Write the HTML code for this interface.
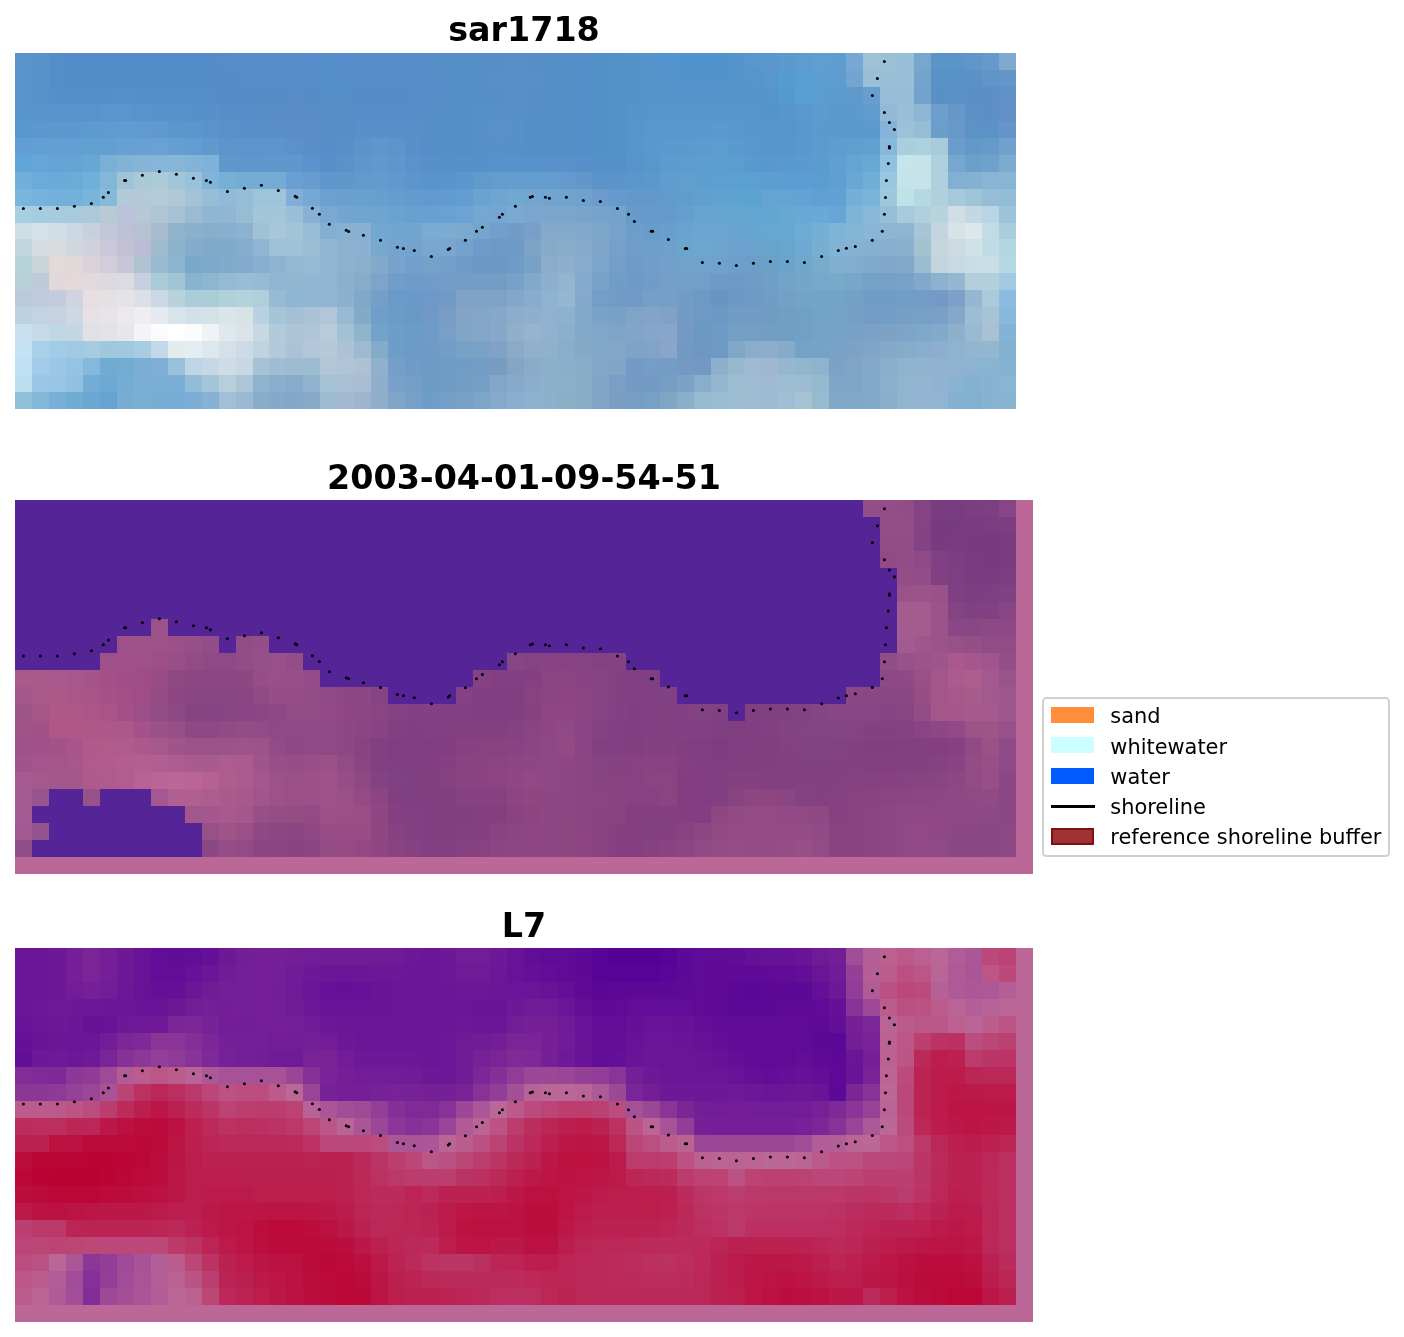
<!DOCTYPE html>
<html lang="en"><head><meta charset="utf-8"><title>shoreline detection</title>
<style>
html,body{margin:0;padding:0;background:#fff;}
body{width:1404px;height:1337px;position:relative;overflow:hidden;font-family:"DejaVu Sans","Liberation Sans",sans-serif;color:#000;}
.title{position:absolute;left:15px;width:1018px;text-align:center;font-weight:bold;font-size:33.33px;line-height:40px;height:40px;white-space:nowrap;}
.legend{position:absolute;left:1042px;top:697px;width:348px;height:159.5px;border:2px solid #d0d0d0;border-radius:4.5px;box-sizing:border-box;background:#fff;}
.sw{position:absolute;left:1050.8px;width:43.1px;height:16px;box-sizing:border-box;}
.lb{position:absolute;left:1110.3px;height:30px;line-height:30px;font-size:20.92px;white-space:nowrap;}
</style></head><body>
<svg width="1404" height="1337" viewBox="0 0 1404 1337" style="position:absolute;left:0;top:0">
<g shape-rendering="crispEdges">
<rect x="15.0" y="53.05" width="17.27" height="17.25" fill="#5994cc"/>
<rect x="31.97" y="53.05" width="17.27" height="17.25" fill="#5892cb"/>
<rect x="48.93" y="53.05" width="17.27" height="17.25" fill="#548ec9"/>
<rect x="65.9" y="53.05" width="136.03" height="17.25" fill="#538cc8"/>
<rect x="201.63" y="53.05" width="17.27" height="17.25" fill="#548cc8"/>
<rect x="218.59" y="53.05" width="17.27" height="17.25" fill="#568dc9"/>
<rect x="235.56" y="53.05" width="68.16" height="17.25" fill="#578dc9"/>
<rect x="303.42" y="53.05" width="17.27" height="17.25" fill="#578dca"/>
<rect x="320.39" y="53.05" width="17.27" height="17.25" fill="#568eca"/>
<rect x="337.35" y="53.05" width="17.27" height="17.25" fill="#578dca"/>
<rect x="354.32" y="53.05" width="68.16" height="17.25" fill="#578dc9"/>
<rect x="422.18" y="53.05" width="68.16" height="17.25" fill="#568ec8"/>
<rect x="490.05" y="53.05" width="17.27" height="17.25" fill="#578ec8"/>
<rect x="507.01" y="53.05" width="17.27" height="17.25" fill="#588fc9"/>
<rect x="523.98" y="53.05" width="17.27" height="17.25" fill="#578ec8"/>
<rect x="540.95" y="53.05" width="34.23" height="17.25" fill="#568ec8"/>
<rect x="574.88" y="53.05" width="17.27" height="17.25" fill="#558ec8"/>
<rect x="591.84" y="53.05" width="17.27" height="17.25" fill="#5490c8"/>
<rect x="608.81" y="53.05" width="17.27" height="17.25" fill="#5491c8"/>
<rect x="625.78" y="53.05" width="17.27" height="17.25" fill="#5492ca"/>
<rect x="642.74" y="53.05" width="17.27" height="17.25" fill="#5493cb"/>
<rect x="659.71" y="53.05" width="17.27" height="17.25" fill="#5294cd"/>
<rect x="676.67" y="53.05" width="51.2" height="17.25" fill="#5094ce"/>
<rect x="727.57" y="53.05" width="17.27" height="17.25" fill="#5394cd"/>
<rect x="744.54" y="53.05" width="17.27" height="17.25" fill="#5896cc"/>
<rect x="761.5" y="53.05" width="17.27" height="17.25" fill="#5b97cc"/>
<rect x="778.47" y="53.05" width="17.27" height="17.25" fill="#5b9ace"/>
<rect x="795.44" y="53.05" width="17.27" height="17.25" fill="#5c9ccf"/>
<rect x="812.4" y="53.05" width="17.27" height="17.25" fill="#609ecf"/>
<rect x="829.37" y="53.05" width="17.27" height="17.25" fill="#609dcf"/>
<rect x="846.33" y="53.05" width="17.27" height="17.25" fill="#77a7d3"/>
<rect x="863.3" y="53.05" width="17.27" height="17.25" fill="#9dc2d8"/>
<rect x="880.27" y="53.05" width="17.27" height="17.25" fill="#9cc1d7"/>
<rect x="897.23" y="53.05" width="17.27" height="17.25" fill="#98bfd6"/>
<rect x="914.2" y="53.05" width="17.27" height="17.25" fill="#77a7cf"/>
<rect x="931.16" y="53.05" width="34.23" height="17.25" fill="#5b95c7"/>
<rect x="965.1" y="53.05" width="17.27" height="17.25" fill="#6097c8"/>
<rect x="982.06" y="53.05" width="17.27" height="17.25" fill="#659aca"/>
<rect x="999.03" y="53.05" width="17.27" height="17.25" fill="#80a9cf"/>
<rect x="15.0" y="70.0" width="17.27" height="17.25" fill="#5994cc"/>
<rect x="31.97" y="70.0" width="17.27" height="17.25" fill="#5892cb"/>
<rect x="48.93" y="70.0" width="17.27" height="17.25" fill="#548ec9"/>
<rect x="65.9" y="70.0" width="136.03" height="17.25" fill="#538cc8"/>
<rect x="201.63" y="70.0" width="17.27" height="17.25" fill="#548cc8"/>
<rect x="218.59" y="70.0" width="17.27" height="17.25" fill="#558cc7"/>
<rect x="235.56" y="70.0" width="68.16" height="17.25" fill="#568cc7"/>
<rect x="303.42" y="70.0" width="17.27" height="17.25" fill="#558dc8"/>
<rect x="320.39" y="70.0" width="17.27" height="17.25" fill="#548ec8"/>
<rect x="337.35" y="70.0" width="17.27" height="17.25" fill="#558dc8"/>
<rect x="354.32" y="70.0" width="68.16" height="17.25" fill="#568cc7"/>
<rect x="422.18" y="70.0" width="17.27" height="17.25" fill="#568dc8"/>
<rect x="439.15" y="70.0" width="51.2" height="17.25" fill="#568ec8"/>
<rect x="490.05" y="70.0" width="17.27" height="17.25" fill="#588fc8"/>
<rect x="507.01" y="70.0" width="17.27" height="17.25" fill="#5a90c9"/>
<rect x="523.98" y="70.0" width="17.27" height="17.25" fill="#588fc8"/>
<rect x="540.95" y="70.0" width="34.23" height="17.25" fill="#568ec8"/>
<rect x="574.88" y="70.0" width="17.27" height="17.25" fill="#558ec8"/>
<rect x="591.84" y="70.0" width="17.27" height="17.25" fill="#5490c8"/>
<rect x="608.81" y="70.0" width="17.27" height="17.25" fill="#5491c8"/>
<rect x="625.78" y="70.0" width="17.27" height="17.25" fill="#5492ca"/>
<rect x="642.74" y="70.0" width="17.27" height="17.25" fill="#5593ca"/>
<rect x="659.71" y="70.0" width="17.27" height="17.25" fill="#5493cb"/>
<rect x="676.67" y="70.0" width="51.2" height="17.25" fill="#5393cc"/>
<rect x="727.57" y="70.0" width="17.27" height="17.25" fill="#5494cb"/>
<rect x="744.54" y="70.0" width="17.27" height="17.25" fill="#5694cb"/>
<rect x="761.5" y="70.0" width="17.27" height="17.25" fill="#5797cc"/>
<rect x="778.47" y="70.0" width="17.27" height="17.25" fill="#579cd0"/>
<rect x="795.44" y="70.0" width="17.27" height="17.25" fill="#599ed2"/>
<rect x="812.4" y="70.0" width="17.27" height="17.25" fill="#5d9ed0"/>
<rect x="829.37" y="70.0" width="17.27" height="17.25" fill="#5d9ccf"/>
<rect x="846.33" y="70.0" width="17.27" height="17.25" fill="#74a5d1"/>
<rect x="863.3" y="70.0" width="17.27" height="17.25" fill="#9bbfd7"/>
<rect x="880.27" y="70.0" width="17.27" height="17.25" fill="#9bc0d6"/>
<rect x="897.23" y="70.0" width="17.27" height="17.25" fill="#9abfd6"/>
<rect x="914.2" y="70.0" width="17.27" height="17.25" fill="#75a5cd"/>
<rect x="931.16" y="70.0" width="34.23" height="17.25" fill="#5992c5"/>
<rect x="965.1" y="70.0" width="17.27" height="17.25" fill="#5b92c6"/>
<rect x="982.06" y="70.0" width="17.27" height="17.25" fill="#6194c7"/>
<rect x="999.03" y="70.0" width="17.27" height="17.25" fill="#6596c9"/>
<rect x="15.0" y="86.94" width="17.27" height="17.25" fill="#5994cc"/>
<rect x="31.97" y="86.94" width="17.27" height="17.25" fill="#5892cb"/>
<rect x="48.93" y="86.94" width="17.27" height="17.25" fill="#558fca"/>
<rect x="65.9" y="86.94" width="34.23" height="17.25" fill="#548ec9"/>
<rect x="99.83" y="86.94" width="17.27" height="17.25" fill="#558fca"/>
<rect x="116.8" y="86.94" width="17.27" height="17.25" fill="#5690ca"/>
<rect x="133.76" y="86.94" width="17.27" height="17.25" fill="#558fca"/>
<rect x="150.73" y="86.94" width="51.2" height="17.25" fill="#548ec9"/>
<rect x="201.63" y="86.94" width="17.27" height="17.25" fill="#558dc8"/>
<rect x="218.59" y="86.94" width="17.27" height="17.25" fill="#558cc7"/>
<rect x="235.56" y="86.94" width="51.2" height="17.25" fill="#568cc6"/>
<rect x="286.46" y="86.94" width="17.27" height="17.25" fill="#578cc6"/>
<rect x="303.42" y="86.94" width="17.27" height="17.25" fill="#568cc6"/>
<rect x="320.39" y="86.94" width="17.27" height="17.25" fill="#558ec7"/>
<rect x="337.35" y="86.94" width="17.27" height="17.25" fill="#558dc7"/>
<rect x="354.32" y="86.94" width="51.2" height="17.25" fill="#568cc6"/>
<rect x="405.22" y="86.94" width="17.27" height="17.25" fill="#568cc7"/>
<rect x="422.18" y="86.94" width="17.27" height="17.25" fill="#568dc8"/>
<rect x="439.15" y="86.94" width="51.2" height="17.25" fill="#568ec8"/>
<rect x="490.05" y="86.94" width="17.27" height="17.25" fill="#578ec8"/>
<rect x="507.01" y="86.94" width="17.27" height="17.25" fill="#588fc8"/>
<rect x="523.98" y="86.94" width="17.27" height="17.25" fill="#578ec8"/>
<rect x="540.95" y="86.94" width="34.23" height="17.25" fill="#568ec8"/>
<rect x="574.88" y="86.94" width="17.27" height="17.25" fill="#558ec8"/>
<rect x="591.84" y="86.94" width="17.27" height="17.25" fill="#5490c8"/>
<rect x="608.81" y="86.94" width="17.27" height="17.25" fill="#5491c8"/>
<rect x="625.78" y="86.94" width="17.27" height="17.25" fill="#5492ca"/>
<rect x="642.74" y="86.94" width="119.06" height="17.25" fill="#5593ca"/>
<rect x="761.5" y="86.94" width="17.27" height="17.25" fill="#5595cc"/>
<rect x="778.47" y="86.94" width="17.27" height="17.25" fill="#549ad0"/>
<rect x="795.44" y="86.94" width="17.27" height="17.25" fill="#579ed1"/>
<rect x="812.4" y="86.94" width="17.27" height="17.25" fill="#5c9dd0"/>
<rect x="829.37" y="86.94" width="17.27" height="17.25" fill="#5c9bcd"/>
<rect x="846.33" y="86.94" width="17.27" height="17.25" fill="#609acd"/>
<rect x="863.3" y="86.94" width="17.27" height="17.25" fill="#689ecf"/>
<rect x="880.27" y="86.94" width="34.23" height="17.25" fill="#98bdd6"/>
<rect x="914.2" y="86.94" width="17.27" height="17.25" fill="#73a3cc"/>
<rect x="931.16" y="86.94" width="17.27" height="17.25" fill="#5a90c5"/>
<rect x="948.13" y="86.94" width="17.27" height="17.25" fill="#5b91c5"/>
<rect x="965.1" y="86.94" width="17.27" height="17.25" fill="#5a90c5"/>
<rect x="982.06" y="86.94" width="17.27" height="17.25" fill="#5c8fc5"/>
<rect x="999.03" y="86.94" width="17.27" height="17.25" fill="#6090c6"/>
<rect x="15.0" y="103.88" width="17.27" height="17.25" fill="#5894cc"/>
<rect x="31.97" y="103.88" width="68.16" height="17.25" fill="#5893cc"/>
<rect x="99.83" y="103.88" width="34.23" height="17.25" fill="#5a95cd"/>
<rect x="133.76" y="103.88" width="17.27" height="17.25" fill="#5993cc"/>
<rect x="150.73" y="103.88" width="34.23" height="17.25" fill="#5792cb"/>
<rect x="184.66" y="103.88" width="17.27" height="17.25" fill="#5791cb"/>
<rect x="201.63" y="103.88" width="17.27" height="17.25" fill="#5790ca"/>
<rect x="218.59" y="103.88" width="17.27" height="17.25" fill="#578ec8"/>
<rect x="235.56" y="103.88" width="34.23" height="17.25" fill="#578dc8"/>
<rect x="269.49" y="103.88" width="17.27" height="17.25" fill="#588dc7"/>
<rect x="286.46" y="103.88" width="34.23" height="17.25" fill="#5a8dc5"/>
<rect x="320.39" y="103.88" width="17.27" height="17.25" fill="#588ec7"/>
<rect x="337.35" y="103.88" width="17.27" height="17.25" fill="#578ec8"/>
<rect x="354.32" y="103.88" width="68.16" height="17.25" fill="#578dc8"/>
<rect x="422.18" y="103.88" width="51.2" height="17.25" fill="#568ec8"/>
<rect x="473.08" y="103.88" width="17.27" height="17.25" fill="#578fc8"/>
<rect x="490.05" y="103.88" width="17.27" height="17.25" fill="#5890c8"/>
<rect x="507.01" y="103.88" width="17.27" height="17.25" fill="#578fc8"/>
<rect x="523.98" y="103.88" width="51.2" height="17.25" fill="#568ec8"/>
<rect x="574.88" y="103.88" width="17.27" height="17.25" fill="#558ec8"/>
<rect x="591.84" y="103.88" width="17.27" height="17.25" fill="#5490c8"/>
<rect x="608.81" y="103.88" width="17.27" height="17.25" fill="#5491c9"/>
<rect x="625.78" y="103.88" width="17.27" height="17.25" fill="#5593ca"/>
<rect x="642.74" y="103.88" width="51.2" height="17.25" fill="#5694cb"/>
<rect x="693.64" y="103.88" width="17.27" height="17.25" fill="#5695cb"/>
<rect x="710.61" y="103.88" width="17.27" height="17.25" fill="#5795cb"/>
<rect x="727.57" y="103.88" width="17.27" height="17.25" fill="#5695cb"/>
<rect x="744.54" y="103.88" width="17.27" height="17.25" fill="#5694cb"/>
<rect x="761.5" y="103.88" width="17.27" height="17.25" fill="#5594cb"/>
<rect x="778.47" y="103.88" width="17.27" height="17.25" fill="#5596cc"/>
<rect x="795.44" y="103.88" width="17.27" height="17.25" fill="#5899ce"/>
<rect x="812.4" y="103.88" width="17.27" height="17.25" fill="#5c9bce"/>
<rect x="829.37" y="103.88" width="17.27" height="17.25" fill="#5b99cd"/>
<rect x="846.33" y="103.88" width="17.27" height="17.25" fill="#5c99cd"/>
<rect x="863.3" y="103.88" width="17.27" height="17.25" fill="#629cce"/>
<rect x="880.27" y="103.88" width="17.27" height="17.25" fill="#92bad7"/>
<rect x="897.23" y="103.88" width="17.27" height="17.25" fill="#99bed6"/>
<rect x="914.2" y="103.88" width="17.27" height="17.25" fill="#8eb6d5"/>
<rect x="931.16" y="103.88" width="17.27" height="17.25" fill="#6e9fcc"/>
<rect x="948.13" y="103.88" width="17.27" height="17.25" fill="#6597c8"/>
<rect x="965.1" y="103.88" width="17.27" height="17.25" fill="#5c91c5"/>
<rect x="982.06" y="103.88" width="17.27" height="17.25" fill="#5b8fc5"/>
<rect x="999.03" y="103.88" width="17.27" height="17.25" fill="#618fc7"/>
<rect x="15.0" y="120.83" width="17.27" height="17.25" fill="#5a97ce"/>
<rect x="31.97" y="120.83" width="17.27" height="17.25" fill="#5c98ce"/>
<rect x="48.93" y="120.83" width="34.23" height="17.25" fill="#5d99cf"/>
<rect x="82.86" y="120.83" width="17.27" height="17.25" fill="#5d9ad0"/>
<rect x="99.83" y="120.83" width="17.27" height="17.25" fill="#609bd0"/>
<rect x="116.8" y="120.83" width="17.27" height="17.25" fill="#619bd0"/>
<rect x="133.76" y="120.83" width="17.27" height="17.25" fill="#619acf"/>
<rect x="150.73" y="120.83" width="17.27" height="17.25" fill="#6099ce"/>
<rect x="167.69" y="120.83" width="17.27" height="17.25" fill="#5b96cd"/>
<rect x="184.66" y="120.83" width="17.27" height="17.25" fill="#5c96cd"/>
<rect x="201.63" y="120.83" width="17.27" height="17.25" fill="#5b94cc"/>
<rect x="218.59" y="120.83" width="17.27" height="17.25" fill="#5a91ca"/>
<rect x="235.56" y="120.83" width="34.23" height="17.25" fill="#5990c9"/>
<rect x="269.49" y="120.83" width="17.27" height="17.25" fill="#5a8fc8"/>
<rect x="286.46" y="120.83" width="17.27" height="17.25" fill="#5b8ec6"/>
<rect x="303.42" y="120.83" width="17.27" height="17.25" fill="#5b8dc6"/>
<rect x="320.39" y="120.83" width="17.27" height="17.25" fill="#588dc7"/>
<rect x="337.35" y="120.83" width="17.27" height="17.25" fill="#588ec8"/>
<rect x="354.32" y="120.83" width="17.27" height="17.25" fill="#5990c9"/>
<rect x="371.29" y="120.83" width="34.23" height="17.25" fill="#5a90c9"/>
<rect x="405.22" y="120.83" width="17.27" height="17.25" fill="#588fc9"/>
<rect x="422.18" y="120.83" width="51.2" height="17.25" fill="#568ec8"/>
<rect x="473.08" y="120.83" width="17.27" height="17.25" fill="#5890c8"/>
<rect x="490.05" y="120.83" width="17.27" height="17.25" fill="#5a91c9"/>
<rect x="507.01" y="120.83" width="17.27" height="17.25" fill="#5890c8"/>
<rect x="523.98" y="120.83" width="51.2" height="17.25" fill="#568ec8"/>
<rect x="574.88" y="120.83" width="17.27" height="17.25" fill="#558ec8"/>
<rect x="591.84" y="120.83" width="17.27" height="17.25" fill="#5490c8"/>
<rect x="608.81" y="120.83" width="17.27" height="17.25" fill="#5492c9"/>
<rect x="625.78" y="120.83" width="17.27" height="17.25" fill="#5695cc"/>
<rect x="642.74" y="120.83" width="51.2" height="17.25" fill="#5797cd"/>
<rect x="693.64" y="120.83" width="17.27" height="17.25" fill="#5998cd"/>
<rect x="710.61" y="120.83" width="17.27" height="17.25" fill="#5a9ace"/>
<rect x="727.57" y="120.83" width="17.27" height="17.25" fill="#5998cd"/>
<rect x="744.54" y="120.83" width="17.27" height="17.25" fill="#5796cd"/>
<rect x="761.5" y="120.83" width="34.23" height="17.25" fill="#5694cc"/>
<rect x="795.44" y="120.83" width="17.27" height="17.25" fill="#5896cc"/>
<rect x="812.4" y="120.83" width="34.23" height="17.25" fill="#5c9acd"/>
<rect x="846.33" y="120.83" width="17.27" height="17.25" fill="#5b9acd"/>
<rect x="863.3" y="120.83" width="17.27" height="17.25" fill="#5c9ace"/>
<rect x="880.27" y="120.83" width="17.27" height="17.25" fill="#86b3d9"/>
<rect x="897.23" y="120.83" width="17.27" height="17.25" fill="#9dc2d7"/>
<rect x="914.2" y="120.83" width="17.27" height="17.25" fill="#97bcd6"/>
<rect x="931.16" y="120.83" width="17.27" height="17.25" fill="#6b9ecb"/>
<rect x="948.13" y="120.83" width="17.27" height="17.25" fill="#6699c9"/>
<rect x="965.1" y="120.83" width="17.27" height="17.25" fill="#5b93c5"/>
<rect x="982.06" y="120.83" width="17.27" height="17.25" fill="#5d92c6"/>
<rect x="999.03" y="120.83" width="17.27" height="17.25" fill="#6695c9"/>
<rect x="15.0" y="137.77" width="17.27" height="17.25" fill="#609ed4"/>
<rect x="31.97" y="137.77" width="17.27" height="17.25" fill="#629fd3"/>
<rect x="48.93" y="137.77" width="17.27" height="17.25" fill="#649fd2"/>
<rect x="65.9" y="137.77" width="17.27" height="17.25" fill="#639fd2"/>
<rect x="82.86" y="137.77" width="34.23" height="17.25" fill="#63a0d2"/>
<rect x="116.8" y="137.77" width="17.27" height="17.25" fill="#67a1d3"/>
<rect x="133.76" y="137.77" width="17.27" height="17.25" fill="#67a0d2"/>
<rect x="150.73" y="137.77" width="17.27" height="17.25" fill="#68a1d2"/>
<rect x="167.69" y="137.77" width="17.27" height="17.25" fill="#659ed0"/>
<rect x="184.66" y="137.77" width="17.27" height="17.25" fill="#639cd0"/>
<rect x="201.63" y="137.77" width="17.27" height="17.25" fill="#6198ce"/>
<rect x="218.59" y="137.77" width="17.27" height="17.25" fill="#5c95cc"/>
<rect x="235.56" y="137.77" width="51.2" height="17.25" fill="#5c94cb"/>
<rect x="286.46" y="137.77" width="17.27" height="17.25" fill="#5b92ca"/>
<rect x="303.42" y="137.77" width="17.27" height="17.25" fill="#598ec8"/>
<rect x="320.39" y="137.77" width="17.27" height="17.25" fill="#578dc8"/>
<rect x="337.35" y="137.77" width="17.27" height="17.25" fill="#598fc9"/>
<rect x="354.32" y="137.77" width="17.27" height="17.25" fill="#5d93ca"/>
<rect x="371.29" y="137.77" width="17.27" height="17.25" fill="#6096cb"/>
<rect x="388.25" y="137.77" width="17.27" height="17.25" fill="#5d94cb"/>
<rect x="405.22" y="137.77" width="17.27" height="17.25" fill="#5990ca"/>
<rect x="422.18" y="137.77" width="17.27" height="17.25" fill="#568ec9"/>
<rect x="439.15" y="137.77" width="34.23" height="17.25" fill="#568ec8"/>
<rect x="473.08" y="137.77" width="17.27" height="17.25" fill="#578fc8"/>
<rect x="490.05" y="137.77" width="17.27" height="17.25" fill="#5890c8"/>
<rect x="507.01" y="137.77" width="17.27" height="17.25" fill="#578fc8"/>
<rect x="523.98" y="137.77" width="51.2" height="17.25" fill="#568ec8"/>
<rect x="574.88" y="137.77" width="17.27" height="17.25" fill="#558ec8"/>
<rect x="591.84" y="137.77" width="17.27" height="17.25" fill="#5490c8"/>
<rect x="608.81" y="137.77" width="17.27" height="17.25" fill="#5492c9"/>
<rect x="625.78" y="137.77" width="17.27" height="17.25" fill="#5695cb"/>
<rect x="642.74" y="137.77" width="17.27" height="17.25" fill="#5898cd"/>
<rect x="659.71" y="137.77" width="17.27" height="17.25" fill="#5999ce"/>
<rect x="676.67" y="137.77" width="17.27" height="17.25" fill="#5a9ace"/>
<rect x="693.64" y="137.77" width="17.27" height="17.25" fill="#5b9bce"/>
<rect x="710.61" y="137.77" width="17.27" height="17.25" fill="#5c9ccf"/>
<rect x="727.57" y="137.77" width="17.27" height="17.25" fill="#5a9acf"/>
<rect x="744.54" y="137.77" width="17.27" height="17.25" fill="#5797cd"/>
<rect x="761.5" y="137.77" width="34.23" height="17.25" fill="#5796cd"/>
<rect x="795.44" y="137.77" width="17.27" height="17.25" fill="#5998cd"/>
<rect x="812.4" y="137.77" width="17.27" height="17.25" fill="#5c9bce"/>
<rect x="829.37" y="137.77" width="17.27" height="17.25" fill="#609dcf"/>
<rect x="846.33" y="137.77" width="17.27" height="17.25" fill="#609ed0"/>
<rect x="863.3" y="137.77" width="17.27" height="17.25" fill="#62a0d0"/>
<rect x="880.27" y="137.77" width="17.27" height="17.25" fill="#87b9dc"/>
<rect x="897.23" y="137.77" width="17.27" height="17.25" fill="#aacedc"/>
<rect x="914.2" y="137.77" width="17.27" height="17.25" fill="#add0dd"/>
<rect x="931.16" y="137.77" width="17.27" height="17.25" fill="#a9cada"/>
<rect x="948.13" y="137.77" width="17.27" height="17.25" fill="#6a9dcb"/>
<rect x="965.1" y="137.77" width="17.27" height="17.25" fill="#6399c8"/>
<rect x="982.06" y="137.77" width="17.27" height="17.25" fill="#669ac9"/>
<rect x="999.03" y="137.77" width="17.27" height="17.25" fill="#70a0cc"/>
<rect x="15.0" y="154.72" width="17.27" height="17.25" fill="#61a4d8"/>
<rect x="31.97" y="154.72" width="17.27" height="17.25" fill="#65a5d7"/>
<rect x="48.93" y="154.72" width="17.27" height="17.25" fill="#65a3d5"/>
<rect x="65.9" y="154.72" width="17.27" height="17.25" fill="#64a3d4"/>
<rect x="82.86" y="154.72" width="17.27" height="17.25" fill="#66a8d4"/>
<rect x="99.83" y="154.72" width="17.27" height="17.25" fill="#7bb0d6"/>
<rect x="116.8" y="154.72" width="17.27" height="17.25" fill="#82b2d7"/>
<rect x="133.76" y="154.72" width="17.27" height="17.25" fill="#86b4d8"/>
<rect x="150.73" y="154.72" width="17.27" height="17.25" fill="#87b5d9"/>
<rect x="167.69" y="154.72" width="17.27" height="17.25" fill="#88b6d9"/>
<rect x="184.66" y="154.72" width="17.27" height="17.25" fill="#83b4d8"/>
<rect x="201.63" y="154.72" width="17.27" height="17.25" fill="#7fb2d8"/>
<rect x="218.59" y="154.72" width="17.27" height="17.25" fill="#6098cc"/>
<rect x="235.56" y="154.72" width="34.23" height="17.25" fill="#5d97cc"/>
<rect x="269.49" y="154.72" width="17.27" height="17.25" fill="#6098cd"/>
<rect x="286.46" y="154.72" width="17.27" height="17.25" fill="#6097cd"/>
<rect x="303.42" y="154.72" width="17.27" height="17.25" fill="#5b93cc"/>
<rect x="320.39" y="154.72" width="17.27" height="17.25" fill="#578fc9"/>
<rect x="337.35" y="154.72" width="17.27" height="17.25" fill="#5a92ca"/>
<rect x="354.32" y="154.72" width="17.27" height="17.25" fill="#6196cb"/>
<rect x="371.29" y="154.72" width="17.27" height="17.25" fill="#6398cc"/>
<rect x="388.25" y="154.72" width="17.27" height="17.25" fill="#6196cc"/>
<rect x="405.22" y="154.72" width="17.27" height="17.25" fill="#5b92cb"/>
<rect x="422.18" y="154.72" width="17.27" height="17.25" fill="#5890ca"/>
<rect x="439.15" y="154.72" width="17.27" height="17.25" fill="#5790c9"/>
<rect x="456.12" y="154.72" width="17.27" height="17.25" fill="#5890c9"/>
<rect x="473.08" y="154.72" width="17.27" height="17.25" fill="#5891ca"/>
<rect x="490.05" y="154.72" width="34.23" height="17.25" fill="#5992ca"/>
<rect x="523.98" y="154.72" width="17.27" height="17.25" fill="#5892ca"/>
<rect x="540.95" y="154.72" width="17.27" height="17.25" fill="#5992ca"/>
<rect x="557.91" y="154.72" width="17.27" height="17.25" fill="#5991c9"/>
<rect x="574.88" y="154.72" width="17.27" height="17.25" fill="#5890c9"/>
<rect x="591.84" y="154.72" width="17.27" height="17.25" fill="#5590c8"/>
<rect x="608.81" y="154.72" width="17.27" height="17.25" fill="#5591c8"/>
<rect x="625.78" y="154.72" width="17.27" height="17.25" fill="#5794c9"/>
<rect x="642.74" y="154.72" width="17.27" height="17.25" fill="#5997cb"/>
<rect x="659.71" y="154.72" width="17.27" height="17.25" fill="#5c9bcd"/>
<rect x="676.67" y="154.72" width="17.27" height="17.25" fill="#5d9dce"/>
<rect x="693.64" y="154.72" width="17.27" height="17.25" fill="#5c9ecf"/>
<rect x="710.61" y="154.72" width="17.27" height="17.25" fill="#5b9ed0"/>
<rect x="727.57" y="154.72" width="17.27" height="17.25" fill="#5a9dcf"/>
<rect x="744.54" y="154.72" width="17.27" height="17.25" fill="#599ace"/>
<rect x="761.5" y="154.72" width="17.27" height="17.25" fill="#5898ce"/>
<rect x="778.47" y="154.72" width="17.27" height="17.25" fill="#5899ce"/>
<rect x="795.44" y="154.72" width="17.27" height="17.25" fill="#5a9acf"/>
<rect x="812.4" y="154.72" width="17.27" height="17.25" fill="#5b9ccf"/>
<rect x="829.37" y="154.72" width="17.27" height="17.25" fill="#609fd0"/>
<rect x="846.33" y="154.72" width="17.27" height="17.25" fill="#65a4d2"/>
<rect x="863.3" y="154.72" width="17.27" height="17.25" fill="#69a7d4"/>
<rect x="880.27" y="154.72" width="17.27" height="17.25" fill="#8fc2df"/>
<rect x="897.23" y="154.72" width="17.27" height="17.25" fill="#c4e5ea"/>
<rect x="914.2" y="154.72" width="17.27" height="17.25" fill="#c5e3e8"/>
<rect x="931.16" y="154.72" width="17.27" height="17.25" fill="#aecfdc"/>
<rect x="948.13" y="154.72" width="17.27" height="17.25" fill="#77a7cf"/>
<rect x="965.1" y="154.72" width="17.27" height="17.25" fill="#6ba0ca"/>
<rect x="982.06" y="154.72" width="17.27" height="17.25" fill="#6ea2cb"/>
<rect x="999.03" y="154.72" width="17.27" height="17.25" fill="#7cabd0"/>
<rect x="15.0" y="171.67" width="17.27" height="17.25" fill="#72b0dc"/>
<rect x="31.97" y="171.67" width="17.27" height="17.25" fill="#6babda"/>
<rect x="48.93" y="171.67" width="17.27" height="17.25" fill="#6baad8"/>
<rect x="65.9" y="171.67" width="17.27" height="17.25" fill="#6cabd8"/>
<rect x="82.86" y="171.67" width="17.27" height="17.25" fill="#6fb0d8"/>
<rect x="99.83" y="171.67" width="17.27" height="17.25" fill="#83b7d8"/>
<rect x="116.8" y="171.67" width="17.27" height="17.25" fill="#a0c4d7"/>
<rect x="133.76" y="171.67" width="17.27" height="17.25" fill="#a9c9d8"/>
<rect x="150.73" y="171.67" width="17.27" height="17.25" fill="#accbd9"/>
<rect x="167.69" y="171.67" width="17.27" height="17.25" fill="#a1c5da"/>
<rect x="184.66" y="171.67" width="17.27" height="17.25" fill="#9ac1da"/>
<rect x="201.63" y="171.67" width="17.27" height="17.25" fill="#80b4d9"/>
<rect x="218.59" y="171.67" width="17.27" height="17.25" fill="#78afd6"/>
<rect x="235.56" y="171.67" width="34.23" height="17.25" fill="#74acd4"/>
<rect x="269.49" y="171.67" width="17.27" height="17.25" fill="#74aad4"/>
<rect x="286.46" y="171.67" width="17.27" height="17.25" fill="#699fd1"/>
<rect x="303.42" y="171.67" width="17.27" height="17.25" fill="#679cd0"/>
<rect x="320.39" y="171.67" width="17.27" height="17.25" fill="#6097cd"/>
<rect x="337.35" y="171.67" width="17.27" height="17.25" fill="#6198cc"/>
<rect x="354.32" y="171.67" width="17.27" height="17.25" fill="#639acd"/>
<rect x="371.29" y="171.67" width="17.27" height="17.25" fill="#649acd"/>
<rect x="388.25" y="171.67" width="17.27" height="17.25" fill="#6299cd"/>
<rect x="405.22" y="171.67" width="17.27" height="17.25" fill="#5d95cc"/>
<rect x="422.18" y="171.67" width="34.23" height="17.25" fill="#5a94cc"/>
<rect x="456.12" y="171.67" width="17.27" height="17.25" fill="#5b96cc"/>
<rect x="473.08" y="171.67" width="17.27" height="17.25" fill="#619acd"/>
<rect x="490.05" y="171.67" width="17.27" height="17.25" fill="#649cce"/>
<rect x="507.01" y="171.67" width="34.23" height="17.25" fill="#649ece"/>
<rect x="540.95" y="171.67" width="17.27" height="17.25" fill="#649cce"/>
<rect x="557.91" y="171.67" width="17.27" height="17.25" fill="#649acd"/>
<rect x="574.88" y="171.67" width="17.27" height="17.25" fill="#6297cb"/>
<rect x="591.84" y="171.67" width="17.27" height="17.25" fill="#5b93ca"/>
<rect x="608.81" y="171.67" width="17.27" height="17.25" fill="#5b94ca"/>
<rect x="625.78" y="171.67" width="17.27" height="17.25" fill="#5b96c9"/>
<rect x="642.74" y="171.67" width="17.27" height="17.25" fill="#5c98ca"/>
<rect x="659.71" y="171.67" width="17.27" height="17.25" fill="#609ccd"/>
<rect x="676.67" y="171.67" width="17.27" height="17.25" fill="#609ece"/>
<rect x="693.64" y="171.67" width="17.27" height="17.25" fill="#5d9ecf"/>
<rect x="710.61" y="171.67" width="17.27" height="17.25" fill="#5ba0d0"/>
<rect x="727.57" y="171.67" width="17.27" height="17.25" fill="#5aa1d0"/>
<rect x="744.54" y="171.67" width="17.27" height="17.25" fill="#5ca0cf"/>
<rect x="761.5" y="171.67" width="17.27" height="17.25" fill="#5d9ed0"/>
<rect x="778.47" y="171.67" width="34.23" height="17.25" fill="#5c9ed1"/>
<rect x="812.4" y="171.67" width="17.27" height="17.25" fill="#5b9dd0"/>
<rect x="829.37" y="171.67" width="17.27" height="17.25" fill="#60a0d1"/>
<rect x="846.33" y="171.67" width="17.27" height="17.25" fill="#69a7d4"/>
<rect x="863.3" y="171.67" width="17.27" height="17.25" fill="#71aed7"/>
<rect x="880.27" y="171.67" width="17.27" height="17.25" fill="#98c8e0"/>
<rect x="897.23" y="171.67" width="17.27" height="17.25" fill="#c3e4ea"/>
<rect x="914.2" y="171.67" width="17.27" height="17.25" fill="#c5e3e8"/>
<rect x="931.16" y="171.67" width="17.27" height="17.25" fill="#afd0de"/>
<rect x="948.13" y="171.67" width="17.27" height="17.25" fill="#83b0d2"/>
<rect x="965.1" y="171.67" width="17.27" height="17.25" fill="#84b0d2"/>
<rect x="982.06" y="171.67" width="17.27" height="17.25" fill="#8ab4d3"/>
<rect x="999.03" y="171.67" width="17.27" height="17.25" fill="#89b5d4"/>
<rect x="15.0" y="188.61" width="17.27" height="17.25" fill="#7ab5df"/>
<rect x="31.97" y="188.61" width="17.27" height="17.25" fill="#75b2dd"/>
<rect x="48.93" y="188.61" width="17.27" height="17.25" fill="#73b0db"/>
<rect x="65.9" y="188.61" width="17.27" height="17.25" fill="#73b1db"/>
<rect x="82.86" y="188.61" width="17.27" height="17.25" fill="#79b5db"/>
<rect x="99.83" y="188.61" width="17.27" height="17.25" fill="#84badb"/>
<rect x="116.8" y="188.61" width="17.27" height="17.25" fill="#b5cad8"/>
<rect x="133.76" y="188.61" width="17.27" height="17.25" fill="#b3cbd8"/>
<rect x="150.73" y="188.61" width="17.27" height="17.25" fill="#b4ccd7"/>
<rect x="167.69" y="188.61" width="17.27" height="17.25" fill="#afc9d7"/>
<rect x="184.66" y="188.61" width="17.27" height="17.25" fill="#a2c3d8"/>
<rect x="201.63" y="188.61" width="17.27" height="17.25" fill="#98bdd7"/>
<rect x="218.59" y="188.61" width="17.27" height="17.25" fill="#90bad7"/>
<rect x="235.56" y="188.61" width="17.27" height="17.25" fill="#94bdd7"/>
<rect x="252.52" y="188.61" width="17.27" height="17.25" fill="#9ec4da"/>
<rect x="269.49" y="188.61" width="17.27" height="17.25" fill="#9fc4da"/>
<rect x="286.46" y="188.61" width="17.27" height="17.25" fill="#80aed6"/>
<rect x="303.42" y="188.61" width="17.27" height="17.25" fill="#77a7d4"/>
<rect x="320.39" y="188.61" width="17.27" height="17.25" fill="#6ba1d0"/>
<rect x="337.35" y="188.61" width="17.27" height="17.25" fill="#69a0cf"/>
<rect x="354.32" y="188.61" width="17.27" height="17.25" fill="#68a0cf"/>
<rect x="371.29" y="188.61" width="17.27" height="17.25" fill="#67a0cf"/>
<rect x="388.25" y="188.61" width="17.27" height="17.25" fill="#659ece"/>
<rect x="405.22" y="188.61" width="17.27" height="17.25" fill="#629bce"/>
<rect x="422.18" y="188.61" width="17.27" height="17.25" fill="#629acf"/>
<rect x="439.15" y="188.61" width="17.27" height="17.25" fill="#629bd0"/>
<rect x="456.12" y="188.61" width="17.27" height="17.25" fill="#639dd0"/>
<rect x="473.08" y="188.61" width="17.27" height="17.25" fill="#6aa2d0"/>
<rect x="490.05" y="188.61" width="17.27" height="17.25" fill="#6fa6d1"/>
<rect x="507.01" y="188.61" width="17.27" height="17.25" fill="#71a8d1"/>
<rect x="523.98" y="188.61" width="17.27" height="17.25" fill="#72a6d1"/>
<rect x="540.95" y="188.61" width="17.27" height="17.25" fill="#72a4d0"/>
<rect x="557.91" y="188.61" width="17.27" height="17.25" fill="#71a3cf"/>
<rect x="574.88" y="188.61" width="17.27" height="17.25" fill="#6fa1ce"/>
<rect x="591.84" y="188.61" width="17.27" height="17.25" fill="#6b9ccd"/>
<rect x="608.81" y="188.61" width="17.27" height="17.25" fill="#679acc"/>
<rect x="625.78" y="188.61" width="17.27" height="17.25" fill="#6398cb"/>
<rect x="642.74" y="188.61" width="17.27" height="17.25" fill="#6299ca"/>
<rect x="659.71" y="188.61" width="17.27" height="17.25" fill="#619bcc"/>
<rect x="676.67" y="188.61" width="17.27" height="17.25" fill="#609cce"/>
<rect x="693.64" y="188.61" width="17.27" height="17.25" fill="#609fce"/>
<rect x="710.61" y="188.61" width="17.27" height="17.25" fill="#60a2d0"/>
<rect x="727.57" y="188.61" width="17.27" height="17.25" fill="#5da4d0"/>
<rect x="744.54" y="188.61" width="17.27" height="17.25" fill="#5ca3cf"/>
<rect x="761.5" y="188.61" width="17.27" height="17.25" fill="#64a4d2"/>
<rect x="778.47" y="188.61" width="17.27" height="17.25" fill="#64a3d3"/>
<rect x="795.44" y="188.61" width="17.27" height="17.25" fill="#63a2d3"/>
<rect x="812.4" y="188.61" width="17.27" height="17.25" fill="#61a1d2"/>
<rect x="829.37" y="188.61" width="17.27" height="17.25" fill="#61a1d3"/>
<rect x="846.33" y="188.61" width="17.27" height="17.25" fill="#73afd8"/>
<rect x="863.3" y="188.61" width="17.27" height="17.25" fill="#7bb4d9"/>
<rect x="880.27" y="188.61" width="17.27" height="17.25" fill="#9dc9de"/>
<rect x="897.23" y="188.61" width="17.27" height="17.25" fill="#bfe2e9"/>
<rect x="914.2" y="188.61" width="17.27" height="17.25" fill="#b5d8e2"/>
<rect x="931.16" y="188.61" width="17.27" height="17.25" fill="#afd1de"/>
<rect x="948.13" y="188.61" width="17.27" height="17.25" fill="#a6cada"/>
<rect x="965.1" y="188.61" width="17.27" height="17.25" fill="#a0c4d7"/>
<rect x="982.06" y="188.61" width="17.27" height="17.25" fill="#96bcd6"/>
<rect x="999.03" y="188.61" width="17.27" height="17.25" fill="#93bcd7"/>
<rect x="15.0" y="205.56" width="17.27" height="17.25" fill="#a8cee2"/>
<rect x="31.97" y="205.56" width="17.27" height="17.25" fill="#a5cde2"/>
<rect x="48.93" y="205.56" width="17.27" height="17.25" fill="#a6cbdf"/>
<rect x="65.9" y="205.56" width="17.27" height="17.25" fill="#a8cadd"/>
<rect x="82.86" y="205.56" width="17.27" height="17.25" fill="#acc9d9"/>
<rect x="99.83" y="205.56" width="17.27" height="17.25" fill="#b9cad7"/>
<rect x="116.8" y="205.56" width="17.27" height="17.25" fill="#bac3d9"/>
<rect x="133.76" y="205.56" width="17.27" height="17.25" fill="#b8c7d5"/>
<rect x="150.73" y="205.56" width="17.27" height="17.25" fill="#b0c5d3"/>
<rect x="167.69" y="205.56" width="17.27" height="17.25" fill="#a7c2d3"/>
<rect x="184.66" y="205.56" width="17.27" height="17.25" fill="#9abbd2"/>
<rect x="201.63" y="205.56" width="17.27" height="17.25" fill="#90b7d2"/>
<rect x="218.59" y="205.56" width="17.27" height="17.25" fill="#8fb7d3"/>
<rect x="235.56" y="205.56" width="17.27" height="17.25" fill="#97bcd4"/>
<rect x="252.52" y="205.56" width="17.27" height="17.25" fill="#a3c6d9"/>
<rect x="269.49" y="205.56" width="17.27" height="17.25" fill="#a4c6d9"/>
<rect x="286.46" y="205.56" width="17.27" height="17.25" fill="#9cbfd8"/>
<rect x="303.42" y="205.56" width="17.27" height="17.25" fill="#87b1d6"/>
<rect x="320.39" y="205.56" width="17.27" height="17.25" fill="#79a9d3"/>
<rect x="337.35" y="205.56" width="17.27" height="17.25" fill="#72a6d1"/>
<rect x="354.32" y="205.56" width="17.27" height="17.25" fill="#6fa6d0"/>
<rect x="371.29" y="205.56" width="17.27" height="17.25" fill="#6da5d0"/>
<rect x="388.25" y="205.56" width="17.27" height="17.25" fill="#6aa2d0"/>
<rect x="405.22" y="205.56" width="17.27" height="17.25" fill="#68a1d0"/>
<rect x="422.18" y="205.56" width="17.27" height="17.25" fill="#68a0d1"/>
<rect x="439.15" y="205.56" width="17.27" height="17.25" fill="#68a1d2"/>
<rect x="456.12" y="205.56" width="17.27" height="17.25" fill="#6ca3d2"/>
<rect x="473.08" y="205.56" width="17.27" height="17.25" fill="#74a7d1"/>
<rect x="490.05" y="205.56" width="17.27" height="17.25" fill="#75a6d0"/>
<rect x="507.01" y="205.56" width="17.27" height="17.25" fill="#79aad2"/>
<rect x="523.98" y="205.56" width="17.27" height="17.25" fill="#7aa5ce"/>
<rect x="540.95" y="205.56" width="17.27" height="17.25" fill="#7ca6ce"/>
<rect x="557.91" y="205.56" width="17.27" height="17.25" fill="#7ca7cd"/>
<rect x="574.88" y="205.56" width="17.27" height="17.25" fill="#79a5cd"/>
<rect x="591.84" y="205.56" width="17.27" height="17.25" fill="#76a3cd"/>
<rect x="608.81" y="205.56" width="17.27" height="17.25" fill="#74a2cd"/>
<rect x="625.78" y="205.56" width="17.27" height="17.25" fill="#669aca"/>
<rect x="642.74" y="205.56" width="17.27" height="17.25" fill="#659aca"/>
<rect x="659.71" y="205.56" width="17.27" height="17.25" fill="#659bcb"/>
<rect x="676.67" y="205.56" width="17.27" height="17.25" fill="#659fce"/>
<rect x="693.64" y="205.56" width="17.27" height="17.25" fill="#66a3cf"/>
<rect x="710.61" y="205.56" width="17.27" height="17.25" fill="#66a4d0"/>
<rect x="727.57" y="205.56" width="17.27" height="17.25" fill="#64a4cf"/>
<rect x="744.54" y="205.56" width="17.27" height="17.25" fill="#62a5d0"/>
<rect x="761.5" y="205.56" width="17.27" height="17.25" fill="#63a6d1"/>
<rect x="778.47" y="205.56" width="17.27" height="17.25" fill="#67a8d3"/>
<rect x="795.44" y="205.56" width="17.27" height="17.25" fill="#69a8d4"/>
<rect x="812.4" y="205.56" width="17.27" height="17.25" fill="#6aa9d5"/>
<rect x="829.37" y="205.56" width="17.27" height="17.25" fill="#66a5d5"/>
<rect x="846.33" y="205.56" width="17.27" height="17.25" fill="#7db4d8"/>
<rect x="863.3" y="205.56" width="17.27" height="17.25" fill="#87b8d9"/>
<rect x="880.27" y="205.56" width="17.27" height="17.25" fill="#96c0da"/>
<rect x="897.23" y="205.56" width="17.27" height="17.25" fill="#a7cbdd"/>
<rect x="914.2" y="205.56" width="17.27" height="17.25" fill="#afd0dc"/>
<rect x="931.16" y="205.56" width="17.27" height="17.25" fill="#b7d4dd"/>
<rect x="948.13" y="205.56" width="17.27" height="17.25" fill="#d1dee5"/>
<rect x="965.1" y="205.56" width="17.27" height="17.25" fill="#c3d8e4"/>
<rect x="982.06" y="205.56" width="17.27" height="17.25" fill="#b9d5e3"/>
<rect x="999.03" y="205.56" width="17.27" height="17.25" fill="#9cc3da"/>
<rect x="15.0" y="222.5" width="17.27" height="17.25" fill="#cedfe6"/>
<rect x="31.97" y="222.5" width="17.27" height="17.25" fill="#d4e1e7"/>
<rect x="48.93" y="222.5" width="17.27" height="17.25" fill="#d2dee5"/>
<rect x="65.9" y="222.5" width="17.27" height="17.25" fill="#cbd8e2"/>
<rect x="82.86" y="222.5" width="17.27" height="17.25" fill="#c7d1de"/>
<rect x="99.83" y="222.5" width="17.27" height="17.25" fill="#c3c7da"/>
<rect x="116.8" y="222.5" width="17.27" height="17.25" fill="#bec0d7"/>
<rect x="133.76" y="222.5" width="17.27" height="17.25" fill="#b7c1d2"/>
<rect x="150.73" y="222.5" width="17.27" height="17.25" fill="#a9bccf"/>
<rect x="167.69" y="222.5" width="17.27" height="17.25" fill="#90b3cb"/>
<rect x="184.66" y="222.5" width="17.27" height="17.25" fill="#8bb0cb"/>
<rect x="201.63" y="222.5" width="17.27" height="17.25" fill="#86afcc"/>
<rect x="218.59" y="222.5" width="17.27" height="17.25" fill="#88b0ce"/>
<rect x="235.56" y="222.5" width="17.27" height="17.25" fill="#8bb3d0"/>
<rect x="252.52" y="222.5" width="17.27" height="17.25" fill="#a1c2d6"/>
<rect x="269.49" y="222.5" width="17.27" height="17.25" fill="#a7c7d8"/>
<rect x="286.46" y="222.5" width="17.27" height="17.25" fill="#a3c4d7"/>
<rect x="303.42" y="222.5" width="17.27" height="17.25" fill="#9abdd6"/>
<rect x="320.39" y="222.5" width="17.27" height="17.25" fill="#83afd4"/>
<rect x="337.35" y="222.5" width="17.27" height="17.25" fill="#87b0d2"/>
<rect x="354.32" y="222.5" width="17.27" height="17.25" fill="#88b0d1"/>
<rect x="371.29" y="222.5" width="17.27" height="17.25" fill="#72a7d0"/>
<rect x="388.25" y="222.5" width="17.27" height="17.25" fill="#70a6d0"/>
<rect x="405.22" y="222.5" width="17.27" height="17.25" fill="#71a6d0"/>
<rect x="422.18" y="222.5" width="17.27" height="17.25" fill="#7aabd2"/>
<rect x="439.15" y="222.5" width="17.27" height="17.25" fill="#7dacd2"/>
<rect x="456.12" y="222.5" width="17.27" height="17.25" fill="#7baad1"/>
<rect x="473.08" y="222.5" width="17.27" height="17.25" fill="#75a4ce"/>
<rect x="490.05" y="222.5" width="17.27" height="17.25" fill="#719eca"/>
<rect x="507.01" y="222.5" width="17.27" height="17.25" fill="#729cc7"/>
<rect x="523.98" y="222.5" width="17.27" height="17.25" fill="#769fc9"/>
<rect x="540.95" y="222.5" width="17.27" height="17.25" fill="#84a9ca"/>
<rect x="557.91" y="222.5" width="17.27" height="17.25" fill="#84aaca"/>
<rect x="574.88" y="222.5" width="17.27" height="17.25" fill="#80a9cb"/>
<rect x="591.84" y="222.5" width="17.27" height="17.25" fill="#7ca7cb"/>
<rect x="608.81" y="222.5" width="17.27" height="17.25" fill="#76a2cb"/>
<rect x="625.78" y="222.5" width="17.27" height="17.25" fill="#6d9ecb"/>
<rect x="642.74" y="222.5" width="17.27" height="17.25" fill="#6a9ccb"/>
<rect x="659.71" y="222.5" width="17.27" height="17.25" fill="#6a9ecc"/>
<rect x="676.67" y="222.5" width="17.27" height="17.25" fill="#6aa3cf"/>
<rect x="693.64" y="222.5" width="17.27" height="17.25" fill="#6aa6d0"/>
<rect x="710.61" y="222.5" width="17.27" height="17.25" fill="#6ba5cf"/>
<rect x="727.57" y="222.5" width="17.27" height="17.25" fill="#69a4ce"/>
<rect x="744.54" y="222.5" width="17.27" height="17.25" fill="#66a5ce"/>
<rect x="761.5" y="222.5" width="17.27" height="17.25" fill="#64a7d0"/>
<rect x="778.47" y="222.5" width="17.27" height="17.25" fill="#67a8d2"/>
<rect x="795.44" y="222.5" width="17.27" height="17.25" fill="#6cacd4"/>
<rect x="812.4" y="222.5" width="17.27" height="17.25" fill="#74b0d6"/>
<rect x="829.37" y="222.5" width="17.27" height="17.25" fill="#7db4d7"/>
<rect x="846.33" y="222.5" width="17.27" height="17.25" fill="#83b5d7"/>
<rect x="863.3" y="222.5" width="17.27" height="17.25" fill="#89b6d6"/>
<rect x="880.27" y="222.5" width="17.27" height="17.25" fill="#8cb6d4"/>
<rect x="897.23" y="222.5" width="17.27" height="17.25" fill="#8db6d3"/>
<rect x="914.2" y="222.5" width="17.27" height="17.25" fill="#a6c6d7"/>
<rect x="931.16" y="222.5" width="17.27" height="17.25" fill="#c5d5e0"/>
<rect x="948.13" y="222.5" width="17.27" height="17.25" fill="#d7e3e6"/>
<rect x="965.1" y="222.5" width="17.27" height="17.25" fill="#dbe7e8"/>
<rect x="982.06" y="222.5" width="17.27" height="17.25" fill="#c2dce5"/>
<rect x="999.03" y="222.5" width="17.27" height="17.25" fill="#a8cede"/>
<rect x="15.0" y="239.44" width="17.27" height="17.25" fill="#c1d6df"/>
<rect x="31.97" y="239.44" width="17.27" height="17.25" fill="#d5dde0"/>
<rect x="48.93" y="239.44" width="17.27" height="17.25" fill="#d9dcdf"/>
<rect x="65.9" y="239.44" width="17.27" height="17.25" fill="#d1d7df"/>
<rect x="82.86" y="239.44" width="17.27" height="17.25" fill="#d0d2dc"/>
<rect x="99.83" y="239.44" width="17.27" height="17.25" fill="#cbc9d9"/>
<rect x="116.8" y="239.44" width="17.27" height="17.25" fill="#c3c1d6"/>
<rect x="133.76" y="239.44" width="17.27" height="17.25" fill="#babdd5"/>
<rect x="150.73" y="239.44" width="17.27" height="17.25" fill="#a0bace"/>
<rect x="167.69" y="239.44" width="17.27" height="17.25" fill="#8cb2cc"/>
<rect x="184.66" y="239.44" width="17.27" height="17.25" fill="#82acc9"/>
<rect x="201.63" y="239.44" width="17.27" height="17.25" fill="#7faac9"/>
<rect x="218.59" y="239.44" width="17.27" height="17.25" fill="#81abcb"/>
<rect x="235.56" y="239.44" width="17.27" height="17.25" fill="#85aece"/>
<rect x="252.52" y="239.44" width="17.27" height="17.25" fill="#90b4d1"/>
<rect x="269.49" y="239.44" width="17.27" height="17.25" fill="#9fc1d6"/>
<rect x="286.46" y="239.44" width="17.27" height="17.25" fill="#a0c1d6"/>
<rect x="303.42" y="239.44" width="17.27" height="17.25" fill="#9bbed5"/>
<rect x="320.39" y="239.44" width="17.27" height="17.25" fill="#91b6d2"/>
<rect x="337.35" y="239.44" width="17.27" height="17.25" fill="#8cb2d0"/>
<rect x="354.32" y="239.44" width="17.27" height="17.25" fill="#8cb0cf"/>
<rect x="371.29" y="239.44" width="17.27" height="17.25" fill="#79a8cf"/>
<rect x="388.25" y="239.44" width="17.27" height="17.25" fill="#73a5cf"/>
<rect x="405.22" y="239.44" width="17.27" height="17.25" fill="#74a4ce"/>
<rect x="422.18" y="239.44" width="17.27" height="17.25" fill="#77a6cf"/>
<rect x="439.15" y="239.44" width="17.27" height="17.25" fill="#78a6cf"/>
<rect x="456.12" y="239.44" width="17.27" height="17.25" fill="#74a1cd"/>
<rect x="473.08" y="239.44" width="17.27" height="17.25" fill="#6e9bc9"/>
<rect x="490.05" y="239.44" width="17.27" height="17.25" fill="#6c99c6"/>
<rect x="507.01" y="239.44" width="17.27" height="17.25" fill="#6d9ac5"/>
<rect x="523.98" y="239.44" width="17.27" height="17.25" fill="#7ca4c7"/>
<rect x="540.95" y="239.44" width="17.27" height="17.25" fill="#86aac8"/>
<rect x="557.91" y="239.44" width="17.27" height="17.25" fill="#89acca"/>
<rect x="574.88" y="239.44" width="17.27" height="17.25" fill="#86aaca"/>
<rect x="591.84" y="239.44" width="17.27" height="17.25" fill="#7da6ca"/>
<rect x="608.81" y="239.44" width="17.27" height="17.25" fill="#74a0ca"/>
<rect x="625.78" y="239.44" width="17.27" height="17.25" fill="#6f9ecb"/>
<rect x="642.74" y="239.44" width="17.27" height="17.25" fill="#6e9ecc"/>
<rect x="659.71" y="239.44" width="17.27" height="17.25" fill="#6ea0cd"/>
<rect x="676.67" y="239.44" width="17.27" height="17.25" fill="#6ca4ce"/>
<rect x="693.64" y="239.44" width="17.27" height="17.25" fill="#6da6d0"/>
<rect x="710.61" y="239.44" width="17.27" height="17.25" fill="#6da4ce"/>
<rect x="727.57" y="239.44" width="17.27" height="17.25" fill="#6ca2cd"/>
<rect x="744.54" y="239.44" width="17.27" height="17.25" fill="#69a2cc"/>
<rect x="761.5" y="239.44" width="17.27" height="17.25" fill="#67a4cc"/>
<rect x="778.47" y="239.44" width="17.27" height="17.25" fill="#68a6ce"/>
<rect x="795.44" y="239.44" width="17.27" height="17.25" fill="#6da9d0"/>
<rect x="812.4" y="239.44" width="17.27" height="17.25" fill="#77afd3"/>
<rect x="829.37" y="239.44" width="17.27" height="17.25" fill="#80b3d4"/>
<rect x="846.33" y="239.44" width="17.27" height="17.25" fill="#84b3d3"/>
<rect x="863.3" y="239.44" width="17.27" height="17.25" fill="#85b1d0"/>
<rect x="880.27" y="239.44" width="17.27" height="17.25" fill="#87b0cf"/>
<rect x="897.23" y="239.44" width="17.27" height="17.25" fill="#8ab2cf"/>
<rect x="914.2" y="239.44" width="17.27" height="17.25" fill="#a2c2d2"/>
<rect x="931.16" y="239.44" width="17.27" height="17.25" fill="#c5d6df"/>
<rect x="948.13" y="239.44" width="17.27" height="17.25" fill="#ccdbe1"/>
<rect x="965.1" y="239.44" width="17.27" height="17.25" fill="#d0e1e5"/>
<rect x="982.06" y="239.44" width="17.27" height="17.25" fill="#bfdce6"/>
<rect x="999.03" y="239.44" width="17.27" height="17.25" fill="#b3d7e2"/>
<rect x="15.0" y="256.39" width="17.27" height="17.25" fill="#b6d3d7"/>
<rect x="31.97" y="256.39" width="17.27" height="17.25" fill="#cad4d9"/>
<rect x="48.93" y="256.39" width="17.27" height="17.25" fill="#e1dad9"/>
<rect x="65.9" y="256.39" width="17.27" height="17.25" fill="#e1d8d9"/>
<rect x="82.86" y="256.39" width="17.27" height="17.25" fill="#dad4da"/>
<rect x="99.83" y="256.39" width="17.27" height="17.25" fill="#d2cdda"/>
<rect x="116.8" y="256.39" width="17.27" height="17.25" fill="#c7c5d8"/>
<rect x="133.76" y="256.39" width="17.27" height="17.25" fill="#b1c2d3"/>
<rect x="150.73" y="256.39" width="17.27" height="17.25" fill="#97bbd0"/>
<rect x="167.69" y="256.39" width="17.27" height="17.25" fill="#8bb5ce"/>
<rect x="184.66" y="256.39" width="17.27" height="17.25" fill="#79a8c8"/>
<rect x="201.63" y="256.39" width="17.27" height="17.25" fill="#7ca9ca"/>
<rect x="218.59" y="256.39" width="17.27" height="17.25" fill="#80abcb"/>
<rect x="235.56" y="256.39" width="17.27" height="17.25" fill="#82abce"/>
<rect x="252.52" y="256.39" width="17.27" height="17.25" fill="#88aed0"/>
<rect x="269.49" y="256.39" width="17.27" height="17.25" fill="#8eb3d0"/>
<rect x="286.46" y="256.39" width="17.27" height="17.25" fill="#95b9d2"/>
<rect x="303.42" y="256.39" width="17.27" height="17.25" fill="#96bad2"/>
<rect x="320.39" y="256.39" width="17.27" height="17.25" fill="#92b6d1"/>
<rect x="337.35" y="256.39" width="17.27" height="17.25" fill="#8db1ce"/>
<rect x="354.32" y="256.39" width="17.27" height="17.25" fill="#8cafcc"/>
<rect x="371.29" y="256.39" width="17.27" height="17.25" fill="#82aacc"/>
<rect x="388.25" y="256.39" width="17.27" height="17.25" fill="#77a3cc"/>
<rect x="405.22" y="256.39" width="17.27" height="17.25" fill="#72a0cc"/>
<rect x="422.18" y="256.39" width="17.27" height="17.25" fill="#73a1cc"/>
<rect x="439.15" y="256.39" width="17.27" height="17.25" fill="#739fcb"/>
<rect x="456.12" y="256.39" width="17.27" height="17.25" fill="#6f9bc8"/>
<rect x="473.08" y="256.39" width="17.27" height="17.25" fill="#6c98c6"/>
<rect x="490.05" y="256.39" width="17.27" height="17.25" fill="#6c98c5"/>
<rect x="507.01" y="256.39" width="17.27" height="17.25" fill="#6f9cc5"/>
<rect x="523.98" y="256.39" width="17.27" height="17.25" fill="#77a2c5"/>
<rect x="540.95" y="256.39" width="17.27" height="17.25" fill="#8badcb"/>
<rect x="557.91" y="256.39" width="17.27" height="17.25" fill="#8eb0cc"/>
<rect x="574.88" y="256.39" width="17.27" height="17.25" fill="#88accc"/>
<rect x="591.84" y="256.39" width="17.27" height="17.25" fill="#7ca5cb"/>
<rect x="608.81" y="256.39" width="17.27" height="17.25" fill="#729ec9"/>
<rect x="625.78" y="256.39" width="17.27" height="17.25" fill="#6e9bc9"/>
<rect x="642.74" y="256.39" width="17.27" height="17.25" fill="#709dca"/>
<rect x="659.71" y="256.39" width="17.27" height="17.25" fill="#72a0cb"/>
<rect x="676.67" y="256.39" width="17.27" height="17.25" fill="#71a2cc"/>
<rect x="693.64" y="256.39" width="17.27" height="17.25" fill="#6fa3ce"/>
<rect x="710.61" y="256.39" width="17.27" height="17.25" fill="#6ea1cc"/>
<rect x="727.57" y="256.39" width="17.27" height="17.25" fill="#6e9ecb"/>
<rect x="744.54" y="256.39" width="17.27" height="17.25" fill="#6c9ec9"/>
<rect x="761.5" y="256.39" width="17.27" height="17.25" fill="#6ba0c9"/>
<rect x="778.47" y="256.39" width="17.27" height="17.25" fill="#6ca3ca"/>
<rect x="795.44" y="256.39" width="17.27" height="17.25" fill="#70a7cd"/>
<rect x="812.4" y="256.39" width="17.27" height="17.25" fill="#77accf"/>
<rect x="829.37" y="256.39" width="17.27" height="17.25" fill="#7eafcf"/>
<rect x="846.33" y="256.39" width="17.27" height="17.25" fill="#81aecf"/>
<rect x="863.3" y="256.39" width="17.27" height="17.25" fill="#7eaacc"/>
<rect x="880.27" y="256.39" width="17.27" height="17.25" fill="#7fa8ca"/>
<rect x="897.23" y="256.39" width="17.27" height="17.25" fill="#81a9ca"/>
<rect x="914.2" y="256.39" width="17.27" height="17.25" fill="#9bbdd2"/>
<rect x="931.16" y="256.39" width="17.27" height="17.25" fill="#c3d6df"/>
<rect x="948.13" y="256.39" width="17.27" height="17.25" fill="#c7d9e1"/>
<rect x="965.1" y="256.39" width="17.27" height="17.25" fill="#c9dde4"/>
<rect x="982.06" y="256.39" width="17.27" height="17.25" fill="#c8dfe6"/>
<rect x="999.03" y="256.39" width="17.27" height="17.25" fill="#b5d9e4"/>
<rect x="15.0" y="273.33" width="17.27" height="17.25" fill="#b8cfd5"/>
<rect x="31.97" y="273.33" width="17.27" height="17.25" fill="#bfcad9"/>
<rect x="48.93" y="273.33" width="17.27" height="17.25" fill="#e2d8da"/>
<rect x="65.9" y="273.33" width="17.27" height="17.25" fill="#e4d9da"/>
<rect x="82.86" y="273.33" width="17.27" height="17.25" fill="#e2d9dd"/>
<rect x="99.83" y="273.33" width="17.27" height="17.25" fill="#ded9df"/>
<rect x="116.8" y="273.33" width="17.27" height="17.25" fill="#dcdbe1"/>
<rect x="133.76" y="273.33" width="17.27" height="17.25" fill="#c5cfdf"/>
<rect x="150.73" y="273.33" width="17.27" height="17.25" fill="#abcad8"/>
<rect x="167.69" y="273.33" width="17.27" height="17.25" fill="#a2c5d6"/>
<rect x="184.66" y="273.33" width="17.27" height="17.25" fill="#88b4cf"/>
<rect x="201.63" y="273.33" width="17.27" height="17.25" fill="#8db6cf"/>
<rect x="218.59" y="273.33" width="17.27" height="17.25" fill="#94bbd2"/>
<rect x="235.56" y="273.33" width="17.27" height="17.25" fill="#98bdd5"/>
<rect x="252.52" y="273.33" width="17.27" height="17.25" fill="#96bbd4"/>
<rect x="269.49" y="273.33" width="17.27" height="17.25" fill="#90b6d2"/>
<rect x="286.46" y="273.33" width="17.27" height="17.25" fill="#90b6d0"/>
<rect x="303.42" y="273.33" width="17.27" height="17.25" fill="#91b6d1"/>
<rect x="320.39" y="273.33" width="17.27" height="17.25" fill="#90b4d1"/>
<rect x="337.35" y="273.33" width="17.27" height="17.25" fill="#8bb0cd"/>
<rect x="354.32" y="273.33" width="17.27" height="17.25" fill="#87abc9"/>
<rect x="371.29" y="273.33" width="17.27" height="17.25" fill="#7ca5c9"/>
<rect x="388.25" y="273.33" width="17.27" height="17.25" fill="#709dca"/>
<rect x="405.22" y="273.33" width="17.27" height="17.25" fill="#6e9bca"/>
<rect x="422.18" y="273.33" width="17.27" height="17.25" fill="#709cca"/>
<rect x="439.15" y="273.33" width="17.27" height="17.25" fill="#739cc8"/>
<rect x="456.12" y="273.33" width="17.27" height="17.25" fill="#749dc5"/>
<rect x="473.08" y="273.33" width="17.27" height="17.25" fill="#749cc4"/>
<rect x="490.05" y="273.33" width="17.27" height="17.25" fill="#749dc5"/>
<rect x="507.01" y="273.33" width="17.27" height="17.25" fill="#78a1c7"/>
<rect x="523.98" y="273.33" width="17.27" height="17.25" fill="#82a8ca"/>
<rect x="540.95" y="273.33" width="17.27" height="17.25" fill="#8eb0ce"/>
<rect x="557.91" y="273.33" width="17.27" height="17.25" fill="#93b5d0"/>
<rect x="574.88" y="273.33" width="17.27" height="17.25" fill="#84aace"/>
<rect x="591.84" y="273.33" width="17.27" height="17.25" fill="#78a2ca"/>
<rect x="608.81" y="273.33" width="17.27" height="17.25" fill="#709cc8"/>
<rect x="625.78" y="273.33" width="17.27" height="17.25" fill="#6e9ac8"/>
<rect x="642.74" y="273.33" width="17.27" height="17.25" fill="#709cc9"/>
<rect x="659.71" y="273.33" width="17.27" height="17.25" fill="#739fc8"/>
<rect x="676.67" y="273.33" width="17.27" height="17.25" fill="#729fc9"/>
<rect x="693.64" y="273.33" width="17.27" height="17.25" fill="#709fca"/>
<rect x="710.61" y="273.33" width="17.27" height="17.25" fill="#6c9bc8"/>
<rect x="727.57" y="273.33" width="17.27" height="17.25" fill="#6c9ac8"/>
<rect x="744.54" y="273.33" width="17.27" height="17.25" fill="#6e9cc7"/>
<rect x="761.5" y="273.33" width="17.27" height="17.25" fill="#6f9ec7"/>
<rect x="778.47" y="273.33" width="17.27" height="17.25" fill="#72a3c9"/>
<rect x="795.44" y="273.33" width="17.27" height="17.25" fill="#74a6cb"/>
<rect x="812.4" y="273.33" width="17.27" height="17.25" fill="#75a8cb"/>
<rect x="829.37" y="273.33" width="17.27" height="17.25" fill="#77a9ca"/>
<rect x="846.33" y="273.33" width="17.27" height="17.25" fill="#77a6ca"/>
<rect x="863.3" y="273.33" width="17.27" height="17.25" fill="#73a1c8"/>
<rect x="880.27" y="273.33" width="17.27" height="17.25" fill="#75a1c8"/>
<rect x="897.23" y="273.33" width="17.27" height="17.25" fill="#78a2c7"/>
<rect x="914.2" y="273.33" width="17.27" height="17.25" fill="#82a9cc"/>
<rect x="931.16" y="273.33" width="17.27" height="17.25" fill="#8eb1d0"/>
<rect x="948.13" y="273.33" width="17.27" height="17.25" fill="#95b7d2"/>
<rect x="965.1" y="273.33" width="17.27" height="17.25" fill="#b1ceda"/>
<rect x="982.06" y="273.33" width="17.27" height="17.25" fill="#b1d0dc"/>
<rect x="999.03" y="273.33" width="17.27" height="17.25" fill="#a2c9e0"/>
<rect x="15.0" y="290.28" width="17.27" height="17.25" fill="#b9cbdb"/>
<rect x="31.97" y="290.28" width="17.27" height="17.25" fill="#becadd"/>
<rect x="48.93" y="290.28" width="17.27" height="17.25" fill="#c5cbdf"/>
<rect x="65.9" y="290.28" width="17.27" height="17.25" fill="#d2d3e0"/>
<rect x="82.86" y="290.28" width="17.27" height="17.25" fill="#e6dee1"/>
<rect x="99.83" y="290.28" width="17.27" height="17.25" fill="#e5e0e4"/>
<rect x="116.8" y="290.28" width="17.27" height="17.25" fill="#e4e3e6"/>
<rect x="133.76" y="290.28" width="17.27" height="17.25" fill="#dae0e6"/>
<rect x="150.73" y="290.28" width="17.27" height="17.25" fill="#c9d8e4"/>
<rect x="167.69" y="290.28" width="17.27" height="17.25" fill="#b8d3dc"/>
<rect x="184.66" y="290.28" width="17.27" height="17.25" fill="#abccd8"/>
<rect x="201.63" y="290.28" width="17.27" height="17.25" fill="#abcdd7"/>
<rect x="218.59" y="290.28" width="17.27" height="17.25" fill="#b0d1d8"/>
<rect x="235.56" y="290.28" width="17.27" height="17.25" fill="#b3d2db"/>
<rect x="252.52" y="290.28" width="17.27" height="17.25" fill="#b1cedd"/>
<rect x="269.49" y="290.28" width="17.27" height="17.25" fill="#97bbd4"/>
<rect x="286.46" y="290.28" width="17.27" height="17.25" fill="#8eb6d2"/>
<rect x="303.42" y="290.28" width="17.27" height="17.25" fill="#91b6d1"/>
<rect x="320.39" y="290.28" width="17.27" height="17.25" fill="#91b5d1"/>
<rect x="337.35" y="290.28" width="17.27" height="17.25" fill="#8cb0cd"/>
<rect x="354.32" y="290.28" width="17.27" height="17.25" fill="#80a8c8"/>
<rect x="371.29" y="290.28" width="17.27" height="17.25" fill="#739fc8"/>
<rect x="388.25" y="290.28" width="17.27" height="17.25" fill="#6a9ac8"/>
<rect x="405.22" y="290.28" width="17.27" height="17.25" fill="#6a98c8"/>
<rect x="422.18" y="290.28" width="17.27" height="17.25" fill="#6e98c7"/>
<rect x="439.15" y="290.28" width="17.27" height="17.25" fill="#729ac7"/>
<rect x="456.12" y="290.28" width="17.27" height="17.25" fill="#7fa2c5"/>
<rect x="473.08" y="290.28" width="17.27" height="17.25" fill="#7fa3c5"/>
<rect x="490.05" y="290.28" width="17.27" height="17.25" fill="#7ea3c6"/>
<rect x="507.01" y="290.28" width="17.27" height="17.25" fill="#83a7ca"/>
<rect x="523.98" y="290.28" width="17.27" height="17.25" fill="#88accd"/>
<rect x="540.95" y="290.28" width="17.27" height="17.25" fill="#8fb2cf"/>
<rect x="557.91" y="290.28" width="17.27" height="17.25" fill="#95b7d0"/>
<rect x="574.88" y="290.28" width="17.27" height="17.25" fill="#84a9cc"/>
<rect x="591.84" y="290.28" width="17.27" height="17.25" fill="#729ec8"/>
<rect x="608.81" y="290.28" width="17.27" height="17.25" fill="#709cc7"/>
<rect x="625.78" y="290.28" width="17.27" height="17.25" fill="#6f9bc6"/>
<rect x="642.74" y="290.28" width="17.27" height="17.25" fill="#769fc8"/>
<rect x="659.71" y="290.28" width="17.27" height="17.25" fill="#769fc7"/>
<rect x="676.67" y="290.28" width="17.27" height="17.25" fill="#719cc5"/>
<rect x="693.64" y="290.28" width="17.27" height="17.25" fill="#6c9ac5"/>
<rect x="710.61" y="290.28" width="17.27" height="17.25" fill="#6895c4"/>
<rect x="727.57" y="290.28" width="17.27" height="17.25" fill="#6c98c6"/>
<rect x="744.54" y="290.28" width="17.27" height="17.25" fill="#6e9bc6"/>
<rect x="761.5" y="290.28" width="17.27" height="17.25" fill="#709dc6"/>
<rect x="778.47" y="290.28" width="17.27" height="17.25" fill="#72a0c7"/>
<rect x="795.44" y="290.28" width="17.27" height="17.25" fill="#73a3c8"/>
<rect x="812.4" y="290.28" width="34.23" height="17.25" fill="#72a4c8"/>
<rect x="846.33" y="290.28" width="17.27" height="17.25" fill="#72a1c8"/>
<rect x="863.3" y="290.28" width="17.27" height="17.25" fill="#6f9dc6"/>
<rect x="880.27" y="290.28" width="17.27" height="17.25" fill="#709dc6"/>
<rect x="897.23" y="290.28" width="17.27" height="17.25" fill="#719ec6"/>
<rect x="914.2" y="290.28" width="17.27" height="17.25" fill="#729dc6"/>
<rect x="931.16" y="290.28" width="17.27" height="17.25" fill="#749bc6"/>
<rect x="948.13" y="290.28" width="17.27" height="17.25" fill="#7da1c9"/>
<rect x="965.1" y="290.28" width="17.27" height="17.25" fill="#95b7d1"/>
<rect x="982.06" y="290.28" width="17.27" height="17.25" fill="#aacada"/>
<rect x="999.03" y="290.28" width="17.27" height="17.25" fill="#8bbbdf"/>
<rect x="15.0" y="307.23" width="17.27" height="17.25" fill="#bdd1e1"/>
<rect x="31.97" y="307.23" width="17.27" height="17.25" fill="#c2d3e2"/>
<rect x="48.93" y="307.23" width="17.27" height="17.25" fill="#c6d2e2"/>
<rect x="65.9" y="307.23" width="17.27" height="17.25" fill="#cfd7e3"/>
<rect x="82.86" y="307.23" width="17.27" height="17.25" fill="#e6e1e4"/>
<rect x="99.83" y="307.23" width="17.27" height="17.25" fill="#e6e4e7"/>
<rect x="116.8" y="307.23" width="17.27" height="17.25" fill="#ece9ec"/>
<rect x="133.76" y="307.23" width="17.27" height="17.25" fill="#eeedf1"/>
<rect x="150.73" y="307.23" width="17.27" height="17.25" fill="#e6eaf0"/>
<rect x="167.69" y="307.23" width="17.27" height="17.25" fill="#d8e4ec"/>
<rect x="184.66" y="307.23" width="17.27" height="17.25" fill="#d2e1e9"/>
<rect x="201.63" y="307.23" width="17.27" height="17.25" fill="#d3e2e8"/>
<rect x="218.59" y="307.23" width="17.27" height="17.25" fill="#dae5e9"/>
<rect x="235.56" y="307.23" width="17.27" height="17.25" fill="#d8e3e7"/>
<rect x="252.52" y="307.23" width="17.27" height="17.25" fill="#bad1e2"/>
<rect x="269.49" y="307.23" width="17.27" height="17.25" fill="#a6c5d8"/>
<rect x="286.46" y="307.23" width="17.27" height="17.25" fill="#a4c0d6"/>
<rect x="303.42" y="307.23" width="17.27" height="17.25" fill="#abc2d6"/>
<rect x="320.39" y="307.23" width="17.27" height="17.25" fill="#b1c7d9"/>
<rect x="337.35" y="307.23" width="17.27" height="17.25" fill="#97b9d1"/>
<rect x="354.32" y="307.23" width="17.27" height="17.25" fill="#82abc8"/>
<rect x="371.29" y="307.23" width="17.27" height="17.25" fill="#6f9fc8"/>
<rect x="388.25" y="307.23" width="17.27" height="17.25" fill="#6a9cc8"/>
<rect x="405.22" y="307.23" width="17.27" height="17.25" fill="#6a99c8"/>
<rect x="422.18" y="307.23" width="17.27" height="17.25" fill="#7099c6"/>
<rect x="439.15" y="307.23" width="17.27" height="17.25" fill="#799dc5"/>
<rect x="456.12" y="307.23" width="17.27" height="17.25" fill="#83a4c4"/>
<rect x="473.08" y="307.23" width="17.27" height="17.25" fill="#84a6c6"/>
<rect x="490.05" y="307.23" width="17.27" height="17.25" fill="#86a7c8"/>
<rect x="507.01" y="307.23" width="17.27" height="17.25" fill="#8dadcb"/>
<rect x="523.98" y="307.23" width="17.27" height="17.25" fill="#8eafce"/>
<rect x="540.95" y="307.23" width="17.27" height="17.25" fill="#91b2ce"/>
<rect x="557.91" y="307.23" width="17.27" height="17.25" fill="#8eb1cd"/>
<rect x="574.88" y="307.23" width="17.27" height="17.25" fill="#84aaca"/>
<rect x="591.84" y="307.23" width="17.27" height="17.25" fill="#7aa3c8"/>
<rect x="608.81" y="307.23" width="17.27" height="17.25" fill="#78a1c7"/>
<rect x="625.78" y="307.23" width="17.27" height="17.25" fill="#80a4c8"/>
<rect x="642.74" y="307.23" width="17.27" height="17.25" fill="#82a4c9"/>
<rect x="659.71" y="307.23" width="17.27" height="17.25" fill="#80a2c9"/>
<rect x="676.67" y="307.23" width="17.27" height="17.25" fill="#739bc6"/>
<rect x="693.64" y="307.23" width="17.27" height="17.25" fill="#6d99c4"/>
<rect x="710.61" y="307.23" width="17.27" height="17.25" fill="#6c99c4"/>
<rect x="727.57" y="307.23" width="17.27" height="17.25" fill="#709cc6"/>
<rect x="744.54" y="307.23" width="17.27" height="17.25" fill="#719dc4"/>
<rect x="761.5" y="307.23" width="17.27" height="17.25" fill="#709cc4"/>
<rect x="778.47" y="307.23" width="17.27" height="17.25" fill="#709ec5"/>
<rect x="795.44" y="307.23" width="17.27" height="17.25" fill="#70a0c6"/>
<rect x="812.4" y="307.23" width="17.27" height="17.25" fill="#71a2c7"/>
<rect x="829.37" y="307.23" width="17.27" height="17.25" fill="#73a2c8"/>
<rect x="846.33" y="307.23" width="17.27" height="17.25" fill="#74a0c8"/>
<rect x="863.3" y="307.23" width="34.23" height="17.25" fill="#749dc6"/>
<rect x="897.23" y="307.23" width="17.27" height="17.25" fill="#74a0c6"/>
<rect x="914.2" y="307.23" width="17.27" height="17.25" fill="#76a1c7"/>
<rect x="931.16" y="307.23" width="17.27" height="17.25" fill="#79a1c7"/>
<rect x="948.13" y="307.23" width="17.27" height="17.25" fill="#84a7ca"/>
<rect x="965.1" y="307.23" width="17.27" height="17.25" fill="#9cbdd3"/>
<rect x="982.06" y="307.23" width="17.27" height="17.25" fill="#a6c4d5"/>
<rect x="999.03" y="307.23" width="17.27" height="17.25" fill="#88b8db"/>
<rect x="15.0" y="324.17" width="17.27" height="17.25" fill="#c9e0ee"/>
<rect x="31.97" y="324.17" width="17.27" height="17.25" fill="#c5dbe9"/>
<rect x="48.93" y="324.17" width="17.27" height="17.25" fill="#c0d7e5"/>
<rect x="65.9" y="324.17" width="17.27" height="17.25" fill="#c6d7e4"/>
<rect x="82.86" y="324.17" width="17.27" height="17.25" fill="#e0e0e5"/>
<rect x="99.83" y="324.17" width="17.27" height="17.25" fill="#e1e3e8"/>
<rect x="116.8" y="324.17" width="17.27" height="17.25" fill="#e6e7ed"/>
<rect x="133.76" y="324.17" width="17.27" height="17.25" fill="#f5f3f6"/>
<rect x="150.73" y="324.17" width="17.27" height="17.25" fill="#fdfcfd"/>
<rect x="167.69" y="324.17" width="17.27" height="17.25" fill="#ffffff"/>
<rect x="184.66" y="324.17" width="17.27" height="17.25" fill="#fbfcfc"/>
<rect x="201.63" y="324.17" width="17.27" height="17.25" fill="#f0f3f5"/>
<rect x="218.59" y="324.17" width="17.27" height="17.25" fill="#dfe8ed"/>
<rect x="235.56" y="324.17" width="17.27" height="17.25" fill="#d9e3e8"/>
<rect x="252.52" y="324.17" width="17.27" height="17.25" fill="#c5d8e3"/>
<rect x="269.49" y="324.17" width="17.27" height="17.25" fill="#b2cbda"/>
<rect x="286.46" y="324.17" width="17.27" height="17.25" fill="#adc4d7"/>
<rect x="303.42" y="324.17" width="17.27" height="17.25" fill="#b0c6d8"/>
<rect x="320.39" y="324.17" width="17.27" height="17.25" fill="#b7ccda"/>
<rect x="337.35" y="324.17" width="17.27" height="17.25" fill="#a4c0d4"/>
<rect x="354.32" y="324.17" width="17.27" height="17.25" fill="#8eb5cc"/>
<rect x="371.29" y="324.17" width="17.27" height="17.25" fill="#73a3c9"/>
<rect x="388.25" y="324.17" width="17.27" height="17.25" fill="#6b9ec9"/>
<rect x="405.22" y="324.17" width="17.27" height="17.25" fill="#6b9bc8"/>
<rect x="422.18" y="324.17" width="17.27" height="17.25" fill="#6f9bc6"/>
<rect x="439.15" y="324.17" width="17.27" height="17.25" fill="#78a0c6"/>
<rect x="456.12" y="324.17" width="17.27" height="17.25" fill="#81a5c5"/>
<rect x="473.08" y="324.17" width="17.27" height="17.25" fill="#83a6c6"/>
<rect x="490.05" y="324.17" width="17.27" height="17.25" fill="#87a8c8"/>
<rect x="507.01" y="324.17" width="17.27" height="17.25" fill="#91aecb"/>
<rect x="523.98" y="324.17" width="17.27" height="17.25" fill="#97b3ce"/>
<rect x="540.95" y="324.17" width="17.27" height="17.25" fill="#91b2ce"/>
<rect x="557.91" y="324.17" width="17.27" height="17.25" fill="#8bafcc"/>
<rect x="574.88" y="324.17" width="17.27" height="17.25" fill="#84aaca"/>
<rect x="591.84" y="324.17" width="17.27" height="17.25" fill="#7fa7c8"/>
<rect x="608.81" y="324.17" width="17.27" height="17.25" fill="#7fa4c6"/>
<rect x="625.78" y="324.17" width="17.27" height="17.25" fill="#82a4c8"/>
<rect x="642.74" y="324.17" width="17.27" height="17.25" fill="#86a6c9"/>
<rect x="659.71" y="324.17" width="17.27" height="17.25" fill="#89a6ca"/>
<rect x="676.67" y="324.17" width="17.27" height="17.25" fill="#7499c5"/>
<rect x="693.64" y="324.17" width="17.27" height="17.25" fill="#6e98c4"/>
<rect x="710.61" y="324.17" width="17.27" height="17.25" fill="#6e9bc5"/>
<rect x="727.57" y="324.17" width="17.27" height="17.25" fill="#74a0c6"/>
<rect x="744.54" y="324.17" width="17.27" height="17.25" fill="#749fc5"/>
<rect x="761.5" y="324.17" width="17.27" height="17.25" fill="#739ec4"/>
<rect x="778.47" y="324.17" width="17.27" height="17.25" fill="#709ec4"/>
<rect x="795.44" y="324.17" width="17.27" height="17.25" fill="#70a0c6"/>
<rect x="812.4" y="324.17" width="17.27" height="17.25" fill="#72a2c7"/>
<rect x="829.37" y="324.17" width="17.27" height="17.25" fill="#76a2c8"/>
<rect x="846.33" y="324.17" width="17.27" height="17.25" fill="#78a1c7"/>
<rect x="863.3" y="324.17" width="17.27" height="17.25" fill="#7aa1c6"/>
<rect x="880.27" y="324.17" width="17.27" height="17.25" fill="#7da2c6"/>
<rect x="897.23" y="324.17" width="17.27" height="17.25" fill="#7ca5c8"/>
<rect x="914.2" y="324.17" width="17.27" height="17.25" fill="#7ea7c8"/>
<rect x="931.16" y="324.17" width="17.27" height="17.25" fill="#82aaca"/>
<rect x="948.13" y="324.17" width="17.27" height="17.25" fill="#8eb0cd"/>
<rect x="965.1" y="324.17" width="17.27" height="17.25" fill="#9bbad1"/>
<rect x="982.06" y="324.17" width="17.27" height="17.25" fill="#a8c2d3"/>
<rect x="999.03" y="324.17" width="17.27" height="17.25" fill="#84b4d5"/>
<rect x="15.0" y="341.12" width="17.27" height="17.25" fill="#c5e2f3"/>
<rect x="31.97" y="341.12" width="17.27" height="17.25" fill="#a8d1e9"/>
<rect x="48.93" y="341.12" width="17.27" height="17.25" fill="#a1cbe6"/>
<rect x="65.9" y="341.12" width="17.27" height="17.25" fill="#a0c9e3"/>
<rect x="82.86" y="341.12" width="17.27" height="17.25" fill="#a4cbe0"/>
<rect x="99.83" y="341.12" width="17.27" height="17.25" fill="#9fc8df"/>
<rect x="116.8" y="341.12" width="17.27" height="17.25" fill="#a0c8e0"/>
<rect x="133.76" y="341.12" width="17.27" height="17.25" fill="#a8cce1"/>
<rect x="150.73" y="341.12" width="17.27" height="17.25" fill="#c4d8ec"/>
<rect x="167.69" y="341.12" width="17.27" height="17.25" fill="#e3ebed"/>
<rect x="184.66" y="341.12" width="17.27" height="17.25" fill="#e4edef"/>
<rect x="201.63" y="341.12" width="17.27" height="17.25" fill="#dce8ed"/>
<rect x="218.59" y="341.12" width="17.27" height="17.25" fill="#d4e1e9"/>
<rect x="235.56" y="341.12" width="17.27" height="17.25" fill="#ccdbe5"/>
<rect x="252.52" y="341.12" width="17.27" height="17.25" fill="#bfd3e1"/>
<rect x="269.49" y="341.12" width="17.27" height="17.25" fill="#b2cad9"/>
<rect x="286.46" y="341.12" width="17.27" height="17.25" fill="#abc3d6"/>
<rect x="303.42" y="341.12" width="17.27" height="17.25" fill="#b2c7d8"/>
<rect x="320.39" y="341.12" width="17.27" height="17.25" fill="#b5c9d9"/>
<rect x="337.35" y="341.12" width="17.27" height="17.25" fill="#acc3d6"/>
<rect x="354.32" y="341.12" width="17.27" height="17.25" fill="#9cbbd0"/>
<rect x="371.29" y="341.12" width="17.27" height="17.25" fill="#83accb"/>
<rect x="388.25" y="341.12" width="17.27" height="17.25" fill="#6e9dc9"/>
<rect x="405.22" y="341.12" width="17.27" height="17.25" fill="#6c9bc8"/>
<rect x="422.18" y="341.12" width="17.27" height="17.25" fill="#6d9bc6"/>
<rect x="439.15" y="341.12" width="17.27" height="17.25" fill="#719dc6"/>
<rect x="456.12" y="341.12" width="17.27" height="17.25" fill="#78a1c6"/>
<rect x="473.08" y="341.12" width="17.27" height="17.25" fill="#7aa2c6"/>
<rect x="490.05" y="341.12" width="17.27" height="17.25" fill="#7fa2c5"/>
<rect x="507.01" y="341.12" width="17.27" height="17.25" fill="#8aaac7"/>
<rect x="523.98" y="341.12" width="17.27" height="17.25" fill="#91b0ca"/>
<rect x="540.95" y="341.12" width="17.27" height="17.25" fill="#8fb1cc"/>
<rect x="557.91" y="341.12" width="17.27" height="17.25" fill="#89aecb"/>
<rect x="574.88" y="341.12" width="17.27" height="17.25" fill="#84aac8"/>
<rect x="591.84" y="341.12" width="17.27" height="17.25" fill="#83a8c6"/>
<rect x="608.81" y="341.12" width="17.27" height="17.25" fill="#82a6c7"/>
<rect x="625.78" y="341.12" width="17.27" height="17.25" fill="#7fa2c8"/>
<rect x="642.74" y="341.12" width="17.27" height="17.25" fill="#82a3c8"/>
<rect x="659.71" y="341.12" width="17.27" height="17.25" fill="#89a5ca"/>
<rect x="676.67" y="341.12" width="17.27" height="17.25" fill="#7298c4"/>
<rect x="693.64" y="341.12" width="17.27" height="17.25" fill="#6e97c4"/>
<rect x="710.61" y="341.12" width="17.27" height="17.25" fill="#6d99c4"/>
<rect x="727.57" y="341.12" width="17.27" height="17.25" fill="#80a7c8"/>
<rect x="744.54" y="341.12" width="17.27" height="17.25" fill="#8badcb"/>
<rect x="761.5" y="341.12" width="17.27" height="17.25" fill="#8daecb"/>
<rect x="778.47" y="341.12" width="17.27" height="17.25" fill="#86abca"/>
<rect x="795.44" y="341.12" width="17.27" height="17.25" fill="#75a3c8"/>
<rect x="812.4" y="341.12" width="17.27" height="17.25" fill="#74a2c8"/>
<rect x="829.37" y="341.12" width="17.27" height="17.25" fill="#78a2c7"/>
<rect x="846.33" y="341.12" width="17.27" height="17.25" fill="#7ca3c6"/>
<rect x="863.3" y="341.12" width="17.27" height="17.25" fill="#81a5c6"/>
<rect x="880.27" y="341.12" width="17.27" height="17.25" fill="#85a9c8"/>
<rect x="897.23" y="341.12" width="17.27" height="17.25" fill="#87acc9"/>
<rect x="914.2" y="341.12" width="17.27" height="17.25" fill="#89aecb"/>
<rect x="931.16" y="341.12" width="17.27" height="17.25" fill="#8bafcc"/>
<rect x="948.13" y="341.12" width="17.27" height="17.25" fill="#8fb2ce"/>
<rect x="965.1" y="341.12" width="17.27" height="17.25" fill="#92b5d0"/>
<rect x="982.06" y="341.12" width="17.27" height="17.25" fill="#94b7d1"/>
<rect x="999.03" y="341.12" width="17.27" height="17.25" fill="#82b1d1"/>
<rect x="15.0" y="358.06" width="17.27" height="17.25" fill="#c0e1f4"/>
<rect x="31.97" y="358.06" width="17.27" height="17.25" fill="#a1cdea"/>
<rect x="48.93" y="358.06" width="17.27" height="17.25" fill="#9cc8e6"/>
<rect x="65.9" y="358.06" width="17.27" height="17.25" fill="#95c3e2"/>
<rect x="82.86" y="358.06" width="17.27" height="17.25" fill="#85b9dc"/>
<rect x="99.83" y="358.06" width="17.27" height="17.25" fill="#6facd4"/>
<rect x="116.8" y="358.06" width="17.27" height="17.25" fill="#73acd3"/>
<rect x="133.76" y="358.06" width="17.27" height="17.25" fill="#7baed4"/>
<rect x="150.73" y="358.06" width="17.27" height="17.25" fill="#7fafd6"/>
<rect x="167.69" y="358.06" width="17.27" height="17.25" fill="#9ac1da"/>
<rect x="184.66" y="358.06" width="17.27" height="17.25" fill="#bdd5e4"/>
<rect x="201.63" y="358.06" width="17.27" height="17.25" fill="#c6d8e5"/>
<rect x="218.59" y="358.06" width="17.27" height="17.25" fill="#cedce7"/>
<rect x="235.56" y="358.06" width="17.27" height="17.25" fill="#c7d7e3"/>
<rect x="252.52" y="358.06" width="17.27" height="17.25" fill="#a7c2d5"/>
<rect x="269.49" y="358.06" width="17.27" height="17.25" fill="#a0bed3"/>
<rect x="286.46" y="358.06" width="17.27" height="17.25" fill="#9dbcd2"/>
<rect x="303.42" y="358.06" width="17.27" height="17.25" fill="#9dbbd1"/>
<rect x="320.39" y="358.06" width="17.27" height="17.25" fill="#b1c6d7"/>
<rect x="337.35" y="358.06" width="17.27" height="17.25" fill="#b0c4d6"/>
<rect x="354.32" y="358.06" width="17.27" height="17.25" fill="#afc1d5"/>
<rect x="371.29" y="358.06" width="17.27" height="17.25" fill="#90b1cd"/>
<rect x="388.25" y="358.06" width="17.27" height="17.25" fill="#759ec9"/>
<rect x="405.22" y="358.06" width="17.27" height="17.25" fill="#6f9bc7"/>
<rect x="422.18" y="358.06" width="17.27" height="17.25" fill="#6b9bc4"/>
<rect x="439.15" y="358.06" width="17.27" height="17.25" fill="#6d9cc4"/>
<rect x="456.12" y="358.06" width="17.27" height="17.25" fill="#709dc6"/>
<rect x="473.08" y="358.06" width="17.27" height="17.25" fill="#749dc5"/>
<rect x="490.05" y="358.06" width="17.27" height="17.25" fill="#779cc2"/>
<rect x="507.01" y="358.06" width="17.27" height="17.25" fill="#84a5c6"/>
<rect x="523.98" y="358.06" width="17.27" height="17.25" fill="#8bacc8"/>
<rect x="540.95" y="358.06" width="17.27" height="17.25" fill="#8db0ca"/>
<rect x="557.91" y="358.06" width="17.27" height="17.25" fill="#8bafca"/>
<rect x="574.88" y="358.06" width="17.27" height="17.25" fill="#87acc8"/>
<rect x="591.84" y="358.06" width="17.27" height="17.25" fill="#83a7c6"/>
<rect x="608.81" y="358.06" width="17.27" height="17.25" fill="#82a5c6"/>
<rect x="625.78" y="358.06" width="17.27" height="17.25" fill="#739bc6"/>
<rect x="642.74" y="358.06" width="17.27" height="17.25" fill="#759dc7"/>
<rect x="659.71" y="358.06" width="17.27" height="17.25" fill="#749dc6"/>
<rect x="676.67" y="358.06" width="17.27" height="17.25" fill="#749ac4"/>
<rect x="693.64" y="358.06" width="17.27" height="17.25" fill="#7298c4"/>
<rect x="710.61" y="358.06" width="17.27" height="17.25" fill="#8eb0cc"/>
<rect x="727.57" y="358.06" width="17.27" height="17.25" fill="#98b8cf"/>
<rect x="744.54" y="358.06" width="17.27" height="17.25" fill="#9eb9d1"/>
<rect x="761.5" y="358.06" width="17.27" height="17.25" fill="#9fb8d2"/>
<rect x="778.47" y="358.06" width="17.27" height="17.25" fill="#97b6cf"/>
<rect x="795.44" y="358.06" width="17.27" height="17.25" fill="#93b6cf"/>
<rect x="812.4" y="358.06" width="17.27" height="17.25" fill="#8fb3ce"/>
<rect x="829.37" y="358.06" width="17.27" height="17.25" fill="#7ca2c6"/>
<rect x="846.33" y="358.06" width="17.27" height="17.25" fill="#7fa4c6"/>
<rect x="863.3" y="358.06" width="17.27" height="17.25" fill="#84a8c7"/>
<rect x="880.27" y="358.06" width="17.27" height="17.25" fill="#8bafca"/>
<rect x="897.23" y="358.06" width="17.27" height="17.25" fill="#8fb3cc"/>
<rect x="914.2" y="358.06" width="17.27" height="17.25" fill="#90b3ce"/>
<rect x="931.16" y="358.06" width="17.27" height="17.25" fill="#90b2d0"/>
<rect x="948.13" y="358.06" width="17.27" height="17.25" fill="#8eb2cf"/>
<rect x="965.1" y="358.06" width="17.27" height="17.25" fill="#8bb4d0"/>
<rect x="982.06" y="358.06" width="17.27" height="17.25" fill="#8ab4d0"/>
<rect x="999.03" y="358.06" width="17.27" height="17.25" fill="#85b2d0"/>
<rect x="15.0" y="375.0" width="17.27" height="17.25" fill="#bcdff0"/>
<rect x="31.97" y="375.0" width="17.27" height="17.25" fill="#9ac8e6"/>
<rect x="48.93" y="375.0" width="17.27" height="17.25" fill="#97c5e4"/>
<rect x="65.9" y="375.0" width="17.27" height="17.25" fill="#91c0e0"/>
<rect x="82.86" y="375.0" width="17.27" height="17.25" fill="#73add5"/>
<rect x="99.83" y="375.0" width="17.27" height="17.25" fill="#6ea9d3"/>
<rect x="116.8" y="375.0" width="17.27" height="17.25" fill="#75acd3"/>
<rect x="133.76" y="375.0" width="17.27" height="17.25" fill="#7aaed3"/>
<rect x="150.73" y="375.0" width="17.27" height="17.25" fill="#7aaed5"/>
<rect x="167.69" y="375.0" width="17.27" height="17.25" fill="#7aaed6"/>
<rect x="184.66" y="375.0" width="17.27" height="17.25" fill="#91bcda"/>
<rect x="201.63" y="375.0" width="17.27" height="17.25" fill="#a5c6d9"/>
<rect x="218.59" y="375.0" width="17.27" height="17.25" fill="#b9cedb"/>
<rect x="235.56" y="375.0" width="17.27" height="17.25" fill="#aec4d7"/>
<rect x="252.52" y="375.0" width="17.27" height="17.25" fill="#8fb2cd"/>
<rect x="269.49" y="375.0" width="17.27" height="17.25" fill="#8aaecb"/>
<rect x="286.46" y="375.0" width="17.27" height="17.25" fill="#87abca"/>
<rect x="303.42" y="375.0" width="17.27" height="17.25" fill="#91b3cd"/>
<rect x="320.39" y="375.0" width="17.27" height="17.25" fill="#a6c0d4"/>
<rect x="337.35" y="375.0" width="17.27" height="17.25" fill="#a8bfd4"/>
<rect x="354.32" y="375.0" width="17.27" height="17.25" fill="#a9bdd4"/>
<rect x="371.29" y="375.0" width="17.27" height="17.25" fill="#91afcc"/>
<rect x="388.25" y="375.0" width="17.27" height="17.25" fill="#78a0c8"/>
<rect x="405.22" y="375.0" width="17.27" height="17.25" fill="#729ec8"/>
<rect x="422.18" y="375.0" width="17.27" height="17.25" fill="#6a9bc5"/>
<rect x="439.15" y="375.0" width="17.27" height="17.25" fill="#6e9cc5"/>
<rect x="456.12" y="375.0" width="17.27" height="17.25" fill="#729ec6"/>
<rect x="473.08" y="375.0" width="17.27" height="17.25" fill="#769fc6"/>
<rect x="490.05" y="375.0" width="17.27" height="17.25" fill="#81a6c8"/>
<rect x="507.01" y="375.0" width="17.27" height="17.25" fill="#87aaca"/>
<rect x="523.98" y="375.0" width="17.27" height="17.25" fill="#8baecb"/>
<rect x="540.95" y="375.0" width="17.27" height="17.25" fill="#8db1ca"/>
<rect x="557.91" y="375.0" width="17.27" height="17.25" fill="#8cb0c8"/>
<rect x="574.88" y="375.0" width="17.27" height="17.25" fill="#89acc7"/>
<rect x="591.84" y="375.0" width="17.27" height="17.25" fill="#82a5c6"/>
<rect x="608.81" y="375.0" width="17.27" height="17.25" fill="#7b9fc4"/>
<rect x="625.78" y="375.0" width="17.27" height="17.25" fill="#739bc5"/>
<rect x="642.74" y="375.0" width="17.27" height="17.25" fill="#729cc5"/>
<rect x="659.71" y="375.0" width="17.27" height="17.25" fill="#759ec5"/>
<rect x="676.67" y="375.0" width="17.27" height="17.25" fill="#7ca3c6"/>
<rect x="693.64" y="375.0" width="17.27" height="17.25" fill="#89adca"/>
<rect x="710.61" y="375.0" width="17.27" height="17.25" fill="#95b6ce"/>
<rect x="727.57" y="375.0" width="17.27" height="17.25" fill="#9ebdd1"/>
<rect x="744.54" y="375.0" width="17.27" height="17.25" fill="#a0bcd3"/>
<rect x="761.5" y="375.0" width="17.27" height="17.25" fill="#a0bad3"/>
<rect x="778.47" y="375.0" width="17.27" height="17.25" fill="#9ebcd2"/>
<rect x="795.44" y="375.0" width="17.27" height="17.25" fill="#9bbcd2"/>
<rect x="812.4" y="375.0" width="17.27" height="17.25" fill="#95b9cf"/>
<rect x="829.37" y="375.0" width="17.27" height="17.25" fill="#7ea5c8"/>
<rect x="846.33" y="375.0" width="17.27" height="17.25" fill="#7ea5c6"/>
<rect x="863.3" y="375.0" width="17.27" height="17.25" fill="#82a9c8"/>
<rect x="880.27" y="375.0" width="17.27" height="17.25" fill="#8bb0cb"/>
<rect x="897.23" y="375.0" width="17.27" height="17.25" fill="#92b5ce"/>
<rect x="914.2" y="375.0" width="17.27" height="17.25" fill="#93b5d1"/>
<rect x="931.16" y="375.0" width="17.27" height="17.25" fill="#92b3d0"/>
<rect x="948.13" y="375.0" width="17.27" height="17.25" fill="#8ab2d1"/>
<rect x="965.1" y="375.0" width="17.27" height="17.25" fill="#85b1d0"/>
<rect x="982.06" y="375.0" width="17.27" height="17.25" fill="#87b3d0"/>
<rect x="999.03" y="375.0" width="17.27" height="17.25" fill="#88b5d0"/>
<rect x="15.0" y="391.95" width="17.27" height="17.25" fill="#90c1db"/>
<rect x="31.97" y="391.95" width="17.27" height="17.25" fill="#84b8d9"/>
<rect x="48.93" y="391.95" width="17.27" height="17.25" fill="#78afd6"/>
<rect x="65.9" y="391.95" width="17.27" height="17.25" fill="#70abd3"/>
<rect x="82.86" y="391.95" width="17.27" height="17.25" fill="#6aa7d2"/>
<rect x="99.83" y="391.95" width="17.27" height="17.25" fill="#65a3d1"/>
<rect x="116.8" y="391.95" width="17.27" height="17.25" fill="#78acd2"/>
<rect x="133.76" y="391.95" width="17.27" height="17.25" fill="#7aaed2"/>
<rect x="150.73" y="391.95" width="17.27" height="17.25" fill="#78aed4"/>
<rect x="167.69" y="391.95" width="17.27" height="17.25" fill="#77add5"/>
<rect x="184.66" y="391.95" width="17.27" height="17.25" fill="#7dadd5"/>
<rect x="201.63" y="391.95" width="17.27" height="17.25" fill="#86b2d6"/>
<rect x="218.59" y="391.95" width="17.27" height="17.25" fill="#a3bed7"/>
<rect x="235.56" y="391.95" width="17.27" height="17.25" fill="#9bb9d3"/>
<rect x="252.52" y="391.95" width="17.27" height="17.25" fill="#88acc9"/>
<rect x="269.49" y="391.95" width="17.27" height="17.25" fill="#85a9c8"/>
<rect x="286.46" y="391.95" width="17.27" height="17.25" fill="#82a7c7"/>
<rect x="303.42" y="391.95" width="17.27" height="17.25" fill="#86aac8"/>
<rect x="320.39" y="391.95" width="17.27" height="17.25" fill="#9dbcd1"/>
<rect x="337.35" y="391.95" width="17.27" height="17.25" fill="#a1bad2"/>
<rect x="354.32" y="391.95" width="17.27" height="17.25" fill="#9eb5d0"/>
<rect x="371.29" y="391.95" width="17.27" height="17.25" fill="#91aecb"/>
<rect x="388.25" y="391.95" width="17.27" height="17.25" fill="#81a5c8"/>
<rect x="405.22" y="391.95" width="17.27" height="17.25" fill="#77a0c8"/>
<rect x="422.18" y="391.95" width="17.27" height="17.25" fill="#6f9cc8"/>
<rect x="439.15" y="391.95" width="17.27" height="17.25" fill="#739fc6"/>
<rect x="456.12" y="391.95" width="17.27" height="17.25" fill="#77a0c7"/>
<rect x="473.08" y="391.95" width="17.27" height="17.25" fill="#7da5c8"/>
<rect x="490.05" y="391.95" width="17.27" height="17.25" fill="#86aacb"/>
<rect x="507.01" y="391.95" width="17.27" height="17.25" fill="#8aaecd"/>
<rect x="523.98" y="391.95" width="17.27" height="17.25" fill="#8db1cf"/>
<rect x="540.95" y="391.95" width="17.27" height="17.25" fill="#8db1cc"/>
<rect x="557.91" y="391.95" width="17.27" height="17.25" fill="#8bafc7"/>
<rect x="574.88" y="391.95" width="17.27" height="17.25" fill="#88abc6"/>
<rect x="591.84" y="391.95" width="17.27" height="17.25" fill="#81a3c5"/>
<rect x="608.81" y="391.95" width="17.27" height="17.25" fill="#7a9dc4"/>
<rect x="625.78" y="391.95" width="17.27" height="17.25" fill="#769dc4"/>
<rect x="642.74" y="391.95" width="17.27" height="17.25" fill="#77a0c6"/>
<rect x="659.71" y="391.95" width="17.27" height="17.25" fill="#80a6c6"/>
<rect x="676.67" y="391.95" width="17.27" height="17.25" fill="#8aafca"/>
<rect x="693.64" y="391.95" width="17.27" height="17.25" fill="#96bad0"/>
<rect x="710.61" y="391.95" width="17.27" height="17.25" fill="#9abdd2"/>
<rect x="727.57" y="391.95" width="17.27" height="17.25" fill="#9dbed3"/>
<rect x="744.54" y="391.95" width="17.27" height="17.25" fill="#9ebcd4"/>
<rect x="761.5" y="391.95" width="17.27" height="17.25" fill="#9dbbd4"/>
<rect x="778.47" y="391.95" width="17.27" height="17.25" fill="#a0bed4"/>
<rect x="795.44" y="391.95" width="17.27" height="17.25" fill="#a5c3d4"/>
<rect x="812.4" y="391.95" width="17.27" height="17.25" fill="#96bbd1"/>
<rect x="829.37" y="391.95" width="17.27" height="17.25" fill="#7fa7c7"/>
<rect x="846.33" y="391.95" width="17.27" height="17.25" fill="#7fa8c7"/>
<rect x="863.3" y="391.95" width="17.27" height="17.25" fill="#81aac9"/>
<rect x="880.27" y="391.95" width="17.27" height="17.25" fill="#8aafcc"/>
<rect x="897.23" y="391.95" width="17.27" height="17.25" fill="#92b5cf"/>
<rect x="914.2" y="391.95" width="17.27" height="17.25" fill="#94b5d2"/>
<rect x="931.16" y="391.95" width="17.27" height="17.25" fill="#90b4d2"/>
<rect x="948.13" y="391.95" width="17.27" height="17.25" fill="#84b0d2"/>
<rect x="965.1" y="391.95" width="17.27" height="17.25" fill="#81b1d1"/>
<rect x="982.06" y="391.95" width="17.27" height="17.25" fill="#85b3d1"/>
<rect x="999.03" y="391.95" width="17.27" height="17.25" fill="#88b4d0"/>
<rect x="15.0" y="500.45" width="1017.96" height="373.21" fill="#bb6797"/>
<rect x="15.0" y="500.45" width="848.6" height="17.27" fill="#552597"/>
<rect x="863.3" y="500.45" width="17.27" height="17.27" fill="#944e88"/>
<rect x="880.27" y="500.45" width="17.27" height="17.27" fill="#944e87"/>
<rect x="897.23" y="500.45" width="17.27" height="17.27" fill="#924d87"/>
<rect x="914.2" y="500.45" width="17.27" height="17.27" fill="#854384"/>
<rect x="931.16" y="500.45" width="34.23" height="17.27" fill="#7a3c81"/>
<rect x="965.1" y="500.45" width="17.27" height="17.27" fill="#7c3d81"/>
<rect x="982.06" y="500.45" width="17.27" height="17.27" fill="#7e3e82"/>
<rect x="999.03" y="500.45" width="17.27" height="17.27" fill="#884484"/>
<rect x="15.0" y="517.42" width="865.57" height="17.27" fill="#552597"/>
<rect x="880.27" y="517.42" width="34.23" height="17.27" fill="#934d87"/>
<rect x="914.2" y="517.42" width="17.27" height="17.27" fill="#844383"/>
<rect x="931.16" y="517.42" width="34.23" height="17.27" fill="#793b80"/>
<rect x="965.1" y="517.42" width="17.27" height="17.27" fill="#7a3b80"/>
<rect x="982.06" y="517.42" width="17.27" height="17.27" fill="#7c3c81"/>
<rect x="999.03" y="517.42" width="17.27" height="17.27" fill="#7e3d82"/>
<rect x="15.0" y="534.38" width="865.57" height="17.27" fill="#552597"/>
<rect x="880.27" y="534.38" width="34.23" height="17.27" fill="#924c87"/>
<rect x="914.2" y="534.38" width="17.27" height="17.27" fill="#834283"/>
<rect x="931.16" y="534.38" width="17.27" height="17.27" fill="#793a80"/>
<rect x="948.13" y="534.38" width="17.27" height="17.27" fill="#7a3b80"/>
<rect x="965.1" y="534.38" width="17.27" height="17.27" fill="#793a80"/>
<rect x="982.06" y="534.38" width="17.27" height="17.27" fill="#7a3a80"/>
<rect x="999.03" y="534.38" width="17.27" height="17.27" fill="#7c3a80"/>
<rect x="15.0" y="551.35" width="865.57" height="17.27" fill="#552597"/>
<rect x="880.27" y="551.35" width="17.27" height="17.27" fill="#904b87"/>
<rect x="897.23" y="551.35" width="17.27" height="17.27" fill="#924d87"/>
<rect x="914.2" y="551.35" width="17.27" height="17.27" fill="#8e4986"/>
<rect x="931.16" y="551.35" width="17.27" height="17.27" fill="#814083"/>
<rect x="948.13" y="551.35" width="17.27" height="17.27" fill="#7e3d81"/>
<rect x="965.1" y="551.35" width="17.27" height="17.27" fill="#7a3b80"/>
<rect x="982.06" y="551.35" width="17.27" height="17.27" fill="#7a3a80"/>
<rect x="999.03" y="551.35" width="17.27" height="17.27" fill="#7c3a81"/>
<rect x="15.0" y="568.31" width="882.53" height="17.27" fill="#552597"/>
<rect x="897.23" y="568.31" width="17.27" height="17.27" fill="#944e87"/>
<rect x="914.2" y="568.31" width="17.27" height="17.27" fill="#924c87"/>
<rect x="931.16" y="568.31" width="17.27" height="17.27" fill="#804082"/>
<rect x="948.13" y="568.31" width="17.27" height="17.27" fill="#7e3e82"/>
<rect x="965.1" y="568.31" width="34.23" height="17.27" fill="#7a3b80"/>
<rect x="999.03" y="568.31" width="17.27" height="17.27" fill="#7e3c82"/>
<rect x="15.0" y="585.28" width="882.53" height="17.27" fill="#552597"/>
<rect x="897.23" y="585.28" width="17.27" height="17.27" fill="#995389"/>
<rect x="914.2" y="585.28" width="17.27" height="17.27" fill="#9a548a"/>
<rect x="931.16" y="585.28" width="17.27" height="17.27" fill="#995188"/>
<rect x="948.13" y="585.28" width="17.27" height="17.27" fill="#803f82"/>
<rect x="965.1" y="585.28" width="17.27" height="17.27" fill="#7d3e81"/>
<rect x="982.06" y="585.28" width="17.27" height="17.27" fill="#7e3e82"/>
<rect x="999.03" y="585.28" width="17.27" height="17.27" fill="#824183"/>
<rect x="15.0" y="602.25" width="882.53" height="17.27" fill="#552597"/>
<rect x="897.23" y="602.25" width="17.27" height="17.27" fill="#a45c8f"/>
<rect x="914.2" y="602.25" width="17.27" height="17.27" fill="#a45b8e"/>
<rect x="931.16" y="602.25" width="17.27" height="17.27" fill="#9b5389"/>
<rect x="948.13" y="602.25" width="17.27" height="17.27" fill="#854384"/>
<rect x="965.1" y="602.25" width="17.27" height="17.27" fill="#804182"/>
<rect x="982.06" y="602.25" width="17.27" height="17.27" fill="#814182"/>
<rect x="999.03" y="602.25" width="17.27" height="17.27" fill="#874584"/>
<rect x="15.0" y="619.21" width="136.03" height="17.27" fill="#552597"/>
<rect x="150.73" y="619.21" width="17.27" height="17.27" fill="#9a5288"/>
<rect x="167.69" y="619.21" width="729.84" height="17.27" fill="#552597"/>
<rect x="897.23" y="619.21" width="17.27" height="17.27" fill="#a35c8f"/>
<rect x="914.2" y="619.21" width="17.27" height="17.27" fill="#a45b8e"/>
<rect x="931.16" y="619.21" width="17.27" height="17.27" fill="#9b548a"/>
<rect x="948.13" y="619.21" width="34.23" height="17.27" fill="#8a4785"/>
<rect x="982.06" y="619.21" width="34.23" height="17.27" fill="#8c4986"/>
<rect x="15.0" y="636.18" width="102.1" height="17.27" fill="#552597"/>
<rect x="116.8" y="636.18" width="17.27" height="17.27" fill="#9e5188"/>
<rect x="133.76" y="636.18" width="17.27" height="17.27" fill="#9d5288"/>
<rect x="150.73" y="636.18" width="17.27" height="17.27" fill="#9d5287"/>
<rect x="167.69" y="636.18" width="17.27" height="17.27" fill="#9b5187"/>
<rect x="184.66" y="636.18" width="17.27" height="17.27" fill="#964f88"/>
<rect x="201.63" y="636.18" width="17.27" height="17.27" fill="#924c87"/>
<rect x="218.59" y="636.18" width="17.27" height="17.27" fill="#552597"/>
<rect x="235.56" y="636.18" width="17.27" height="17.27" fill="#904c87"/>
<rect x="252.52" y="636.18" width="17.27" height="17.27" fill="#944f88"/>
<rect x="269.49" y="636.18" width="628.04" height="17.27" fill="#552597"/>
<rect x="897.23" y="636.18" width="17.27" height="17.27" fill="#a25b8e"/>
<rect x="914.2" y="636.18" width="17.27" height="17.27" fill="#9e578c"/>
<rect x="931.16" y="636.18" width="17.27" height="17.27" fill="#9b548a"/>
<rect x="948.13" y="636.18" width="17.27" height="17.27" fill="#985188"/>
<rect x="965.1" y="636.18" width="17.27" height="17.27" fill="#954f87"/>
<rect x="982.06" y="636.18" width="17.27" height="17.27" fill="#914c87"/>
<rect x="999.03" y="636.18" width="17.27" height="17.27" fill="#904c87"/>
<rect x="15.0" y="653.14" width="85.13" height="17.27" fill="#552597"/>
<rect x="99.83" y="653.14" width="17.27" height="17.27" fill="#9f5187"/>
<rect x="116.8" y="653.14" width="17.27" height="17.27" fill="#a04f88"/>
<rect x="133.76" y="653.14" width="17.27" height="17.27" fill="#9f5086"/>
<rect x="150.73" y="653.14" width="17.27" height="17.27" fill="#9c4f86"/>
<rect x="167.69" y="653.14" width="17.27" height="17.27" fill="#984e86"/>
<rect x="184.66" y="653.14" width="17.27" height="17.27" fill="#934b85"/>
<rect x="201.63" y="653.14" width="17.27" height="17.27" fill="#8f4a85"/>
<rect x="218.59" y="653.14" width="17.27" height="17.27" fill="#8e4a86"/>
<rect x="235.56" y="653.14" width="17.27" height="17.27" fill="#924c86"/>
<rect x="252.52" y="653.14" width="17.27" height="17.27" fill="#965088"/>
<rect x="269.49" y="653.14" width="17.27" height="17.27" fill="#975088"/>
<rect x="286.46" y="653.14" width="17.27" height="17.27" fill="#944d88"/>
<rect x="303.42" y="653.14" width="203.89" height="17.27" fill="#552597"/>
<rect x="507.01" y="653.14" width="17.27" height="17.27" fill="#864585"/>
<rect x="523.98" y="653.14" width="17.27" height="17.27" fill="#864384"/>
<rect x="540.95" y="653.14" width="17.27" height="17.27" fill="#874384"/>
<rect x="557.91" y="653.14" width="17.27" height="17.27" fill="#874383"/>
<rect x="574.88" y="653.14" width="17.27" height="17.27" fill="#864383"/>
<rect x="591.84" y="653.14" width="17.27" height="17.27" fill="#844283"/>
<rect x="608.81" y="653.14" width="17.27" height="17.27" fill="#844183"/>
<rect x="625.78" y="653.14" width="254.79" height="17.27" fill="#552597"/>
<rect x="880.27" y="653.14" width="17.27" height="17.27" fill="#914d88"/>
<rect x="897.23" y="653.14" width="17.27" height="17.27" fill="#98528a"/>
<rect x="914.2" y="653.14" width="17.27" height="17.27" fill="#9b5489"/>
<rect x="931.16" y="653.14" width="17.27" height="17.27" fill="#9e558a"/>
<rect x="948.13" y="653.14" width="17.27" height="17.27" fill="#a9598d"/>
<rect x="965.1" y="653.14" width="17.27" height="17.27" fill="#a3578c"/>
<rect x="982.06" y="653.14" width="17.27" height="17.27" fill="#9f568c"/>
<rect x="999.03" y="653.14" width="17.27" height="17.27" fill="#944f88"/>
<rect x="15.0" y="670.11" width="17.27" height="17.27" fill="#a85a8d"/>
<rect x="31.97" y="670.11" width="17.27" height="17.27" fill="#aa5b8e"/>
<rect x="48.93" y="670.11" width="17.27" height="17.27" fill="#a9598d"/>
<rect x="65.9" y="670.11" width="17.27" height="17.27" fill="#a6578c"/>
<rect x="82.86" y="670.11" width="17.27" height="17.27" fill="#a5548a"/>
<rect x="99.83" y="670.11" width="17.27" height="17.27" fill="#a35088"/>
<rect x="116.8" y="670.11" width="17.27" height="17.27" fill="#a14d87"/>
<rect x="133.76" y="670.11" width="17.27" height="17.27" fill="#9e4e85"/>
<rect x="150.73" y="670.11" width="17.27" height="17.27" fill="#994c84"/>
<rect x="167.69" y="670.11" width="17.27" height="17.27" fill="#8f4882"/>
<rect x="184.66" y="670.11" width="17.27" height="17.27" fill="#8d4782"/>
<rect x="201.63" y="670.11" width="17.27" height="17.27" fill="#8b4783"/>
<rect x="218.59" y="670.11" width="17.27" height="17.27" fill="#8c4784"/>
<rect x="235.56" y="670.11" width="17.27" height="17.27" fill="#8d4884"/>
<rect x="252.52" y="670.11" width="17.27" height="17.27" fill="#964e87"/>
<rect x="269.49" y="670.11" width="17.27" height="17.27" fill="#985088"/>
<rect x="286.46" y="670.11" width="17.27" height="17.27" fill="#964f87"/>
<rect x="303.42" y="670.11" width="17.27" height="17.27" fill="#934c87"/>
<rect x="320.39" y="670.11" width="152.99" height="17.27" fill="#552597"/>
<rect x="473.08" y="670.11" width="17.27" height="17.27" fill="#844284"/>
<rect x="490.05" y="670.11" width="17.27" height="17.27" fill="#824082"/>
<rect x="507.01" y="670.11" width="17.27" height="17.27" fill="#833f81"/>
<rect x="523.98" y="670.11" width="17.27" height="17.27" fill="#844082"/>
<rect x="540.95" y="670.11" width="17.27" height="17.27" fill="#8a4482"/>
<rect x="557.91" y="670.11" width="17.27" height="17.27" fill="#8a4582"/>
<rect x="574.88" y="670.11" width="17.27" height="17.27" fill="#884482"/>
<rect x="591.84" y="670.11" width="17.27" height="17.27" fill="#874382"/>
<rect x="608.81" y="670.11" width="17.27" height="17.27" fill="#844182"/>
<rect x="625.78" y="670.11" width="17.27" height="17.27" fill="#814082"/>
<rect x="642.74" y="670.11" width="17.27" height="17.27" fill="#803f82"/>
<rect x="659.71" y="670.11" width="220.86" height="17.27" fill="#552597"/>
<rect x="880.27" y="670.11" width="17.27" height="17.27" fill="#8d4986"/>
<rect x="897.23" y="670.11" width="17.27" height="17.27" fill="#8e4986"/>
<rect x="914.2" y="670.11" width="17.27" height="17.27" fill="#985087"/>
<rect x="931.16" y="670.11" width="17.27" height="17.27" fill="#a4568b"/>
<rect x="948.13" y="670.11" width="17.27" height="17.27" fill="#ab5b8d"/>
<rect x="965.1" y="670.11" width="17.27" height="17.27" fill="#ad5d8e"/>
<rect x="982.06" y="670.11" width="17.27" height="17.27" fill="#a3598d"/>
<rect x="999.03" y="670.11" width="17.27" height="17.27" fill="#98538a"/>
<rect x="15.0" y="687.08" width="17.27" height="17.27" fill="#a2568a"/>
<rect x="31.97" y="687.08" width="17.27" height="17.27" fill="#aa598b"/>
<rect x="48.93" y="687.08" width="17.27" height="17.27" fill="#ac598a"/>
<rect x="65.9" y="687.08" width="17.27" height="17.27" fill="#a9578a"/>
<rect x="82.86" y="687.08" width="17.27" height="17.27" fill="#a85589"/>
<rect x="99.83" y="687.08" width="17.27" height="17.27" fill="#a65188"/>
<rect x="116.8" y="687.08" width="17.27" height="17.27" fill="#a34e87"/>
<rect x="133.76" y="687.08" width="17.27" height="17.27" fill="#a04c86"/>
<rect x="150.73" y="687.08" width="17.27" height="17.27" fill="#954b84"/>
<rect x="167.69" y="687.08" width="17.27" height="17.27" fill="#8d4883"/>
<rect x="184.66" y="687.08" width="17.27" height="17.27" fill="#894582"/>
<rect x="201.63" y="687.08" width="17.27" height="17.27" fill="#884582"/>
<rect x="218.59" y="687.08" width="17.27" height="17.27" fill="#894582"/>
<rect x="235.56" y="687.08" width="17.27" height="17.27" fill="#8a4684"/>
<rect x="252.52" y="687.08" width="17.27" height="17.27" fill="#8f4985"/>
<rect x="269.49" y="687.08" width="34.23" height="17.27" fill="#954e87"/>
<rect x="303.42" y="687.08" width="17.27" height="17.27" fill="#934d86"/>
<rect x="320.39" y="687.08" width="17.27" height="17.27" fill="#8f4985"/>
<rect x="337.35" y="687.08" width="17.27" height="17.27" fill="#8d4884"/>
<rect x="354.32" y="687.08" width="17.27" height="17.27" fill="#8d4784"/>
<rect x="371.29" y="687.08" width="17.27" height="17.27" fill="#864484"/>
<rect x="388.25" y="687.08" width="68.16" height="17.27" fill="#552597"/>
<rect x="456.12" y="687.08" width="17.27" height="17.27" fill="#844183"/>
<rect x="473.08" y="687.08" width="17.27" height="17.27" fill="#813f82"/>
<rect x="490.05" y="687.08" width="17.27" height="17.27" fill="#803e80"/>
<rect x="507.01" y="687.08" width="17.27" height="17.27" fill="#813e80"/>
<rect x="523.98" y="687.08" width="17.27" height="17.27" fill="#874281"/>
<rect x="540.95" y="687.08" width="17.27" height="17.27" fill="#8b4581"/>
<rect x="557.91" y="687.08" width="17.27" height="17.27" fill="#8c4582"/>
<rect x="574.88" y="687.08" width="17.27" height="17.27" fill="#8b4582"/>
<rect x="591.84" y="687.08" width="17.27" height="17.27" fill="#874382"/>
<rect x="608.81" y="687.08" width="17.27" height="17.27" fill="#844182"/>
<rect x="625.78" y="687.08" width="17.27" height="17.27" fill="#824082"/>
<rect x="642.74" y="687.08" width="17.27" height="17.27" fill="#814083"/>
<rect x="659.71" y="687.08" width="17.27" height="17.27" fill="#814183"/>
<rect x="676.67" y="687.08" width="169.96" height="17.27" fill="#552597"/>
<rect x="846.33" y="687.08" width="17.27" height="17.27" fill="#8a4886"/>
<rect x="863.3" y="687.08" width="17.27" height="17.27" fill="#8a4784"/>
<rect x="880.27" y="687.08" width="17.27" height="17.27" fill="#8b4784"/>
<rect x="897.23" y="687.08" width="17.27" height="17.27" fill="#8c4884"/>
<rect x="914.2" y="687.08" width="17.27" height="17.27" fill="#964e85"/>
<rect x="931.16" y="687.08" width="17.27" height="17.27" fill="#a4568a"/>
<rect x="948.13" y="687.08" width="17.27" height="17.27" fill="#a7588b"/>
<rect x="965.1" y="687.08" width="17.27" height="17.27" fill="#a85b8d"/>
<rect x="982.06" y="687.08" width="17.27" height="17.27" fill="#a2598d"/>
<rect x="999.03" y="687.08" width="17.27" height="17.27" fill="#9d578c"/>
<rect x="15.0" y="704.04" width="17.27" height="17.27" fill="#9e5587"/>
<rect x="31.97" y="704.04" width="17.27" height="17.27" fill="#a65588"/>
<rect x="48.93" y="704.04" width="17.27" height="17.27" fill="#af5888"/>
<rect x="65.9" y="704.04" width="17.27" height="17.27" fill="#af5788"/>
<rect x="82.86" y="704.04" width="17.27" height="17.27" fill="#ac5588"/>
<rect x="99.83" y="704.04" width="17.27" height="17.27" fill="#a95388"/>
<rect x="116.8" y="704.04" width="17.27" height="17.27" fill="#a54f88"/>
<rect x="133.76" y="704.04" width="17.27" height="17.27" fill="#9c4e86"/>
<rect x="150.73" y="704.04" width="17.27" height="17.27" fill="#924b84"/>
<rect x="167.69" y="704.04" width="17.27" height="17.27" fill="#8d4984"/>
<rect x="184.66" y="704.04" width="17.27" height="17.27" fill="#864481"/>
<rect x="201.63" y="704.04" width="17.27" height="17.27" fill="#874482"/>
<rect x="218.59" y="704.04" width="17.27" height="17.27" fill="#884582"/>
<rect x="235.56" y="704.04" width="17.27" height="17.27" fill="#894584"/>
<rect x="252.52" y="704.04" width="17.27" height="17.27" fill="#8c4684"/>
<rect x="269.49" y="704.04" width="17.27" height="17.27" fill="#8e4884"/>
<rect x="286.46" y="704.04" width="34.23" height="17.27" fill="#914b85"/>
<rect x="320.39" y="704.04" width="17.27" height="17.27" fill="#904985"/>
<rect x="337.35" y="704.04" width="17.27" height="17.27" fill="#8e4784"/>
<rect x="354.32" y="704.04" width="17.27" height="17.27" fill="#8d4783"/>
<rect x="371.29" y="704.04" width="17.27" height="17.27" fill="#894583"/>
<rect x="388.25" y="704.04" width="17.27" height="17.27" fill="#854283"/>
<rect x="405.22" y="704.04" width="34.23" height="17.27" fill="#834183"/>
<rect x="439.15" y="704.04" width="17.27" height="17.27" fill="#834082"/>
<rect x="456.12" y="704.04" width="17.27" height="17.27" fill="#823f81"/>
<rect x="473.08" y="704.04" width="34.23" height="17.27" fill="#803d80"/>
<rect x="507.01" y="704.04" width="17.27" height="17.27" fill="#823f80"/>
<rect x="523.98" y="704.04" width="17.27" height="17.27" fill="#854180"/>
<rect x="540.95" y="704.04" width="17.27" height="17.27" fill="#8d4682"/>
<rect x="557.91" y="704.04" width="17.27" height="17.27" fill="#8e4783"/>
<rect x="574.88" y="704.04" width="17.27" height="17.27" fill="#8c4583"/>
<rect x="591.84" y="704.04" width="17.27" height="17.27" fill="#874382"/>
<rect x="608.81" y="704.04" width="17.27" height="17.27" fill="#834082"/>
<rect x="625.78" y="704.04" width="17.27" height="17.27" fill="#813f82"/>
<rect x="642.74" y="704.04" width="17.27" height="17.27" fill="#823f82"/>
<rect x="659.71" y="704.04" width="17.27" height="17.27" fill="#834182"/>
<rect x="676.67" y="704.04" width="17.27" height="17.27" fill="#824183"/>
<rect x="693.64" y="704.04" width="17.27" height="17.27" fill="#824284"/>
<rect x="710.61" y="704.04" width="17.27" height="17.27" fill="#814183"/>
<rect x="727.57" y="704.04" width="17.27" height="17.27" fill="#552597"/>
<rect x="744.54" y="704.04" width="17.27" height="17.27" fill="#804082"/>
<rect x="761.5" y="704.04" width="17.27" height="17.27" fill="#804182"/>
<rect x="778.47" y="704.04" width="17.27" height="17.27" fill="#804282"/>
<rect x="795.44" y="704.04" width="17.27" height="17.27" fill="#824383"/>
<rect x="812.4" y="704.04" width="17.27" height="17.27" fill="#854584"/>
<rect x="829.37" y="704.04" width="17.27" height="17.27" fill="#884784"/>
<rect x="846.33" y="704.04" width="17.27" height="17.27" fill="#894684"/>
<rect x="863.3" y="704.04" width="17.27" height="17.27" fill="#884583"/>
<rect x="880.27" y="704.04" width="17.27" height="17.27" fill="#884482"/>
<rect x="897.23" y="704.04" width="17.27" height="17.27" fill="#894482"/>
<rect x="914.2" y="704.04" width="17.27" height="17.27" fill="#934c85"/>
<rect x="931.16" y="704.04" width="17.27" height="17.27" fill="#a3568a"/>
<rect x="948.13" y="704.04" width="17.27" height="17.27" fill="#a5578b"/>
<rect x="965.1" y="704.04" width="17.27" height="17.27" fill="#a6598c"/>
<rect x="982.06" y="704.04" width="17.27" height="17.27" fill="#a55a8d"/>
<rect x="999.03" y="704.04" width="17.27" height="17.27" fill="#9e578c"/>
<rect x="15.0" y="721.01" width="17.27" height="17.27" fill="#9f5386"/>
<rect x="31.97" y="721.01" width="17.27" height="17.27" fill="#a25188"/>
<rect x="48.93" y="721.01" width="34.23" height="17.27" fill="#b05788"/>
<rect x="82.86" y="721.01" width="17.27" height="17.27" fill="#b0578a"/>
<rect x="99.83" y="721.01" width="17.27" height="17.27" fill="#ae578a"/>
<rect x="116.8" y="721.01" width="17.27" height="17.27" fill="#ad588b"/>
<rect x="133.76" y="721.01" width="17.27" height="17.27" fill="#a4538a"/>
<rect x="150.73" y="721.01" width="17.27" height="17.27" fill="#9a5188"/>
<rect x="167.69" y="721.01" width="17.27" height="17.27" fill="#964f87"/>
<rect x="184.66" y="721.01" width="17.27" height="17.27" fill="#8c4984"/>
<rect x="201.63" y="721.01" width="17.27" height="17.27" fill="#8e4984"/>
<rect x="218.59" y="721.01" width="17.27" height="17.27" fill="#904b85"/>
<rect x="235.56" y="721.01" width="17.27" height="17.27" fill="#924c86"/>
<rect x="252.52" y="721.01" width="17.27" height="17.27" fill="#914b86"/>
<rect x="269.49" y="721.01" width="17.27" height="17.27" fill="#8f4985"/>
<rect x="286.46" y="721.01" width="17.27" height="17.27" fill="#8f4984"/>
<rect x="303.42" y="721.01" width="34.23" height="17.27" fill="#8f4985"/>
<rect x="337.35" y="721.01" width="17.27" height="17.27" fill="#8d4783"/>
<rect x="354.32" y="721.01" width="17.27" height="17.27" fill="#8b4582"/>
<rect x="371.29" y="721.01" width="17.27" height="17.27" fill="#874382"/>
<rect x="388.25" y="721.01" width="17.27" height="17.27" fill="#823f82"/>
<rect x="405.22" y="721.01" width="17.27" height="17.27" fill="#813f82"/>
<rect x="422.18" y="721.01" width="17.27" height="17.27" fill="#823f82"/>
<rect x="439.15" y="721.01" width="17.27" height="17.27" fill="#833f81"/>
<rect x="456.12" y="721.01" width="51.2" height="17.27" fill="#843f80"/>
<rect x="507.01" y="721.01" width="17.27" height="17.27" fill="#854181"/>
<rect x="523.98" y="721.01" width="17.27" height="17.27" fill="#894482"/>
<rect x="540.95" y="721.01" width="17.27" height="17.27" fill="#8e4784"/>
<rect x="557.91" y="721.01" width="17.27" height="17.27" fill="#904984"/>
<rect x="574.88" y="721.01" width="17.27" height="17.27" fill="#8a4584"/>
<rect x="591.84" y="721.01" width="17.27" height="17.27" fill="#854182"/>
<rect x="608.81" y="721.01" width="17.27" height="17.27" fill="#823f81"/>
<rect x="625.78" y="721.01" width="17.27" height="17.27" fill="#813e81"/>
<rect x="642.74" y="721.01" width="17.27" height="17.27" fill="#823f82"/>
<rect x="659.71" y="721.01" width="17.27" height="17.27" fill="#834081"/>
<rect x="676.67" y="721.01" width="17.27" height="17.27" fill="#834082"/>
<rect x="693.64" y="721.01" width="17.27" height="17.27" fill="#824082"/>
<rect x="710.61" y="721.01" width="17.27" height="17.27" fill="#803f81"/>
<rect x="727.57" y="721.01" width="17.27" height="17.27" fill="#803e81"/>
<rect x="744.54" y="721.01" width="17.27" height="17.27" fill="#813f81"/>
<rect x="761.5" y="721.01" width="17.27" height="17.27" fill="#824081"/>
<rect x="778.47" y="721.01" width="17.27" height="17.27" fill="#834282"/>
<rect x="795.44" y="721.01" width="17.27" height="17.27" fill="#844382"/>
<rect x="812.4" y="721.01" width="17.27" height="17.27" fill="#844482"/>
<rect x="829.37" y="721.01" width="17.27" height="17.27" fill="#854482"/>
<rect x="846.33" y="721.01" width="17.27" height="17.27" fill="#854382"/>
<rect x="863.3" y="721.01" width="17.27" height="17.27" fill="#834181"/>
<rect x="880.27" y="721.01" width="17.27" height="17.27" fill="#844181"/>
<rect x="897.23" y="721.01" width="17.27" height="17.27" fill="#854181"/>
<rect x="914.2" y="721.01" width="17.27" height="17.27" fill="#894483"/>
<rect x="931.16" y="721.01" width="17.27" height="17.27" fill="#8e4784"/>
<rect x="948.13" y="721.01" width="17.27" height="17.27" fill="#914a85"/>
<rect x="965.1" y="721.01" width="17.27" height="17.27" fill="#9c5388"/>
<rect x="982.06" y="721.01" width="17.27" height="17.27" fill="#9c5489"/>
<rect x="999.03" y="721.01" width="17.27" height="17.27" fill="#96518b"/>
<rect x="15.0" y="737.97" width="17.27" height="17.27" fill="#9f5289"/>
<rect x="31.97" y="737.97" width="17.27" height="17.27" fill="#a1518a"/>
<rect x="48.93" y="737.97" width="17.27" height="17.27" fill="#a4528a"/>
<rect x="65.9" y="737.97" width="17.27" height="17.27" fill="#a9558b"/>
<rect x="82.86" y="737.97" width="17.27" height="17.27" fill="#b1598b"/>
<rect x="99.83" y="737.97" width="17.27" height="17.27" fill="#b15a8c"/>
<rect x="116.8" y="737.97" width="17.27" height="17.27" fill="#b05b8d"/>
<rect x="133.76" y="737.97" width="17.27" height="17.27" fill="#ac5a8d"/>
<rect x="150.73" y="737.97" width="17.27" height="17.27" fill="#a6578c"/>
<rect x="167.69" y="737.97" width="17.27" height="17.27" fill="#9f5589"/>
<rect x="184.66" y="737.97" width="17.27" height="17.27" fill="#9a5288"/>
<rect x="201.63" y="737.97" width="17.27" height="17.27" fill="#9a5387"/>
<rect x="218.59" y="737.97" width="17.27" height="17.27" fill="#9c5488"/>
<rect x="235.56" y="737.97" width="17.27" height="17.27" fill="#9d5589"/>
<rect x="252.52" y="737.97" width="17.27" height="17.27" fill="#9c538a"/>
<rect x="269.49" y="737.97" width="17.27" height="17.27" fill="#924b86"/>
<rect x="286.46" y="737.97" width="17.27" height="17.27" fill="#8e4985"/>
<rect x="303.42" y="737.97" width="34.23" height="17.27" fill="#8f4985"/>
<rect x="337.35" y="737.97" width="17.27" height="17.27" fill="#8d4783"/>
<rect x="354.32" y="737.97" width="17.27" height="17.27" fill="#884481"/>
<rect x="371.29" y="737.97" width="17.27" height="17.27" fill="#834081"/>
<rect x="388.25" y="737.97" width="17.27" height="17.27" fill="#803e81"/>
<rect x="405.22" y="737.97" width="17.27" height="17.27" fill="#803d81"/>
<rect x="422.18" y="737.97" width="17.27" height="17.27" fill="#813d81"/>
<rect x="439.15" y="737.97" width="17.27" height="17.27" fill="#833e81"/>
<rect x="456.12" y="737.97" width="17.27" height="17.27" fill="#884180"/>
<rect x="473.08" y="737.97" width="34.23" height="17.27" fill="#884280"/>
<rect x="507.01" y="737.97" width="17.27" height="17.27" fill="#8a4382"/>
<rect x="523.98" y="737.97" width="17.27" height="17.27" fill="#8c4583"/>
<rect x="540.95" y="737.97" width="17.27" height="17.27" fill="#8e4884"/>
<rect x="557.91" y="737.97" width="17.27" height="17.27" fill="#914a84"/>
<rect x="574.88" y="737.97" width="17.27" height="17.27" fill="#8a4483"/>
<rect x="591.84" y="737.97" width="17.27" height="17.27" fill="#834081"/>
<rect x="608.81" y="737.97" width="17.27" height="17.27" fill="#823f81"/>
<rect x="625.78" y="737.97" width="17.27" height="17.27" fill="#823f80"/>
<rect x="642.74" y="737.97" width="34.23" height="17.27" fill="#844081"/>
<rect x="676.67" y="737.97" width="17.27" height="17.27" fill="#823f80"/>
<rect x="693.64" y="737.97" width="17.27" height="17.27" fill="#803e80"/>
<rect x="710.61" y="737.97" width="17.27" height="17.27" fill="#7f3c80"/>
<rect x="727.57" y="737.97" width="17.27" height="17.27" fill="#803d80"/>
<rect x="744.54" y="737.97" width="17.27" height="17.27" fill="#813f80"/>
<rect x="761.5" y="737.97" width="17.27" height="17.27" fill="#823f80"/>
<rect x="778.47" y="737.97" width="17.27" height="17.27" fill="#834181"/>
<rect x="795.44" y="737.97" width="51.2" height="17.27" fill="#834281"/>
<rect x="846.33" y="737.97" width="17.27" height="17.27" fill="#834181"/>
<rect x="863.3" y="737.97" width="34.23" height="17.27" fill="#823f80"/>
<rect x="897.23" y="737.97" width="17.27" height="17.27" fill="#824080"/>
<rect x="914.2" y="737.97" width="17.27" height="17.27" fill="#833f80"/>
<rect x="931.16" y="737.97" width="17.27" height="17.27" fill="#843f80"/>
<rect x="948.13" y="737.97" width="17.27" height="17.27" fill="#874182"/>
<rect x="965.1" y="737.97" width="17.27" height="17.27" fill="#914a85"/>
<rect x="982.06" y="737.97" width="17.27" height="17.27" fill="#995188"/>
<rect x="999.03" y="737.97" width="17.27" height="17.27" fill="#8d4b8a"/>
<rect x="15.0" y="754.94" width="17.27" height="17.27" fill="#a1548b"/>
<rect x="31.97" y="754.94" width="17.27" height="17.27" fill="#a3558c"/>
<rect x="48.93" y="754.94" width="17.27" height="17.27" fill="#a4558c"/>
<rect x="65.9" y="754.94" width="17.27" height="17.27" fill="#a8578c"/>
<rect x="82.86" y="754.94" width="17.27" height="17.27" fill="#b15b8c"/>
<rect x="99.83" y="754.94" width="17.27" height="17.27" fill="#b15c8e"/>
<rect x="116.8" y="754.94" width="17.27" height="17.27" fill="#b45e90"/>
<rect x="133.76" y="754.94" width="17.27" height="17.27" fill="#b45f92"/>
<rect x="150.73" y="754.94" width="17.27" height="17.27" fill="#b15e91"/>
<rect x="167.69" y="754.94" width="17.27" height="17.27" fill="#ac5c90"/>
<rect x="184.66" y="754.94" width="17.27" height="17.27" fill="#a95b8e"/>
<rect x="201.63" y="754.94" width="17.27" height="17.27" fill="#aa5b8e"/>
<rect x="218.59" y="754.94" width="17.27" height="17.27" fill="#ac5c8e"/>
<rect x="235.56" y="754.94" width="17.27" height="17.27" fill="#ac5b8e"/>
<rect x="252.52" y="754.94" width="17.27" height="17.27" fill="#a0548c"/>
<rect x="269.49" y="754.94" width="17.27" height="17.27" fill="#984f88"/>
<rect x="286.46" y="754.94" width="17.27" height="17.27" fill="#974d87"/>
<rect x="303.42" y="754.94" width="17.27" height="17.27" fill="#9a4e87"/>
<rect x="320.39" y="754.94" width="17.27" height="17.27" fill="#9c5088"/>
<rect x="337.35" y="754.94" width="17.27" height="17.27" fill="#924b85"/>
<rect x="354.32" y="754.94" width="17.27" height="17.27" fill="#894581"/>
<rect x="371.29" y="754.94" width="17.27" height="17.27" fill="#824081"/>
<rect x="388.25" y="754.94" width="17.27" height="17.27" fill="#803f81"/>
<rect x="405.22" y="754.94" width="17.27" height="17.27" fill="#803e81"/>
<rect x="422.18" y="754.94" width="17.27" height="17.27" fill="#823e80"/>
<rect x="439.15" y="754.94" width="17.27" height="17.27" fill="#863f80"/>
<rect x="456.12" y="754.94" width="17.27" height="17.27" fill="#8a4280"/>
<rect x="473.08" y="754.94" width="17.27" height="17.27" fill="#8a4380"/>
<rect x="490.05" y="754.94" width="17.27" height="17.27" fill="#8b4381"/>
<rect x="507.01" y="754.94" width="17.27" height="17.27" fill="#8e4682"/>
<rect x="523.98" y="754.94" width="17.27" height="17.27" fill="#8e4784"/>
<rect x="540.95" y="754.94" width="17.27" height="17.27" fill="#8f4884"/>
<rect x="557.91" y="754.94" width="17.27" height="17.27" fill="#8e4783"/>
<rect x="574.88" y="754.94" width="17.27" height="17.27" fill="#8a4582"/>
<rect x="591.84" y="754.94" width="17.27" height="17.27" fill="#864281"/>
<rect x="608.81" y="754.94" width="17.27" height="17.27" fill="#854181"/>
<rect x="625.78" y="754.94" width="17.27" height="17.27" fill="#884281"/>
<rect x="642.74" y="754.94" width="17.27" height="17.27" fill="#894282"/>
<rect x="659.71" y="754.94" width="17.27" height="17.27" fill="#884182"/>
<rect x="676.67" y="754.94" width="17.27" height="17.27" fill="#833f80"/>
<rect x="693.64" y="754.94" width="17.27" height="17.27" fill="#813e80"/>
<rect x="710.61" y="754.94" width="17.27" height="17.27" fill="#803e80"/>
<rect x="727.57" y="754.94" width="51.2" height="17.27" fill="#823f80"/>
<rect x="778.47" y="754.94" width="17.27" height="17.27" fill="#824080"/>
<rect x="795.44" y="754.94" width="17.27" height="17.27" fill="#824180"/>
<rect x="812.4" y="754.94" width="17.27" height="17.27" fill="#824181"/>
<rect x="829.37" y="754.94" width="17.27" height="17.27" fill="#834181"/>
<rect x="846.33" y="754.94" width="17.27" height="17.27" fill="#844181"/>
<rect x="863.3" y="754.94" width="34.23" height="17.27" fill="#843f80"/>
<rect x="897.23" y="754.94" width="17.27" height="17.27" fill="#844180"/>
<rect x="914.2" y="754.94" width="17.27" height="17.27" fill="#844181"/>
<rect x="931.16" y="754.94" width="17.27" height="17.27" fill="#864181"/>
<rect x="948.13" y="754.94" width="17.27" height="17.27" fill="#8a4382"/>
<rect x="965.1" y="754.94" width="17.27" height="17.27" fill="#944c86"/>
<rect x="982.06" y="754.94" width="17.27" height="17.27" fill="#984f86"/>
<rect x="999.03" y="754.94" width="17.27" height="17.27" fill="#8c4a89"/>
<rect x="15.0" y="771.91" width="17.27" height="17.27" fill="#a65a90"/>
<rect x="31.97" y="771.91" width="17.27" height="17.27" fill="#a4588e"/>
<rect x="48.93" y="771.91" width="17.27" height="17.27" fill="#a2578d"/>
<rect x="65.9" y="771.91" width="17.27" height="17.27" fill="#a4578c"/>
<rect x="82.86" y="771.91" width="17.27" height="17.27" fill="#af5a8d"/>
<rect x="99.83" y="771.91" width="17.27" height="17.27" fill="#af5b8e"/>
<rect x="116.8" y="771.91" width="17.27" height="17.27" fill="#b15d90"/>
<rect x="133.76" y="771.91" width="17.27" height="17.27" fill="#b76294"/>
<rect x="150.73" y="771.91" width="17.27" height="17.27" fill="#ba6596"/>
<rect x="167.69" y="771.91" width="17.27" height="17.27" fill="#bb6797"/>
<rect x="184.66" y="771.91" width="17.27" height="17.27" fill="#ba6596"/>
<rect x="201.63" y="771.91" width="17.27" height="17.27" fill="#b56293"/>
<rect x="218.59" y="771.91" width="17.27" height="17.27" fill="#ae5d90"/>
<rect x="235.56" y="771.91" width="17.27" height="17.27" fill="#ac5b8e"/>
<rect x="252.52" y="771.91" width="17.27" height="17.27" fill="#a4578c"/>
<rect x="269.49" y="771.91" width="17.27" height="17.27" fill="#9c5288"/>
<rect x="286.46" y="771.91" width="17.27" height="17.27" fill="#9a4f87"/>
<rect x="303.42" y="771.91" width="17.27" height="17.27" fill="#9c5088"/>
<rect x="320.39" y="771.91" width="17.27" height="17.27" fill="#9e5288"/>
<rect x="337.35" y="771.91" width="17.27" height="17.27" fill="#974d86"/>
<rect x="354.32" y="771.91" width="17.27" height="17.27" fill="#8e4983"/>
<rect x="371.29" y="771.91" width="17.27" height="17.27" fill="#834282"/>
<rect x="388.25" y="771.91" width="17.27" height="17.27" fill="#804082"/>
<rect x="405.22" y="771.91" width="17.27" height="17.27" fill="#803f81"/>
<rect x="422.18" y="771.91" width="17.27" height="17.27" fill="#823f80"/>
<rect x="439.15" y="771.91" width="17.27" height="17.27" fill="#854180"/>
<rect x="456.12" y="771.91" width="17.27" height="17.27" fill="#894380"/>
<rect x="473.08" y="771.91" width="17.27" height="17.27" fill="#8a4380"/>
<rect x="490.05" y="771.91" width="17.27" height="17.27" fill="#8b4481"/>
<rect x="507.01" y="771.91" width="17.27" height="17.27" fill="#8f4682"/>
<rect x="523.98" y="771.91" width="17.27" height="17.27" fill="#924884"/>
<rect x="540.95" y="771.91" width="17.27" height="17.27" fill="#8f4884"/>
<rect x="557.91" y="771.91" width="17.27" height="17.27" fill="#8d4783"/>
<rect x="574.88" y="771.91" width="17.27" height="17.27" fill="#8a4582"/>
<rect x="591.84" y="771.91" width="17.27" height="17.27" fill="#884381"/>
<rect x="608.81" y="771.91" width="17.27" height="17.27" fill="#884280"/>
<rect x="625.78" y="771.91" width="17.27" height="17.27" fill="#894281"/>
<rect x="642.74" y="771.91" width="17.27" height="17.27" fill="#8b4382"/>
<rect x="659.71" y="771.91" width="17.27" height="17.27" fill="#8c4382"/>
<rect x="676.67" y="771.91" width="17.27" height="17.27" fill="#843e80"/>
<rect x="693.64" y="771.91" width="17.27" height="17.27" fill="#813d80"/>
<rect x="710.61" y="771.91" width="17.27" height="17.27" fill="#813f80"/>
<rect x="727.57" y="771.91" width="17.27" height="17.27" fill="#844180"/>
<rect x="744.54" y="771.91" width="17.27" height="17.27" fill="#844080"/>
<rect x="761.5" y="771.91" width="17.27" height="17.27" fill="#834080"/>
<rect x="778.47" y="771.91" width="17.27" height="17.27" fill="#824080"/>
<rect x="795.44" y="771.91" width="17.27" height="17.27" fill="#824180"/>
<rect x="812.4" y="771.91" width="17.27" height="17.27" fill="#834181"/>
<rect x="829.37" y="771.91" width="17.27" height="17.27" fill="#844181"/>
<rect x="846.33" y="771.91" width="17.27" height="17.27" fill="#854181"/>
<rect x="863.3" y="771.91" width="17.27" height="17.27" fill="#864180"/>
<rect x="880.27" y="771.91" width="17.27" height="17.27" fill="#874180"/>
<rect x="897.23" y="771.91" width="17.27" height="17.27" fill="#874381"/>
<rect x="914.2" y="771.91" width="17.27" height="17.27" fill="#884381"/>
<rect x="931.16" y="771.91" width="17.27" height="17.27" fill="#894582"/>
<rect x="948.13" y="771.91" width="17.27" height="17.27" fill="#8e4783"/>
<rect x="965.1" y="771.91" width="17.27" height="17.27" fill="#934b85"/>
<rect x="982.06" y="771.91" width="17.27" height="17.27" fill="#984e86"/>
<rect x="999.03" y="771.91" width="17.27" height="17.27" fill="#8a4986"/>
<rect x="15.0" y="788.87" width="17.27" height="17.27" fill="#a45b92"/>
<rect x="31.97" y="788.87" width="17.27" height="17.27" fill="#98548e"/>
<rect x="48.93" y="788.87" width="34.23" height="17.27" fill="#552597"/>
<rect x="82.86" y="788.87" width="17.27" height="17.27" fill="#97528b"/>
<rect x="99.83" y="788.87" width="51.2" height="17.27" fill="#552597"/>
<rect x="150.73" y="788.87" width="17.27" height="17.27" fill="#a45790"/>
<rect x="167.69" y="788.87" width="17.27" height="17.27" fill="#b05f90"/>
<rect x="184.66" y="788.87" width="17.27" height="17.27" fill="#b05f91"/>
<rect x="201.63" y="788.87" width="17.27" height="17.27" fill="#ad5d90"/>
<rect x="218.59" y="788.87" width="17.27" height="17.27" fill="#aa5b8e"/>
<rect x="235.56" y="788.87" width="17.27" height="17.27" fill="#a7588d"/>
<rect x="252.52" y="788.87" width="17.27" height="17.27" fill="#a2558b"/>
<rect x="269.49" y="788.87" width="17.27" height="17.27" fill="#9c5188"/>
<rect x="286.46" y="788.87" width="17.27" height="17.27" fill="#9a4f87"/>
<rect x="303.42" y="788.87" width="17.27" height="17.27" fill="#9c5088"/>
<rect x="320.39" y="788.87" width="17.27" height="17.27" fill="#9e5188"/>
<rect x="337.35" y="788.87" width="17.27" height="17.27" fill="#9a4f87"/>
<rect x="354.32" y="788.87" width="17.27" height="17.27" fill="#944b84"/>
<rect x="371.29" y="788.87" width="17.27" height="17.27" fill="#8a4582"/>
<rect x="388.25" y="788.87" width="17.27" height="17.27" fill="#813f82"/>
<rect x="405.22" y="788.87" width="17.27" height="17.27" fill="#803f81"/>
<rect x="422.18" y="788.87" width="17.27" height="17.27" fill="#813f80"/>
<rect x="439.15" y="788.87" width="17.27" height="17.27" fill="#823f80"/>
<rect x="456.12" y="788.87" width="17.27" height="17.27" fill="#854180"/>
<rect x="473.08" y="788.87" width="17.27" height="17.27" fill="#864180"/>
<rect x="490.05" y="788.87" width="17.27" height="17.27" fill="#884180"/>
<rect x="507.01" y="788.87" width="17.27" height="17.27" fill="#8c4581"/>
<rect x="523.98" y="788.87" width="17.27" height="17.27" fill="#8f4782"/>
<rect x="540.95" y="788.87" width="17.27" height="17.27" fill="#8e4783"/>
<rect x="557.91" y="788.87" width="17.27" height="17.27" fill="#8c4682"/>
<rect x="574.88" y="788.87" width="17.27" height="17.27" fill="#8a4581"/>
<rect x="591.84" y="788.87" width="17.27" height="17.27" fill="#8a4480"/>
<rect x="608.81" y="788.87" width="17.27" height="17.27" fill="#894381"/>
<rect x="625.78" y="788.87" width="17.27" height="17.27" fill="#884181"/>
<rect x="642.74" y="788.87" width="17.27" height="17.27" fill="#894281"/>
<rect x="659.71" y="788.87" width="17.27" height="17.27" fill="#8c4382"/>
<rect x="676.67" y="788.87" width="17.27" height="17.27" fill="#833d80"/>
<rect x="693.64" y="788.87" width="17.27" height="17.27" fill="#813d80"/>
<rect x="710.61" y="788.87" width="17.27" height="17.27" fill="#813e80"/>
<rect x="727.57" y="788.87" width="17.27" height="17.27" fill="#884381"/>
<rect x="744.54" y="788.87" width="17.27" height="17.27" fill="#8d4682"/>
<rect x="761.5" y="788.87" width="17.27" height="17.27" fill="#8e4682"/>
<rect x="778.47" y="788.87" width="17.27" height="17.27" fill="#8b4582"/>
<rect x="795.44" y="788.87" width="17.27" height="17.27" fill="#844281"/>
<rect x="812.4" y="788.87" width="17.27" height="17.27" fill="#844181"/>
<rect x="829.37" y="788.87" width="17.27" height="17.27" fill="#854181"/>
<rect x="846.33" y="788.87" width="17.27" height="17.27" fill="#874280"/>
<rect x="863.3" y="788.87" width="17.27" height="17.27" fill="#894380"/>
<rect x="880.27" y="788.87" width="17.27" height="17.27" fill="#8a4481"/>
<rect x="897.23" y="788.87" width="17.27" height="17.27" fill="#8b4582"/>
<rect x="914.2" y="788.87" width="17.27" height="17.27" fill="#8c4682"/>
<rect x="931.16" y="788.87" width="17.27" height="17.27" fill="#8d4783"/>
<rect x="948.13" y="788.87" width="17.27" height="17.27" fill="#8e4884"/>
<rect x="965.1" y="788.87" width="17.27" height="17.27" fill="#904984"/>
<rect x="982.06" y="788.87" width="17.27" height="17.27" fill="#904a85"/>
<rect x="999.03" y="788.87" width="17.27" height="17.27" fill="#894785"/>
<rect x="15.0" y="805.84" width="17.27" height="17.27" fill="#a25b93"/>
<rect x="31.97" y="805.84" width="152.99" height="17.27" fill="#552597"/>
<rect x="184.66" y="805.84" width="17.27" height="17.27" fill="#a1568c"/>
<rect x="201.63" y="805.84" width="17.27" height="17.27" fill="#a4578d"/>
<rect x="218.59" y="805.84" width="17.27" height="17.27" fill="#a8598e"/>
<rect x="235.56" y="805.84" width="17.27" height="17.27" fill="#a5578c"/>
<rect x="252.52" y="805.84" width="17.27" height="17.27" fill="#984e86"/>
<rect x="269.49" y="805.84" width="17.27" height="17.27" fill="#954d86"/>
<rect x="286.46" y="805.84" width="17.27" height="17.27" fill="#944c85"/>
<rect x="303.42" y="805.84" width="17.27" height="17.27" fill="#944b85"/>
<rect x="320.39" y="805.84" width="17.27" height="17.27" fill="#9c5087"/>
<rect x="337.35" y="805.84" width="17.27" height="17.27" fill="#9c4f87"/>
<rect x="354.32" y="805.84" width="17.27" height="17.27" fill="#9b4e86"/>
<rect x="371.29" y="805.84" width="17.27" height="17.27" fill="#8f4783"/>
<rect x="388.25" y="805.84" width="17.27" height="17.27" fill="#844082"/>
<rect x="405.22" y="805.84" width="17.27" height="17.27" fill="#823f81"/>
<rect x="422.18" y="805.84" width="17.27" height="17.27" fill="#803f80"/>
<rect x="439.15" y="805.84" width="17.27" height="17.27" fill="#813f80"/>
<rect x="456.12" y="805.84" width="17.27" height="17.27" fill="#823f80"/>
<rect x="473.08" y="805.84" width="17.27" height="17.27" fill="#843f80"/>
<rect x="490.05" y="805.84" width="17.27" height="17.27" fill="#853f7f"/>
<rect x="507.01" y="805.84" width="17.27" height="17.27" fill="#8a4380"/>
<rect x="523.98" y="805.84" width="17.27" height="17.27" fill="#8d4581"/>
<rect x="540.95" y="805.84" width="17.27" height="17.27" fill="#8e4782"/>
<rect x="557.91" y="805.84" width="17.27" height="17.27" fill="#8d4782"/>
<rect x="574.88" y="805.84" width="17.27" height="17.27" fill="#8b4581"/>
<rect x="591.84" y="805.84" width="17.27" height="17.27" fill="#8a4380"/>
<rect x="608.81" y="805.84" width="17.27" height="17.27" fill="#894380"/>
<rect x="625.78" y="805.84" width="17.27" height="17.27" fill="#833f80"/>
<rect x="642.74" y="805.84" width="17.27" height="17.27" fill="#843f81"/>
<rect x="659.71" y="805.84" width="17.27" height="17.27" fill="#843f80"/>
<rect x="676.67" y="805.84" width="17.27" height="17.27" fill="#843e80"/>
<rect x="693.64" y="805.84" width="17.27" height="17.27" fill="#833d80"/>
<rect x="710.61" y="805.84" width="17.27" height="17.27" fill="#8e4783"/>
<rect x="727.57" y="805.84" width="17.27" height="17.27" fill="#924a84"/>
<rect x="744.54" y="805.84" width="17.27" height="17.27" fill="#944b85"/>
<rect x="761.5" y="805.84" width="17.27" height="17.27" fill="#954a85"/>
<rect x="778.47" y="805.84" width="17.27" height="17.27" fill="#924984"/>
<rect x="795.44" y="805.84" width="17.27" height="17.27" fill="#904984"/>
<rect x="812.4" y="805.84" width="17.27" height="17.27" fill="#8e4884"/>
<rect x="829.37" y="805.84" width="17.27" height="17.27" fill="#874180"/>
<rect x="846.33" y="805.84" width="17.27" height="17.27" fill="#884280"/>
<rect x="863.3" y="805.84" width="17.27" height="17.27" fill="#8a4481"/>
<rect x="880.27" y="805.84" width="17.27" height="17.27" fill="#8d4782"/>
<rect x="897.23" y="805.84" width="17.27" height="17.27" fill="#8e4883"/>
<rect x="914.2" y="805.84" width="34.23" height="17.27" fill="#8f4884"/>
<rect x="948.13" y="805.84" width="17.27" height="17.27" fill="#8e4884"/>
<rect x="965.1" y="805.84" width="17.27" height="17.27" fill="#8d4984"/>
<rect x="982.06" y="805.84" width="17.27" height="17.27" fill="#8c4984"/>
<rect x="999.03" y="805.84" width="17.27" height="17.27" fill="#8a4884"/>
<rect x="15.0" y="822.8" width="17.27" height="17.27" fill="#a05a91"/>
<rect x="31.97" y="822.8" width="17.27" height="17.27" fill="#93518d"/>
<rect x="48.93" y="822.8" width="152.99" height="17.27" fill="#552597"/>
<rect x="201.63" y="822.8" width="17.27" height="17.27" fill="#975088"/>
<rect x="218.59" y="822.8" width="17.27" height="17.27" fill="#9f5389"/>
<rect x="235.56" y="822.8" width="17.27" height="17.27" fill="#9b4f87"/>
<rect x="252.52" y="822.8" width="17.27" height="17.27" fill="#8e4883"/>
<rect x="269.49" y="822.8" width="17.27" height="17.27" fill="#8c4682"/>
<rect x="286.46" y="822.8" width="17.27" height="17.27" fill="#8b4582"/>
<rect x="303.42" y="822.8" width="17.27" height="17.27" fill="#8f4883"/>
<rect x="320.39" y="822.8" width="34.23" height="17.27" fill="#984d86"/>
<rect x="354.32" y="822.8" width="17.27" height="17.27" fill="#994c86"/>
<rect x="371.29" y="822.8" width="17.27" height="17.27" fill="#8f4783"/>
<rect x="388.25" y="822.8" width="17.27" height="17.27" fill="#854181"/>
<rect x="405.22" y="822.8" width="17.27" height="17.27" fill="#834081"/>
<rect x="422.18" y="822.8" width="17.27" height="17.27" fill="#803f80"/>
<rect x="439.15" y="822.8" width="17.27" height="17.27" fill="#813f80"/>
<rect x="456.12" y="822.8" width="17.27" height="17.27" fill="#834080"/>
<rect x="473.08" y="822.8" width="17.27" height="17.27" fill="#844080"/>
<rect x="490.05" y="822.8" width="17.27" height="17.27" fill="#894381"/>
<rect x="507.01" y="822.8" width="17.27" height="17.27" fill="#8b4582"/>
<rect x="523.98" y="822.8" width="17.27" height="17.27" fill="#8d4682"/>
<rect x="540.95" y="822.8" width="17.27" height="17.27" fill="#8e4782"/>
<rect x="557.91" y="822.8" width="17.27" height="17.27" fill="#8d4781"/>
<rect x="574.88" y="822.8" width="17.27" height="17.27" fill="#8c4581"/>
<rect x="591.84" y="822.8" width="17.27" height="17.27" fill="#894380"/>
<rect x="608.81" y="822.8" width="17.27" height="17.27" fill="#864080"/>
<rect x="625.78" y="822.8" width="34.23" height="17.27" fill="#833f80"/>
<rect x="659.71" y="822.8" width="17.27" height="17.27" fill="#844080"/>
<rect x="676.67" y="822.8" width="17.27" height="17.27" fill="#874280"/>
<rect x="693.64" y="822.8" width="17.27" height="17.27" fill="#8c4682"/>
<rect x="710.61" y="822.8" width="17.27" height="17.27" fill="#914984"/>
<rect x="727.57" y="822.8" width="17.27" height="17.27" fill="#944c85"/>
<rect x="744.54" y="822.8" width="17.27" height="17.27" fill="#954c86"/>
<rect x="761.5" y="822.8" width="17.27" height="17.27" fill="#954b86"/>
<rect x="778.47" y="822.8" width="17.27" height="17.27" fill="#944c85"/>
<rect x="795.44" y="822.8" width="17.27" height="17.27" fill="#934c85"/>
<rect x="812.4" y="822.8" width="17.27" height="17.27" fill="#914b84"/>
<rect x="829.37" y="822.8" width="17.27" height="17.27" fill="#884381"/>
<rect x="846.33" y="822.8" width="17.27" height="17.27" fill="#884380"/>
<rect x="863.3" y="822.8" width="17.27" height="17.27" fill="#894481"/>
<rect x="880.27" y="822.8" width="17.27" height="17.27" fill="#8d4782"/>
<rect x="897.23" y="822.8" width="17.27" height="17.27" fill="#904984"/>
<rect x="914.2" y="822.8" width="17.27" height="17.27" fill="#904985"/>
<rect x="931.16" y="822.8" width="17.27" height="17.27" fill="#904884"/>
<rect x="948.13" y="822.8" width="17.27" height="17.27" fill="#8c4885"/>
<rect x="965.1" y="822.8" width="17.27" height="17.27" fill="#8a4784"/>
<rect x="982.06" y="822.8" width="17.27" height="17.27" fill="#8b4884"/>
<rect x="999.03" y="822.8" width="17.27" height="17.27" fill="#8c4984"/>
<rect x="15.0" y="839.77" width="17.27" height="17.27" fill="#8f4e89"/>
<rect x="31.97" y="839.77" width="169.96" height="17.27" fill="#552597"/>
<rect x="201.63" y="839.77" width="17.27" height="17.27" fill="#8b4887"/>
<rect x="218.59" y="839.77" width="17.27" height="17.27" fill="#964d87"/>
<rect x="235.56" y="839.77" width="17.27" height="17.27" fill="#934b86"/>
<rect x="252.52" y="839.77" width="17.27" height="17.27" fill="#8c4582"/>
<rect x="269.49" y="839.77" width="17.27" height="17.27" fill="#8a4481"/>
<rect x="286.46" y="839.77" width="17.27" height="17.27" fill="#894381"/>
<rect x="303.42" y="839.77" width="17.27" height="17.27" fill="#8b4581"/>
<rect x="320.39" y="839.77" width="17.27" height="17.27" fill="#944c85"/>
<rect x="337.35" y="839.77" width="17.27" height="17.27" fill="#964b85"/>
<rect x="354.32" y="839.77" width="17.27" height="17.27" fill="#944984"/>
<rect x="371.29" y="839.77" width="17.27" height="17.27" fill="#8f4682"/>
<rect x="388.25" y="839.77" width="17.27" height="17.27" fill="#894381"/>
<rect x="405.22" y="839.77" width="17.27" height="17.27" fill="#854181"/>
<rect x="422.18" y="839.77" width="17.27" height="17.27" fill="#823f81"/>
<rect x="439.15" y="839.77" width="17.27" height="17.27" fill="#834080"/>
<rect x="456.12" y="839.77" width="17.27" height="17.27" fill="#854181"/>
<rect x="473.08" y="839.77" width="17.27" height="17.27" fill="#874381"/>
<rect x="490.05" y="839.77" width="17.27" height="17.27" fill="#8b4582"/>
<rect x="507.01" y="839.77" width="17.27" height="17.27" fill="#8c4683"/>
<rect x="523.98" y="839.77" width="17.27" height="17.27" fill="#8e4784"/>
<rect x="540.95" y="839.77" width="17.27" height="17.27" fill="#8e4783"/>
<rect x="557.91" y="839.77" width="17.27" height="17.27" fill="#8d4781"/>
<rect x="574.88" y="839.77" width="17.27" height="17.27" fill="#8c4580"/>
<rect x="591.84" y="839.77" width="17.27" height="17.27" fill="#894280"/>
<rect x="608.81" y="839.77" width="17.27" height="17.27" fill="#863f80"/>
<rect x="625.78" y="839.77" width="17.27" height="17.27" fill="#843f80"/>
<rect x="642.74" y="839.77" width="17.27" height="17.27" fill="#854180"/>
<rect x="659.71" y="839.77" width="17.27" height="17.27" fill="#884380"/>
<rect x="676.67" y="839.77" width="17.27" height="17.27" fill="#8c4782"/>
<rect x="693.64" y="839.77" width="17.27" height="17.27" fill="#914b84"/>
<rect x="710.61" y="839.77" width="17.27" height="17.27" fill="#934c85"/>
<rect x="727.57" y="839.77" width="17.27" height="17.27" fill="#944d86"/>
<rect x="744.54" y="839.77" width="17.27" height="17.27" fill="#944c86"/>
<rect x="761.5" y="839.77" width="17.27" height="17.27" fill="#944b86"/>
<rect x="778.47" y="839.77" width="17.27" height="17.27" fill="#954d86"/>
<rect x="795.44" y="839.77" width="17.27" height="17.27" fill="#974f86"/>
<rect x="812.4" y="839.77" width="17.27" height="17.27" fill="#914b85"/>
<rect x="829.37" y="839.77" width="17.27" height="17.27" fill="#884381"/>
<rect x="846.33" y="839.77" width="17.27" height="17.27" fill="#884481"/>
<rect x="863.3" y="839.77" width="17.27" height="17.27" fill="#894582"/>
<rect x="880.27" y="839.77" width="17.27" height="17.27" fill="#8c4783"/>
<rect x="897.23" y="839.77" width="17.27" height="17.27" fill="#904984"/>
<rect x="914.2" y="839.77" width="17.27" height="17.27" fill="#904985"/>
<rect x="931.16" y="839.77" width="17.27" height="17.27" fill="#8f4985"/>
<rect x="948.13" y="839.77" width="17.27" height="17.27" fill="#8a4785"/>
<rect x="965.1" y="839.77" width="17.27" height="17.27" fill="#894785"/>
<rect x="982.06" y="839.77" width="17.27" height="17.27" fill="#8a4885"/>
<rect x="999.03" y="839.77" width="17.27" height="17.27" fill="#8c4984"/>
<rect x="15.0" y="948.4" width="1017.96" height="373.21" fill="#bb6797"/>
<rect x="15.0" y="948.4" width="34.23" height="17.26" fill="#6a1597"/>
<rect x="48.93" y="948.4" width="17.27" height="17.26" fill="#6c1897"/>
<rect x="65.9" y="948.4" width="17.27" height="17.26" fill="#741f97"/>
<rect x="82.86" y="948.4" width="17.27" height="17.26" fill="#792497"/>
<rect x="99.83" y="948.4" width="17.27" height="17.26" fill="#741f97"/>
<rect x="116.8" y="948.4" width="17.27" height="17.26" fill="#6c1897"/>
<rect x="133.76" y="948.4" width="17.27" height="17.26" fill="#671297"/>
<rect x="150.73" y="948.4" width="17.27" height="17.26" fill="#620d97"/>
<rect x="167.69" y="948.4" width="17.27" height="17.26" fill="#600c97"/>
<rect x="184.66" y="948.4" width="17.27" height="17.26" fill="#620d97"/>
<rect x="201.63" y="948.4" width="17.27" height="17.26" fill="#651197"/>
<rect x="218.59" y="948.4" width="17.27" height="17.26" fill="#6c1897"/>
<rect x="235.56" y="948.4" width="17.27" height="17.26" fill="#721e97"/>
<rect x="252.52" y="948.4" width="34.23" height="17.26" fill="#741f97"/>
<rect x="286.46" y="948.4" width="17.27" height="17.26" fill="#731e97"/>
<rect x="303.42" y="948.4" width="17.27" height="17.26" fill="#711d97"/>
<rect x="320.39" y="948.4" width="68.16" height="17.26" fill="#701c97"/>
<rect x="388.25" y="948.4" width="17.27" height="17.26" fill="#6f1a97"/>
<rect x="405.22" y="948.4" width="17.27" height="17.26" fill="#6b1797"/>
<rect x="422.18" y="948.4" width="17.27" height="17.26" fill="#6a1597"/>
<rect x="439.15" y="948.4" width="17.27" height="17.26" fill="#6c1897"/>
<rect x="456.12" y="948.4" width="34.23" height="17.26" fill="#711d97"/>
<rect x="490.05" y="948.4" width="17.27" height="17.26" fill="#6c1897"/>
<rect x="507.01" y="948.4" width="17.27" height="17.26" fill="#671297"/>
<rect x="523.98" y="948.4" width="17.27" height="17.26" fill="#620d97"/>
<rect x="540.95" y="948.4" width="34.23" height="17.26" fill="#5f0b97"/>
<rect x="574.88" y="948.4" width="17.27" height="17.26" fill="#5d0897"/>
<rect x="591.84" y="948.4" width="17.27" height="17.26" fill="#580397"/>
<rect x="608.81" y="948.4" width="51.2" height="17.26" fill="#550197"/>
<rect x="659.71" y="948.4" width="17.27" height="17.26" fill="#580397"/>
<rect x="676.67" y="948.4" width="17.27" height="17.26" fill="#5d0897"/>
<rect x="693.64" y="948.4" width="34.23" height="17.26" fill="#5f0b97"/>
<rect x="727.57" y="948.4" width="17.27" height="17.26" fill="#610c97"/>
<rect x="744.54" y="948.4" width="17.27" height="17.26" fill="#641097"/>
<rect x="761.5" y="948.4" width="34.23" height="17.26" fill="#661297"/>
<rect x="795.44" y="948.4" width="17.27" height="17.26" fill="#691497"/>
<rect x="812.4" y="948.4" width="17.27" height="17.26" fill="#6f1a97"/>
<rect x="829.37" y="948.4" width="17.27" height="17.26" fill="#731e97"/>
<rect x="846.33" y="948.4" width="17.27" height="17.26" fill="#a14d97"/>
<rect x="863.3" y="948.4" width="17.27" height="17.26" fill="#b35e97"/>
<rect x="880.27" y="948.4" width="17.27" height="17.26" fill="#bb6090"/>
<rect x="897.23" y="948.4" width="17.27" height="17.26" fill="#bb5a8a"/>
<rect x="914.2" y="948.4" width="17.27" height="17.26" fill="#bb6192"/>
<rect x="931.16" y="948.4" width="17.27" height="17.26" fill="#ba6697"/>
<rect x="948.13" y="948.4" width="17.27" height="17.26" fill="#b15c97"/>
<rect x="965.1" y="948.4" width="17.27" height="17.26" fill="#aa5697"/>
<rect x="982.06" y="948.4" width="17.27" height="17.26" fill="#bb4a7b"/>
<rect x="999.03" y="948.4" width="17.27" height="17.26" fill="#bb4374"/>
<rect x="15.0" y="965.36" width="34.23" height="17.26" fill="#6a1597"/>
<rect x="48.93" y="965.36" width="17.27" height="17.26" fill="#6c1897"/>
<rect x="65.9" y="965.36" width="17.27" height="17.26" fill="#741f97"/>
<rect x="82.86" y="965.36" width="17.27" height="17.26" fill="#792497"/>
<rect x="99.83" y="965.36" width="17.27" height="17.26" fill="#741f97"/>
<rect x="116.8" y="965.36" width="17.27" height="17.26" fill="#6c1897"/>
<rect x="133.76" y="965.36" width="17.27" height="17.26" fill="#671297"/>
<rect x="150.73" y="965.36" width="17.27" height="17.26" fill="#620d97"/>
<rect x="167.69" y="965.36" width="17.27" height="17.26" fill="#610d97"/>
<rect x="184.66" y="965.36" width="17.27" height="17.26" fill="#661197"/>
<rect x="201.63" y="965.36" width="17.27" height="17.26" fill="#6b1697"/>
<rect x="218.59" y="965.36" width="17.27" height="17.26" fill="#701b97"/>
<rect x="235.56" y="965.36" width="17.27" height="17.26" fill="#731f97"/>
<rect x="252.52" y="965.36" width="17.27" height="17.26" fill="#741f97"/>
<rect x="269.49" y="965.36" width="17.27" height="17.26" fill="#731f97"/>
<rect x="286.46" y="965.36" width="17.27" height="17.26" fill="#711c97"/>
<rect x="303.42" y="965.36" width="17.27" height="17.26" fill="#6d1897"/>
<rect x="320.39" y="965.36" width="17.27" height="17.26" fill="#6a1697"/>
<rect x="337.35" y="965.36" width="17.27" height="17.26" fill="#6a1597"/>
<rect x="354.32" y="965.36" width="17.27" height="17.26" fill="#6a1697"/>
<rect x="371.29" y="965.36" width="34.23" height="17.26" fill="#6c1797"/>
<rect x="405.22" y="965.36" width="17.27" height="17.26" fill="#6a1697"/>
<rect x="422.18" y="965.36" width="17.27" height="17.26" fill="#6a1597"/>
<rect x="439.15" y="965.36" width="17.27" height="17.26" fill="#6c1797"/>
<rect x="456.12" y="965.36" width="34.23" height="17.26" fill="#6f1b97"/>
<rect x="490.05" y="965.36" width="17.27" height="17.26" fill="#6c1797"/>
<rect x="507.01" y="965.36" width="17.27" height="17.26" fill="#681397"/>
<rect x="523.98" y="965.36" width="17.27" height="17.26" fill="#640f97"/>
<rect x="540.95" y="965.36" width="17.27" height="17.26" fill="#610d97"/>
<rect x="557.91" y="965.36" width="17.27" height="17.26" fill="#600b97"/>
<rect x="574.88" y="965.36" width="17.27" height="17.26" fill="#5d0897"/>
<rect x="591.84" y="965.36" width="17.27" height="17.26" fill="#580497"/>
<rect x="608.81" y="965.36" width="17.27" height="17.26" fill="#570397"/>
<rect x="625.78" y="965.36" width="34.23" height="17.26" fill="#580397"/>
<rect x="659.71" y="965.36" width="17.27" height="17.26" fill="#5a0597"/>
<rect x="676.67" y="965.36" width="17.27" height="17.26" fill="#5d0997"/>
<rect x="693.64" y="965.36" width="17.27" height="17.26" fill="#5f0b97"/>
<rect x="710.61" y="965.36" width="17.27" height="17.26" fill="#5f0a97"/>
<rect x="727.57" y="965.36" width="17.27" height="17.26" fill="#5e0a97"/>
<rect x="744.54" y="965.36" width="17.27" height="17.26" fill="#5f0a97"/>
<rect x="761.5" y="965.36" width="17.27" height="17.26" fill="#600b97"/>
<rect x="778.47" y="965.36" width="17.27" height="17.26" fill="#610c97"/>
<rect x="795.44" y="965.36" width="17.27" height="17.26" fill="#630e97"/>
<rect x="812.4" y="965.36" width="17.27" height="17.26" fill="#6a1597"/>
<rect x="829.37" y="965.36" width="17.27" height="17.26" fill="#701c97"/>
<rect x="846.33" y="965.36" width="17.27" height="17.26" fill="#954097"/>
<rect x="863.3" y="965.36" width="17.27" height="17.26" fill="#b46097"/>
<rect x="880.27" y="965.36" width="17.27" height="17.26" fill="#bb5e8e"/>
<rect x="897.23" y="965.36" width="17.27" height="17.26" fill="#bb4f80"/>
<rect x="914.2" y="965.36" width="17.27" height="17.26" fill="#bb5686"/>
<rect x="931.16" y="965.36" width="17.27" height="17.26" fill="#b96597"/>
<rect x="948.13" y="965.36" width="17.27" height="17.26" fill="#af5a97"/>
<rect x="965.1" y="965.36" width="17.27" height="17.26" fill="#a95597"/>
<rect x="982.06" y="965.36" width="17.27" height="17.26" fill="#bb5686"/>
<rect x="999.03" y="965.36" width="17.27" height="17.26" fill="#bb4a7b"/>
<rect x="15.0" y="982.32" width="17.27" height="17.26" fill="#6a1597"/>
<rect x="31.97" y="982.32" width="17.27" height="17.26" fill="#6a1697"/>
<rect x="48.93" y="982.32" width="17.27" height="17.26" fill="#6d1897"/>
<rect x="65.9" y="982.32" width="17.27" height="17.26" fill="#721d97"/>
<rect x="82.86" y="982.32" width="17.27" height="17.26" fill="#752097"/>
<rect x="99.83" y="982.32" width="17.27" height="17.26" fill="#711d97"/>
<rect x="116.8" y="982.32" width="17.27" height="17.26" fill="#6c1797"/>
<rect x="133.76" y="982.32" width="17.27" height="17.26" fill="#681397"/>
<rect x="150.73" y="982.32" width="17.27" height="17.26" fill="#640f97"/>
<rect x="167.69" y="982.32" width="17.27" height="17.26" fill="#641097"/>
<rect x="184.66" y="982.32" width="17.27" height="17.26" fill="#6b1697"/>
<rect x="201.63" y="982.32" width="17.27" height="17.26" fill="#711c97"/>
<rect x="218.59" y="982.32" width="17.27" height="17.26" fill="#731f97"/>
<rect x="235.56" y="982.32" width="34.23" height="17.26" fill="#741f97"/>
<rect x="269.49" y="982.32" width="17.27" height="17.26" fill="#731e97"/>
<rect x="286.46" y="982.32" width="17.27" height="17.26" fill="#6f1a97"/>
<rect x="303.42" y="982.32" width="17.27" height="17.26" fill="#6a1597"/>
<rect x="320.39" y="982.32" width="17.27" height="17.26" fill="#661197"/>
<rect x="337.35" y="982.32" width="17.27" height="17.26" fill="#641097"/>
<rect x="354.32" y="982.32" width="17.27" height="17.26" fill="#661197"/>
<rect x="371.29" y="982.32" width="17.27" height="17.26" fill="#681497"/>
<rect x="388.25" y="982.32" width="51.2" height="17.26" fill="#6a1597"/>
<rect x="439.15" y="982.32" width="17.27" height="17.26" fill="#6a1697"/>
<rect x="456.12" y="982.32" width="34.23" height="17.26" fill="#6c1797"/>
<rect x="490.05" y="982.32" width="17.27" height="17.26" fill="#6a1697"/>
<rect x="507.01" y="982.32" width="34.23" height="17.26" fill="#6a1597"/>
<rect x="540.95" y="982.32" width="17.27" height="17.26" fill="#681397"/>
<rect x="557.91" y="982.32" width="17.27" height="17.26" fill="#630f97"/>
<rect x="574.88" y="982.32" width="17.27" height="17.26" fill="#5e0a97"/>
<rect x="591.84" y="982.32" width="17.27" height="17.26" fill="#5b0697"/>
<rect x="608.81" y="982.32" width="17.27" height="17.26" fill="#5c0797"/>
<rect x="625.78" y="982.32" width="34.23" height="17.26" fill="#5d0897"/>
<rect x="659.71" y="982.32" width="17.27" height="17.26" fill="#5d0997"/>
<rect x="676.67" y="982.32" width="17.27" height="17.26" fill="#5f0a97"/>
<rect x="693.64" y="982.32" width="17.27" height="17.26" fill="#5f0b97"/>
<rect x="710.61" y="982.32" width="17.27" height="17.26" fill="#5e0a97"/>
<rect x="727.57" y="982.32" width="17.27" height="17.26" fill="#5c0797"/>
<rect x="744.54" y="982.32" width="17.27" height="17.26" fill="#5a0697"/>
<rect x="761.5" y="982.32" width="17.27" height="17.26" fill="#5c0797"/>
<rect x="778.47" y="982.32" width="17.27" height="17.26" fill="#5d0897"/>
<rect x="795.44" y="982.32" width="17.27" height="17.26" fill="#5d0997"/>
<rect x="812.4" y="982.32" width="17.27" height="17.26" fill="#630f97"/>
<rect x="829.37" y="982.32" width="17.27" height="17.26" fill="#6d1897"/>
<rect x="846.33" y="982.32" width="17.27" height="17.26" fill="#913d97"/>
<rect x="863.3" y="982.32" width="17.27" height="17.26" fill="#b15c97"/>
<rect x="880.27" y="982.32" width="17.27" height="17.26" fill="#bb5181"/>
<rect x="897.23" y="982.32" width="17.27" height="17.26" fill="#bb4879"/>
<rect x="914.2" y="982.32" width="17.27" height="17.26" fill="#bb4b7c"/>
<rect x="931.16" y="982.32" width="17.27" height="17.26" fill="#b56197"/>
<rect x="948.13" y="982.32" width="17.27" height="17.26" fill="#ae5a97"/>
<rect x="965.1" y="982.32" width="17.27" height="17.26" fill="#ac5797"/>
<rect x="982.06" y="982.32" width="17.27" height="17.26" fill="#ae5997"/>
<rect x="999.03" y="982.32" width="17.27" height="17.26" fill="#b45f97"/>
<rect x="15.0" y="999.28" width="17.27" height="17.26" fill="#6a1597"/>
<rect x="31.97" y="999.28" width="17.27" height="17.26" fill="#6c1797"/>
<rect x="48.93" y="999.28" width="17.27" height="17.26" fill="#6e1997"/>
<rect x="65.9" y="999.28" width="17.27" height="17.26" fill="#6d1997"/>
<rect x="82.86" y="999.28" width="17.27" height="17.26" fill="#6c1797"/>
<rect x="99.83" y="999.28" width="17.27" height="17.26" fill="#6a1697"/>
<rect x="116.8" y="999.28" width="17.27" height="17.26" fill="#6a1597"/>
<rect x="133.76" y="999.28" width="34.23" height="17.26" fill="#691497"/>
<rect x="167.69" y="999.28" width="17.27" height="17.26" fill="#6d1897"/>
<rect x="184.66" y="999.28" width="17.27" height="17.26" fill="#721d97"/>
<rect x="201.63" y="999.28" width="17.27" height="17.26" fill="#731f97"/>
<rect x="218.59" y="999.28" width="17.27" height="17.26" fill="#731e97"/>
<rect x="235.56" y="999.28" width="17.27" height="17.26" fill="#731f97"/>
<rect x="252.52" y="999.28" width="17.27" height="17.26" fill="#741f97"/>
<rect x="269.49" y="999.28" width="17.27" height="17.26" fill="#731f97"/>
<rect x="286.46" y="999.28" width="17.27" height="17.26" fill="#711c97"/>
<rect x="303.42" y="999.28" width="17.27" height="17.26" fill="#6c1897"/>
<rect x="320.39" y="999.28" width="17.27" height="17.26" fill="#681497"/>
<rect x="337.35" y="999.28" width="17.27" height="17.26" fill="#671297"/>
<rect x="354.32" y="999.28" width="17.27" height="17.26" fill="#681397"/>
<rect x="371.29" y="999.28" width="17.27" height="17.26" fill="#691497"/>
<rect x="388.25" y="999.28" width="85.13" height="17.26" fill="#6a1597"/>
<rect x="473.08" y="999.28" width="34.23" height="17.26" fill="#691497"/>
<rect x="507.01" y="999.28" width="17.27" height="17.26" fill="#6c1897"/>
<rect x="523.98" y="999.28" width="17.27" height="17.26" fill="#701b97"/>
<rect x="540.95" y="999.28" width="17.27" height="17.26" fill="#6f1b97"/>
<rect x="557.91" y="999.28" width="17.27" height="17.26" fill="#6a1597"/>
<rect x="574.88" y="999.28" width="17.27" height="17.26" fill="#630e97"/>
<rect x="591.84" y="999.28" width="17.27" height="17.26" fill="#5f0a97"/>
<rect x="608.81" y="999.28" width="17.27" height="17.26" fill="#5f0b97"/>
<rect x="625.78" y="999.28" width="17.27" height="17.26" fill="#610d97"/>
<rect x="642.74" y="999.28" width="34.23" height="17.26" fill="#620d97"/>
<rect x="676.67" y="999.28" width="17.27" height="17.26" fill="#610d97"/>
<rect x="693.64" y="999.28" width="17.27" height="17.26" fill="#600b97"/>
<rect x="710.61" y="999.28" width="17.27" height="17.26" fill="#5f0a97"/>
<rect x="727.57" y="999.28" width="17.27" height="17.26" fill="#5d0997"/>
<rect x="744.54" y="999.28" width="17.27" height="17.26" fill="#5d0897"/>
<rect x="761.5" y="999.28" width="17.27" height="17.26" fill="#5d0997"/>
<rect x="778.47" y="999.28" width="34.23" height="17.26" fill="#5e0a97"/>
<rect x="812.4" y="999.28" width="17.27" height="17.26" fill="#600b97"/>
<rect x="829.37" y="999.28" width="17.27" height="17.26" fill="#641097"/>
<rect x="846.33" y="999.28" width="17.27" height="17.26" fill="#873397"/>
<rect x="863.3" y="999.28" width="17.27" height="17.26" fill="#9e4997"/>
<rect x="880.27" y="999.28" width="17.27" height="17.26" fill="#bb5c8d"/>
<rect x="897.23" y="999.28" width="17.27" height="17.26" fill="#bb4f80"/>
<rect x="914.2" y="999.28" width="17.27" height="17.26" fill="#bb5282"/>
<rect x="931.16" y="999.28" width="17.27" height="17.26" fill="#bb5c8d"/>
<rect x="948.13" y="999.28" width="17.27" height="17.26" fill="#b96497"/>
<rect x="965.1" y="999.28" width="17.27" height="17.26" fill="#b45f97"/>
<rect x="982.06" y="999.28" width="17.27" height="17.26" fill="#b76397"/>
<rect x="999.03" y="999.28" width="17.27" height="17.26" fill="#bb6696"/>
<rect x="15.0" y="1016.24" width="17.27" height="17.26" fill="#681397"/>
<rect x="31.97" y="1016.24" width="17.27" height="17.26" fill="#6b1697"/>
<rect x="48.93" y="1016.24" width="17.27" height="17.26" fill="#6d1997"/>
<rect x="65.9" y="1016.24" width="17.27" height="17.26" fill="#6a1697"/>
<rect x="82.86" y="1016.24" width="17.27" height="17.26" fill="#661297"/>
<rect x="99.83" y="1016.24" width="17.27" height="17.26" fill="#671297"/>
<rect x="116.8" y="1016.24" width="17.27" height="17.26" fill="#6d1897"/>
<rect x="133.76" y="1016.24" width="17.27" height="17.26" fill="#6e1997"/>
<rect x="150.73" y="1016.24" width="17.27" height="17.26" fill="#6e1a97"/>
<rect x="167.69" y="1016.24" width="17.27" height="17.26" fill="#7a2597"/>
<rect x="184.66" y="1016.24" width="17.27" height="17.26" fill="#7b2797"/>
<rect x="201.63" y="1016.24" width="17.27" height="17.26" fill="#762297"/>
<rect x="218.59" y="1016.24" width="17.27" height="17.26" fill="#721d97"/>
<rect x="235.56" y="1016.24" width="17.27" height="17.26" fill="#731e97"/>
<rect x="252.52" y="1016.24" width="34.23" height="17.26" fill="#741f97"/>
<rect x="286.46" y="1016.24" width="17.27" height="17.26" fill="#731f97"/>
<rect x="303.42" y="1016.24" width="17.27" height="17.26" fill="#711c97"/>
<rect x="320.39" y="1016.24" width="17.27" height="17.26" fill="#6d1897"/>
<rect x="337.35" y="1016.24" width="17.27" height="17.26" fill="#6a1697"/>
<rect x="354.32" y="1016.24" width="85.13" height="17.26" fill="#6a1597"/>
<rect x="439.15" y="1016.24" width="17.27" height="17.26" fill="#6a1697"/>
<rect x="456.12" y="1016.24" width="17.27" height="17.26" fill="#6c1797"/>
<rect x="473.08" y="1016.24" width="17.27" height="17.26" fill="#6b1697"/>
<rect x="490.05" y="1016.24" width="17.27" height="17.26" fill="#6a1697"/>
<rect x="507.01" y="1016.24" width="17.27" height="17.26" fill="#711d97"/>
<rect x="523.98" y="1016.24" width="17.27" height="17.26" fill="#752097"/>
<rect x="540.95" y="1016.24" width="17.27" height="17.26" fill="#741f97"/>
<rect x="557.91" y="1016.24" width="17.27" height="17.26" fill="#6f1b97"/>
<rect x="574.88" y="1016.24" width="17.27" height="17.26" fill="#681397"/>
<rect x="591.84" y="1016.24" width="34.23" height="17.26" fill="#610d97"/>
<rect x="625.78" y="1016.24" width="17.27" height="17.26" fill="#651197"/>
<rect x="642.74" y="1016.24" width="34.23" height="17.26" fill="#671297"/>
<rect x="676.67" y="1016.24" width="17.27" height="17.26" fill="#661197"/>
<rect x="693.64" y="1016.24" width="17.27" height="17.26" fill="#630e97"/>
<rect x="710.61" y="1016.24" width="17.27" height="17.26" fill="#600b97"/>
<rect x="727.57" y="1016.24" width="85.13" height="17.26" fill="#5f0b97"/>
<rect x="812.4" y="1016.24" width="17.27" height="17.26" fill="#5f0a97"/>
<rect x="829.37" y="1016.24" width="17.27" height="17.26" fill="#620e97"/>
<rect x="846.33" y="1016.24" width="17.27" height="17.26" fill="#752097"/>
<rect x="863.3" y="1016.24" width="17.27" height="17.26" fill="#7c2797"/>
<rect x="880.27" y="1016.24" width="17.27" height="17.26" fill="#b86497"/>
<rect x="897.23" y="1016.24" width="17.27" height="17.26" fill="#bb5b8c"/>
<rect x="914.2" y="1016.24" width="34.23" height="17.26" fill="#bb5788"/>
<rect x="948.13" y="1016.24" width="17.27" height="17.26" fill="#bb6091"/>
<rect x="965.1" y="1016.24" width="17.27" height="17.26" fill="#ba6597"/>
<rect x="982.06" y="1016.24" width="17.27" height="17.26" fill="#bb5e8e"/>
<rect x="999.03" y="1016.24" width="17.27" height="17.26" fill="#bb5585"/>
<rect x="15.0" y="1033.2" width="17.27" height="17.26" fill="#641097"/>
<rect x="31.97" y="1033.2" width="17.27" height="17.26" fill="#681497"/>
<rect x="48.93" y="1033.2" width="17.27" height="17.26" fill="#6b1697"/>
<rect x="65.9" y="1033.2" width="17.27" height="17.26" fill="#6a1597"/>
<rect x="82.86" y="1033.2" width="17.27" height="17.26" fill="#6a1697"/>
<rect x="99.83" y="1033.2" width="17.27" height="17.26" fill="#711d97"/>
<rect x="116.8" y="1033.2" width="17.27" height="17.26" fill="#7b2797"/>
<rect x="133.76" y="1033.2" width="17.27" height="17.26" fill="#7d2997"/>
<rect x="150.73" y="1033.2" width="17.27" height="17.26" fill="#8b3697"/>
<rect x="167.69" y="1033.2" width="17.27" height="17.26" fill="#893497"/>
<rect x="184.66" y="1033.2" width="17.27" height="17.26" fill="#842f97"/>
<rect x="201.63" y="1033.2" width="17.27" height="17.26" fill="#7b2797"/>
<rect x="218.59" y="1033.2" width="17.27" height="17.26" fill="#742097"/>
<rect x="235.56" y="1033.2" width="34.23" height="17.26" fill="#731f97"/>
<rect x="269.49" y="1033.2" width="34.23" height="17.26" fill="#721d97"/>
<rect x="303.42" y="1033.2" width="17.27" height="17.26" fill="#731f97"/>
<rect x="320.39" y="1033.2" width="17.27" height="17.26" fill="#721d97"/>
<rect x="337.35" y="1033.2" width="17.27" height="17.26" fill="#6d1997"/>
<rect x="354.32" y="1033.2" width="17.27" height="17.26" fill="#6a1697"/>
<rect x="371.29" y="1033.2" width="68.16" height="17.26" fill="#6a1597"/>
<rect x="439.15" y="1033.2" width="17.27" height="17.26" fill="#6c1797"/>
<rect x="456.12" y="1033.2" width="17.27" height="17.26" fill="#6f1b97"/>
<rect x="473.08" y="1033.2" width="17.27" height="17.26" fill="#711c97"/>
<rect x="490.05" y="1033.2" width="17.27" height="17.26" fill="#731e97"/>
<rect x="507.01" y="1033.2" width="34.23" height="17.26" fill="#7a2597"/>
<rect x="540.95" y="1033.2" width="17.27" height="17.26" fill="#752097"/>
<rect x="557.91" y="1033.2" width="17.27" height="17.26" fill="#701b97"/>
<rect x="574.88" y="1033.2" width="17.27" height="17.26" fill="#691497"/>
<rect x="591.84" y="1033.2" width="34.23" height="17.26" fill="#620d97"/>
<rect x="625.78" y="1033.2" width="17.27" height="17.26" fill="#671297"/>
<rect x="642.74" y="1033.2" width="34.23" height="17.26" fill="#6a1597"/>
<rect x="676.67" y="1033.2" width="17.27" height="17.26" fill="#691497"/>
<rect x="693.64" y="1033.2" width="17.27" height="17.26" fill="#661297"/>
<rect x="710.61" y="1033.2" width="17.27" height="17.26" fill="#630e97"/>
<rect x="727.57" y="1033.2" width="17.27" height="17.26" fill="#600b97"/>
<rect x="744.54" y="1033.2" width="68.16" height="17.26" fill="#5f0b97"/>
<rect x="812.4" y="1033.2" width="17.27" height="17.26" fill="#5d0997"/>
<rect x="829.37" y="1033.2" width="17.27" height="17.26" fill="#5b0797"/>
<rect x="846.33" y="1033.2" width="17.27" height="17.26" fill="#731e97"/>
<rect x="863.3" y="1033.2" width="17.27" height="17.26" fill="#782397"/>
<rect x="880.27" y="1033.2" width="17.27" height="17.26" fill="#bb6293"/>
<rect x="897.23" y="1033.2" width="17.27" height="17.26" fill="#bb5686"/>
<rect x="914.2" y="1033.2" width="17.27" height="17.26" fill="#bb3f70"/>
<rect x="931.16" y="1033.2" width="17.27" height="17.26" fill="#bb3363"/>
<rect x="948.13" y="1033.2" width="17.27" height="17.26" fill="#bb3061"/>
<rect x="965.1" y="1033.2" width="17.27" height="17.26" fill="#bb4e7f"/>
<rect x="982.06" y="1033.2" width="17.27" height="17.26" fill="#bb4777"/>
<rect x="999.03" y="1033.2" width="17.27" height="17.26" fill="#bb4171"/>
<rect x="15.0" y="1050.16" width="17.27" height="17.26" fill="#630e97"/>
<rect x="31.97" y="1050.16" width="17.27" height="17.26" fill="#6d1897"/>
<rect x="48.93" y="1050.16" width="17.27" height="17.26" fill="#6e1997"/>
<rect x="65.9" y="1050.16" width="17.27" height="17.26" fill="#6b1797"/>
<rect x="82.86" y="1050.16" width="17.27" height="17.26" fill="#6e1997"/>
<rect x="99.83" y="1050.16" width="17.27" height="17.26" fill="#7a2597"/>
<rect x="116.8" y="1050.16" width="17.27" height="17.26" fill="#863197"/>
<rect x="133.76" y="1050.16" width="17.27" height="17.26" fill="#8c3897"/>
<rect x="150.73" y="1050.16" width="17.27" height="17.26" fill="#933f97"/>
<rect x="167.69" y="1050.16" width="17.27" height="17.26" fill="#8f3a97"/>
<rect x="184.66" y="1050.16" width="17.27" height="17.26" fill="#873397"/>
<rect x="201.63" y="1050.16" width="17.27" height="17.26" fill="#7e2997"/>
<rect x="218.59" y="1050.16" width="17.27" height="17.26" fill="#762297"/>
<rect x="235.56" y="1050.16" width="17.27" height="17.26" fill="#741f97"/>
<rect x="252.52" y="1050.16" width="17.27" height="17.26" fill="#721e97"/>
<rect x="269.49" y="1050.16" width="34.23" height="17.26" fill="#6f1a97"/>
<rect x="303.42" y="1050.16" width="34.23" height="17.26" fill="#772297"/>
<rect x="337.35" y="1050.16" width="17.27" height="17.26" fill="#721d97"/>
<rect x="354.32" y="1050.16" width="17.27" height="17.26" fill="#6d1997"/>
<rect x="371.29" y="1050.16" width="34.23" height="17.26" fill="#6c1897"/>
<rect x="405.22" y="1050.16" width="17.27" height="17.26" fill="#6c1797"/>
<rect x="422.18" y="1050.16" width="17.27" height="17.26" fill="#6a1697"/>
<rect x="439.15" y="1050.16" width="17.27" height="17.26" fill="#6c1797"/>
<rect x="456.12" y="1050.16" width="17.27" height="17.26" fill="#711c97"/>
<rect x="473.08" y="1050.16" width="17.27" height="17.26" fill="#762197"/>
<rect x="490.05" y="1050.16" width="17.27" height="17.26" fill="#792597"/>
<rect x="507.01" y="1050.16" width="17.27" height="17.26" fill="#7f2b97"/>
<rect x="523.98" y="1050.16" width="17.27" height="17.26" fill="#7d2997"/>
<rect x="540.95" y="1050.16" width="17.27" height="17.26" fill="#752097"/>
<rect x="557.91" y="1050.16" width="17.27" height="17.26" fill="#6e1997"/>
<rect x="574.88" y="1050.16" width="17.27" height="17.26" fill="#681397"/>
<rect x="591.84" y="1050.16" width="17.27" height="17.26" fill="#620d97"/>
<rect x="608.81" y="1050.16" width="17.27" height="17.26" fill="#630f97"/>
<rect x="625.78" y="1050.16" width="17.27" height="17.26" fill="#691497"/>
<rect x="642.74" y="1050.16" width="17.27" height="17.26" fill="#6a1697"/>
<rect x="659.71" y="1050.16" width="34.23" height="17.26" fill="#6a1597"/>
<rect x="693.64" y="1050.16" width="17.27" height="17.26" fill="#691497"/>
<rect x="710.61" y="1050.16" width="17.27" height="17.26" fill="#661297"/>
<rect x="727.57" y="1050.16" width="17.27" height="17.26" fill="#630e97"/>
<rect x="744.54" y="1050.16" width="17.27" height="17.26" fill="#600b97"/>
<rect x="761.5" y="1050.16" width="17.27" height="17.26" fill="#5f0b97"/>
<rect x="778.47" y="1050.16" width="17.27" height="17.26" fill="#600b97"/>
<rect x="795.44" y="1050.16" width="17.27" height="17.26" fill="#610d97"/>
<rect x="812.4" y="1050.16" width="17.27" height="17.26" fill="#5f0a97"/>
<rect x="829.37" y="1050.16" width="17.27" height="17.26" fill="#5d0897"/>
<rect x="846.33" y="1050.16" width="17.27" height="17.26" fill="#6a1597"/>
<rect x="863.3" y="1050.16" width="17.27" height="17.26" fill="#752097"/>
<rect x="880.27" y="1050.16" width="17.27" height="17.26" fill="#bb6192"/>
<rect x="897.23" y="1050.16" width="17.27" height="17.26" fill="#bb5586"/>
<rect x="914.2" y="1050.16" width="17.27" height="17.26" fill="#bb2959"/>
<rect x="931.16" y="1050.16" width="17.27" height="17.26" fill="#bb1d4d"/>
<rect x="948.13" y="1050.16" width="17.27" height="17.26" fill="#bb2253"/>
<rect x="965.1" y="1050.16" width="17.27" height="17.26" fill="#bb3b6b"/>
<rect x="982.06" y="1050.16" width="17.27" height="17.26" fill="#bb3666"/>
<rect x="999.03" y="1050.16" width="17.27" height="17.26" fill="#bb3465"/>
<rect x="15.0" y="1067.12" width="17.27" height="17.26" fill="#822d97"/>
<rect x="31.97" y="1067.12" width="17.27" height="17.26" fill="#7f2b97"/>
<rect x="48.93" y="1067.12" width="17.27" height="17.26" fill="#7e2997"/>
<rect x="65.9" y="1067.12" width="17.27" height="17.26" fill="#8c3897"/>
<rect x="82.86" y="1067.12" width="17.27" height="17.26" fill="#903b97"/>
<rect x="99.83" y="1067.12" width="17.27" height="17.26" fill="#9e4a97"/>
<rect x="116.8" y="1067.12" width="17.27" height="17.26" fill="#b15c97"/>
<rect x="133.76" y="1067.12" width="17.27" height="17.26" fill="#bb5c8d"/>
<rect x="150.73" y="1067.12" width="17.27" height="17.26" fill="#bb5788"/>
<rect x="167.69" y="1067.12" width="17.27" height="17.26" fill="#bb5c8d"/>
<rect x="184.66" y="1067.12" width="17.27" height="17.26" fill="#b96497"/>
<rect x="201.63" y="1067.12" width="17.27" height="17.26" fill="#ac5797"/>
<rect x="218.59" y="1067.12" width="68.16" height="17.26" fill="#a75297"/>
<rect x="286.46" y="1067.12" width="17.27" height="17.26" fill="#9a4697"/>
<rect x="303.42" y="1067.12" width="17.27" height="17.26" fill="#863197"/>
<rect x="320.39" y="1067.12" width="17.27" height="17.26" fill="#782397"/>
<rect x="337.35" y="1067.12" width="17.27" height="17.26" fill="#741f97"/>
<rect x="354.32" y="1067.12" width="17.27" height="17.26" fill="#721d97"/>
<rect x="371.29" y="1067.12" width="34.23" height="17.26" fill="#711d97"/>
<rect x="405.22" y="1067.12" width="17.27" height="17.26" fill="#701b97"/>
<rect x="422.18" y="1067.12" width="17.27" height="17.26" fill="#6d1997"/>
<rect x="439.15" y="1067.12" width="17.27" height="17.26" fill="#6d1897"/>
<rect x="456.12" y="1067.12" width="17.27" height="17.26" fill="#701c97"/>
<rect x="473.08" y="1067.12" width="17.27" height="17.26" fill="#7c2797"/>
<rect x="490.05" y="1067.12" width="17.27" height="17.26" fill="#853097"/>
<rect x="507.01" y="1067.12" width="17.27" height="17.26" fill="#913c97"/>
<rect x="523.98" y="1067.12" width="17.27" height="17.26" fill="#9b4797"/>
<rect x="540.95" y="1067.12" width="17.27" height="17.26" fill="#9d4897"/>
<rect x="557.91" y="1067.12" width="17.27" height="17.26" fill="#9a4597"/>
<rect x="574.88" y="1067.12" width="17.27" height="17.26" fill="#954097"/>
<rect x="591.84" y="1067.12" width="17.27" height="17.26" fill="#913d97"/>
<rect x="608.81" y="1067.12" width="17.27" height="17.26" fill="#893597"/>
<rect x="625.78" y="1067.12" width="17.27" height="17.26" fill="#731f97"/>
<rect x="642.74" y="1067.12" width="17.27" height="17.26" fill="#6d1997"/>
<rect x="659.71" y="1067.12" width="17.27" height="17.26" fill="#6a1697"/>
<rect x="676.67" y="1067.12" width="51.2" height="17.26" fill="#6a1597"/>
<rect x="727.57" y="1067.12" width="17.27" height="17.26" fill="#681397"/>
<rect x="744.54" y="1067.12" width="17.27" height="17.26" fill="#640f97"/>
<rect x="761.5" y="1067.12" width="17.27" height="17.26" fill="#620d97"/>
<rect x="778.47" y="1067.12" width="17.27" height="17.26" fill="#630f97"/>
<rect x="795.44" y="1067.12" width="17.27" height="17.26" fill="#661197"/>
<rect x="812.4" y="1067.12" width="17.27" height="17.26" fill="#630e97"/>
<rect x="829.37" y="1067.12" width="17.27" height="17.26" fill="#5e0997"/>
<rect x="846.33" y="1067.12" width="17.27" height="17.26" fill="#691497"/>
<rect x="863.3" y="1067.12" width="17.27" height="17.26" fill="#782397"/>
<rect x="880.27" y="1067.12" width="17.27" height="17.26" fill="#bb6495"/>
<rect x="897.23" y="1067.12" width="17.27" height="17.26" fill="#bb4b7b"/>
<rect x="914.2" y="1067.12" width="17.27" height="17.26" fill="#bb2353"/>
<rect x="931.16" y="1067.12" width="17.27" height="17.26" fill="#bb1c4d"/>
<rect x="948.13" y="1067.12" width="17.27" height="17.26" fill="#bb1c4c"/>
<rect x="965.1" y="1067.12" width="17.27" height="17.26" fill="#bb2656"/>
<rect x="982.06" y="1067.12" width="17.27" height="17.26" fill="#bb2758"/>
<rect x="999.03" y="1067.12" width="17.27" height="17.26" fill="#bb2757"/>
<rect x="15.0" y="1084.08" width="34.23" height="17.26" fill="#8c3797"/>
<rect x="48.93" y="1084.08" width="17.27" height="17.26" fill="#8e3a97"/>
<rect x="65.9" y="1084.08" width="17.27" height="17.26" fill="#954197"/>
<rect x="82.86" y="1084.08" width="17.27" height="17.26" fill="#9b4697"/>
<rect x="99.83" y="1084.08" width="17.27" height="17.26" fill="#a85397"/>
<rect x="116.8" y="1084.08" width="17.27" height="17.26" fill="#bb4475"/>
<rect x="133.76" y="1084.08" width="17.27" height="17.26" fill="#bb3161"/>
<rect x="150.73" y="1084.08" width="17.27" height="17.26" fill="#bb2858"/>
<rect x="167.69" y="1084.08" width="17.27" height="17.26" fill="#bb2f60"/>
<rect x="184.66" y="1084.08" width="17.27" height="17.26" fill="#bb396a"/>
<rect x="201.63" y="1084.08" width="17.27" height="17.26" fill="#bb4677"/>
<rect x="218.59" y="1084.08" width="17.27" height="17.26" fill="#bb5283"/>
<rect x="235.56" y="1084.08" width="17.27" height="17.26" fill="#bb4e7f"/>
<rect x="252.52" y="1084.08" width="17.27" height="17.26" fill="#bb4d7e"/>
<rect x="269.49" y="1084.08" width="17.27" height="17.26" fill="#bb5a8b"/>
<rect x="286.46" y="1084.08" width="17.27" height="17.26" fill="#bb6797"/>
<rect x="303.42" y="1084.08" width="17.27" height="17.26" fill="#994497"/>
<rect x="320.39" y="1084.08" width="17.27" height="17.26" fill="#762197"/>
<rect x="337.35" y="1084.08" width="34.23" height="17.26" fill="#741f97"/>
<rect x="371.29" y="1084.08" width="17.27" height="17.26" fill="#752197"/>
<rect x="388.25" y="1084.08" width="17.27" height="17.26" fill="#772397"/>
<rect x="405.22" y="1084.08" width="17.27" height="17.26" fill="#762297"/>
<rect x="422.18" y="1084.08" width="17.27" height="17.26" fill="#752097"/>
<rect x="439.15" y="1084.08" width="17.27" height="17.26" fill="#742097"/>
<rect x="456.12" y="1084.08" width="17.27" height="17.26" fill="#772297"/>
<rect x="473.08" y="1084.08" width="17.27" height="17.26" fill="#863297"/>
<rect x="490.05" y="1084.08" width="17.27" height="17.26" fill="#923e97"/>
<rect x="507.01" y="1084.08" width="17.27" height="17.26" fill="#a45097"/>
<rect x="523.98" y="1084.08" width="17.27" height="17.26" fill="#b86397"/>
<rect x="540.95" y="1084.08" width="34.23" height="17.26" fill="#bb6797"/>
<rect x="574.88" y="1084.08" width="17.27" height="17.26" fill="#b96497"/>
<rect x="591.84" y="1084.08" width="17.27" height="17.26" fill="#ae5a97"/>
<rect x="608.81" y="1084.08" width="17.27" height="17.26" fill="#9d4897"/>
<rect x="625.78" y="1084.08" width="17.27" height="17.26" fill="#792497"/>
<rect x="642.74" y="1084.08" width="17.27" height="17.26" fill="#731e97"/>
<rect x="659.71" y="1084.08" width="51.2" height="17.26" fill="#6d1897"/>
<rect x="710.61" y="1084.08" width="17.27" height="17.26" fill="#6d1997"/>
<rect x="727.57" y="1084.08" width="17.27" height="17.26" fill="#6e1997"/>
<rect x="744.54" y="1084.08" width="17.27" height="17.26" fill="#6c1797"/>
<rect x="761.5" y="1084.08" width="17.27" height="17.26" fill="#6a1597"/>
<rect x="778.47" y="1084.08" width="17.27" height="17.26" fill="#6a1697"/>
<rect x="795.44" y="1084.08" width="17.27" height="17.26" fill="#6c1797"/>
<rect x="812.4" y="1084.08" width="17.27" height="17.26" fill="#691497"/>
<rect x="829.37" y="1084.08" width="17.27" height="17.26" fill="#5d0997"/>
<rect x="846.33" y="1084.08" width="17.27" height="17.26" fill="#7b2697"/>
<rect x="863.3" y="1084.08" width="17.27" height="17.26" fill="#863297"/>
<rect x="880.27" y="1084.08" width="17.27" height="17.26" fill="#bb6797"/>
<rect x="897.23" y="1084.08" width="17.27" height="17.26" fill="#bb4879"/>
<rect x="914.2" y="1084.08" width="17.27" height="17.26" fill="#bb2353"/>
<rect x="931.16" y="1084.08" width="17.27" height="17.26" fill="#bb1b4b"/>
<rect x="948.13" y="1084.08" width="17.27" height="17.26" fill="#bb1848"/>
<rect x="965.1" y="1084.08" width="17.27" height="17.26" fill="#bb194a"/>
<rect x="982.06" y="1084.08" width="34.23" height="17.26" fill="#bb1a4b"/>
<rect x="15.0" y="1101.04" width="34.23" height="17.26" fill="#bb5c8d"/>
<rect x="48.93" y="1101.04" width="17.27" height="17.26" fill="#bb5a8a"/>
<rect x="65.9" y="1101.04" width="17.27" height="17.26" fill="#bb5585"/>
<rect x="82.86" y="1101.04" width="17.27" height="17.26" fill="#bb4d7e"/>
<rect x="99.83" y="1101.04" width="17.27" height="17.26" fill="#bb3d6d"/>
<rect x="116.8" y="1101.04" width="17.27" height="17.26" fill="#bb2b5c"/>
<rect x="133.76" y="1101.04" width="17.27" height="17.26" fill="#bb1e4f"/>
<rect x="150.73" y="1101.04" width="17.27" height="17.26" fill="#bb1647"/>
<rect x="167.69" y="1101.04" width="17.27" height="17.26" fill="#bb2051"/>
<rect x="184.66" y="1101.04" width="17.27" height="17.26" fill="#bb2c5c"/>
<rect x="201.63" y="1101.04" width="17.27" height="17.26" fill="#bb3666"/>
<rect x="218.59" y="1101.04" width="17.27" height="17.26" fill="#bb4475"/>
<rect x="235.56" y="1101.04" width="17.27" height="17.26" fill="#bb3e6f"/>
<rect x="252.52" y="1101.04" width="34.23" height="17.26" fill="#bb3d6e"/>
<rect x="286.46" y="1101.04" width="17.27" height="17.26" fill="#bb4273"/>
<rect x="303.42" y="1101.04" width="17.27" height="17.26" fill="#b76397"/>
<rect x="320.39" y="1101.04" width="17.27" height="17.26" fill="#aa5597"/>
<rect x="337.35" y="1101.04" width="17.27" height="17.26" fill="#a14d97"/>
<rect x="354.32" y="1101.04" width="17.27" height="17.26" fill="#9e4a97"/>
<rect x="371.29" y="1101.04" width="17.27" height="17.26" fill="#933f97"/>
<rect x="388.25" y="1101.04" width="17.27" height="17.26" fill="#843097"/>
<rect x="405.22" y="1101.04" width="17.27" height="17.26" fill="#7f2b97"/>
<rect x="422.18" y="1101.04" width="17.27" height="17.26" fill="#7f2a97"/>
<rect x="439.15" y="1101.04" width="17.27" height="17.26" fill="#873297"/>
<rect x="456.12" y="1101.04" width="17.27" height="17.26" fill="#9d4897"/>
<rect x="473.08" y="1101.04" width="17.27" height="17.26" fill="#ab5697"/>
<rect x="490.05" y="1101.04" width="17.27" height="17.26" fill="#bb6797"/>
<rect x="507.01" y="1101.04" width="17.27" height="17.26" fill="#bb5a8b"/>
<rect x="523.98" y="1101.04" width="17.27" height="17.26" fill="#bb4b7c"/>
<rect x="540.95" y="1101.04" width="17.27" height="17.26" fill="#bb4576"/>
<rect x="557.91" y="1101.04" width="34.23" height="17.26" fill="#bb3e6e"/>
<rect x="591.84" y="1101.04" width="17.27" height="17.26" fill="#bb4172"/>
<rect x="608.81" y="1101.04" width="17.27" height="17.26" fill="#bb4c7d"/>
<rect x="625.78" y="1101.04" width="17.27" height="17.26" fill="#a65197"/>
<rect x="642.74" y="1101.04" width="17.27" height="17.26" fill="#9b4797"/>
<rect x="659.71" y="1101.04" width="17.27" height="17.26" fill="#893597"/>
<rect x="676.67" y="1101.04" width="17.27" height="17.26" fill="#7b2697"/>
<rect x="693.64" y="1101.04" width="17.27" height="17.26" fill="#721e97"/>
<rect x="710.61" y="1101.04" width="17.27" height="17.26" fill="#721d97"/>
<rect x="727.57" y="1101.04" width="17.27" height="17.26" fill="#731e97"/>
<rect x="744.54" y="1101.04" width="17.27" height="17.26" fill="#721d97"/>
<rect x="761.5" y="1101.04" width="34.23" height="17.26" fill="#711d97"/>
<rect x="795.44" y="1101.04" width="17.27" height="17.26" fill="#721d97"/>
<rect x="812.4" y="1101.04" width="17.27" height="17.26" fill="#762197"/>
<rect x="829.37" y="1101.04" width="17.27" height="17.26" fill="#7d2997"/>
<rect x="846.33" y="1101.04" width="17.27" height="17.26" fill="#8a3597"/>
<rect x="863.3" y="1101.04" width="17.27" height="17.26" fill="#974297"/>
<rect x="880.27" y="1101.04" width="17.27" height="17.26" fill="#b96497"/>
<rect x="897.23" y="1101.04" width="17.27" height="17.26" fill="#bb4879"/>
<rect x="914.2" y="1101.04" width="17.27" height="17.26" fill="#bb2353"/>
<rect x="931.16" y="1101.04" width="17.27" height="17.26" fill="#bb1a4b"/>
<rect x="948.13" y="1101.04" width="17.27" height="17.26" fill="#bb1445"/>
<rect x="965.1" y="1101.04" width="17.27" height="17.26" fill="#bb1444"/>
<rect x="982.06" y="1101.04" width="17.27" height="17.26" fill="#bb1445"/>
<rect x="999.03" y="1101.04" width="17.27" height="17.26" fill="#bb1546"/>
<rect x="15.0" y="1118.0" width="17.27" height="17.26" fill="#bb2d5d"/>
<rect x="31.97" y="1118.0" width="17.27" height="17.26" fill="#bb2e5f"/>
<rect x="48.93" y="1118.0" width="17.27" height="17.26" fill="#bb2f60"/>
<rect x="65.9" y="1118.0" width="17.27" height="17.26" fill="#bb2656"/>
<rect x="82.86" y="1118.0" width="17.27" height="17.26" fill="#bb2758"/>
<rect x="99.83" y="1118.0" width="17.27" height="17.26" fill="#bb1849"/>
<rect x="116.8" y="1118.0" width="17.27" height="17.26" fill="#bb1040"/>
<rect x="133.76" y="1118.0" width="17.27" height="17.26" fill="#bb0d3d"/>
<rect x="150.73" y="1118.0" width="17.27" height="17.26" fill="#bb0a3b"/>
<rect x="167.69" y="1118.0" width="17.27" height="17.26" fill="#bb1243"/>
<rect x="184.66" y="1118.0" width="17.27" height="17.26" fill="#bb2051"/>
<rect x="201.63" y="1118.0" width="17.27" height="17.26" fill="#bb2a5b"/>
<rect x="218.59" y="1118.0" width="17.27" height="17.26" fill="#bb3262"/>
<rect x="235.56" y="1118.0" width="17.27" height="17.26" fill="#bb2f5f"/>
<rect x="252.52" y="1118.0" width="17.27" height="17.26" fill="#bb3060"/>
<rect x="269.49" y="1118.0" width="17.27" height="17.26" fill="#bb3364"/>
<rect x="286.46" y="1118.0" width="17.27" height="17.26" fill="#bb3868"/>
<rect x="303.42" y="1118.0" width="17.27" height="17.26" fill="#bb4575"/>
<rect x="320.39" y="1118.0" width="17.27" height="17.26" fill="#bb5687"/>
<rect x="337.35" y="1118.0" width="17.27" height="17.26" fill="#b96497"/>
<rect x="354.32" y="1118.0" width="17.27" height="17.26" fill="#aa5597"/>
<rect x="371.29" y="1118.0" width="17.27" height="17.26" fill="#9b4697"/>
<rect x="388.25" y="1118.0" width="17.27" height="17.26" fill="#8c3797"/>
<rect x="405.22" y="1118.0" width="17.27" height="17.26" fill="#863197"/>
<rect x="422.18" y="1118.0" width="17.27" height="17.26" fill="#893497"/>
<rect x="439.15" y="1118.0" width="17.27" height="17.26" fill="#9a4597"/>
<rect x="456.12" y="1118.0" width="17.27" height="17.26" fill="#b05b97"/>
<rect x="473.08" y="1118.0" width="17.27" height="17.26" fill="#bb6495"/>
<rect x="490.05" y="1118.0" width="17.27" height="17.26" fill="#bb5485"/>
<rect x="507.01" y="1118.0" width="17.27" height="17.26" fill="#bb3c6d"/>
<rect x="523.98" y="1118.0" width="17.27" height="17.26" fill="#bb2d5d"/>
<rect x="540.95" y="1118.0" width="17.27" height="17.26" fill="#bb2657"/>
<rect x="557.91" y="1118.0" width="17.27" height="17.26" fill="#bb1e4f"/>
<rect x="574.88" y="1118.0" width="17.27" height="17.26" fill="#bb1c4c"/>
<rect x="591.84" y="1118.0" width="17.27" height="17.26" fill="#bb2152"/>
<rect x="608.81" y="1118.0" width="17.27" height="17.26" fill="#bb3161"/>
<rect x="625.78" y="1118.0" width="17.27" height="17.26" fill="#bb5485"/>
<rect x="642.74" y="1118.0" width="17.27" height="17.26" fill="#bb6495"/>
<rect x="659.71" y="1118.0" width="17.27" height="17.26" fill="#a85397"/>
<rect x="676.67" y="1118.0" width="17.27" height="17.26" fill="#923e97"/>
<rect x="693.64" y="1118.0" width="17.27" height="17.26" fill="#752097"/>
<rect x="710.61" y="1118.0" width="85.13" height="17.26" fill="#741f97"/>
<rect x="795.44" y="1118.0" width="17.27" height="17.26" fill="#762197"/>
<rect x="812.4" y="1118.0" width="17.27" height="17.26" fill="#7b2797"/>
<rect x="829.37" y="1118.0" width="17.27" height="17.26" fill="#863297"/>
<rect x="846.33" y="1118.0" width="17.27" height="17.26" fill="#994597"/>
<rect x="863.3" y="1118.0" width="17.27" height="17.26" fill="#ad5897"/>
<rect x="880.27" y="1118.0" width="17.27" height="17.26" fill="#bb6797"/>
<rect x="897.23" y="1118.0" width="17.27" height="17.26" fill="#bb4b7c"/>
<rect x="914.2" y="1118.0" width="17.27" height="17.26" fill="#bb2858"/>
<rect x="931.16" y="1118.0" width="17.27" height="17.26" fill="#bb1c4d"/>
<rect x="948.13" y="1118.0" width="17.27" height="17.26" fill="#bb1748"/>
<rect x="965.1" y="1118.0" width="17.27" height="17.26" fill="#bb1546"/>
<rect x="982.06" y="1118.0" width="17.27" height="17.26" fill="#bb1748"/>
<rect x="999.03" y="1118.0" width="17.27" height="17.26" fill="#bb194a"/>
<rect x="15.0" y="1134.96" width="17.27" height="17.26" fill="#bb2152"/>
<rect x="31.97" y="1134.96" width="17.27" height="17.26" fill="#bb2253"/>
<rect x="48.93" y="1134.96" width="17.27" height="17.26" fill="#bb1242"/>
<rect x="65.9" y="1134.96" width="17.27" height="17.26" fill="#bb1243"/>
<rect x="82.86" y="1134.96" width="34.23" height="17.26" fill="#bb0b3b"/>
<rect x="116.8" y="1134.96" width="17.27" height="17.26" fill="#bb0a3a"/>
<rect x="133.76" y="1134.96" width="17.27" height="17.26" fill="#bb0839"/>
<rect x="150.73" y="1134.96" width="17.27" height="17.26" fill="#bb0b3b"/>
<rect x="167.69" y="1134.96" width="17.27" height="17.26" fill="#bb1344"/>
<rect x="184.66" y="1134.96" width="17.27" height="17.26" fill="#bb1e4f"/>
<rect x="201.63" y="1134.96" width="17.27" height="17.26" fill="#bb2656"/>
<rect x="218.59" y="1134.96" width="17.27" height="17.26" fill="#bb2859"/>
<rect x="235.56" y="1134.96" width="34.23" height="17.26" fill="#bb2758"/>
<rect x="269.49" y="1134.96" width="17.27" height="17.26" fill="#bb2959"/>
<rect x="286.46" y="1134.96" width="17.27" height="17.26" fill="#bb2a5b"/>
<rect x="303.42" y="1134.96" width="17.27" height="17.26" fill="#bb3263"/>
<rect x="320.39" y="1134.96" width="17.27" height="17.26" fill="#bb4879"/>
<rect x="337.35" y="1134.96" width="17.27" height="17.26" fill="#bb4a7b"/>
<rect x="354.32" y="1134.96" width="17.27" height="17.26" fill="#bb4879"/>
<rect x="371.29" y="1134.96" width="17.27" height="17.26" fill="#bb4c7d"/>
<rect x="388.25" y="1134.96" width="17.27" height="17.26" fill="#ab5797"/>
<rect x="405.22" y="1134.96" width="17.27" height="17.26" fill="#a95597"/>
<rect x="422.18" y="1134.96" width="17.27" height="17.26" fill="#aa5697"/>
<rect x="439.15" y="1134.96" width="17.27" height="17.26" fill="#bb6596"/>
<rect x="456.12" y="1134.96" width="17.27" height="17.26" fill="#bb5c8d"/>
<rect x="473.08" y="1134.96" width="17.27" height="17.26" fill="#bb5182"/>
<rect x="490.05" y="1134.96" width="17.27" height="17.26" fill="#bb4474"/>
<rect x="507.01" y="1134.96" width="17.27" height="17.26" fill="#bb3364"/>
<rect x="523.98" y="1134.96" width="17.27" height="17.26" fill="#bb2859"/>
<rect x="540.95" y="1134.96" width="17.27" height="17.26" fill="#bb1f4f"/>
<rect x="557.91" y="1134.96" width="17.27" height="17.26" fill="#bb1848"/>
<rect x="574.88" y="1134.96" width="17.27" height="17.26" fill="#bb1546"/>
<rect x="591.84" y="1134.96" width="17.27" height="17.26" fill="#bb1849"/>
<rect x="608.81" y="1134.96" width="17.27" height="17.26" fill="#bb2757"/>
<rect x="625.78" y="1134.96" width="17.27" height="17.26" fill="#bb4778"/>
<rect x="642.74" y="1134.96" width="17.27" height="17.26" fill="#bb4f80"/>
<rect x="659.71" y="1134.96" width="17.27" height="17.26" fill="#bb5c8d"/>
<rect x="676.67" y="1134.96" width="17.27" height="17.26" fill="#bb6393"/>
<rect x="693.64" y="1134.96" width="17.27" height="17.26" fill="#9b4797"/>
<rect x="710.61" y="1134.96" width="85.13" height="17.26" fill="#9d4897"/>
<rect x="795.44" y="1134.96" width="17.27" height="17.26" fill="#a24d97"/>
<rect x="812.4" y="1134.96" width="17.27" height="17.26" fill="#b25d97"/>
<rect x="829.37" y="1134.96" width="17.27" height="17.26" fill="#b35e97"/>
<rect x="846.33" y="1134.96" width="17.27" height="17.26" fill="#bb6596"/>
<rect x="863.3" y="1134.96" width="17.27" height="17.26" fill="#bb6797"/>
<rect x="880.27" y="1134.96" width="17.27" height="17.26" fill="#bb5788"/>
<rect x="897.23" y="1134.96" width="17.27" height="17.26" fill="#bb4f7f"/>
<rect x="914.2" y="1134.96" width="17.27" height="17.26" fill="#bb3a6a"/>
<rect x="931.16" y="1134.96" width="17.27" height="17.26" fill="#bb2757"/>
<rect x="948.13" y="1134.96" width="17.27" height="17.26" fill="#bb1e4f"/>
<rect x="965.1" y="1134.96" width="17.27" height="17.26" fill="#bb1c4d"/>
<rect x="982.06" y="1134.96" width="17.27" height="17.26" fill="#bb2050"/>
<rect x="999.03" y="1134.96" width="17.27" height="17.26" fill="#bb2455"/>
<rect x="15.0" y="1151.92" width="17.27" height="17.26" fill="#bb0d3e"/>
<rect x="31.97" y="1151.92" width="34.23" height="17.26" fill="#bb0535"/>
<rect x="65.9" y="1151.92" width="17.27" height="17.26" fill="#bb0536"/>
<rect x="82.86" y="1151.92" width="34.23" height="17.26" fill="#bb0434"/>
<rect x="116.8" y="1151.92" width="17.27" height="17.26" fill="#bb0536"/>
<rect x="133.76" y="1151.92" width="17.27" height="17.26" fill="#bb0738"/>
<rect x="150.73" y="1151.92" width="17.27" height="17.26" fill="#bb0c3d"/>
<rect x="167.69" y="1151.92" width="17.27" height="17.26" fill="#bb1546"/>
<rect x="184.66" y="1151.92" width="17.27" height="17.26" fill="#bb1d4e"/>
<rect x="201.63" y="1151.92" width="17.27" height="17.26" fill="#bb2152"/>
<rect x="218.59" y="1151.92" width="68.16" height="17.26" fill="#bb2252"/>
<rect x="286.46" y="1151.92" width="17.27" height="17.26" fill="#bb2253"/>
<rect x="303.42" y="1151.92" width="17.27" height="17.26" fill="#bb2353"/>
<rect x="320.39" y="1151.92" width="17.27" height="17.26" fill="#bb2151"/>
<rect x="337.35" y="1151.92" width="17.27" height="17.26" fill="#bb2252"/>
<rect x="354.32" y="1151.92" width="17.27" height="17.26" fill="#bb295a"/>
<rect x="371.29" y="1151.92" width="17.27" height="17.26" fill="#bb3566"/>
<rect x="388.25" y="1151.92" width="17.27" height="17.26" fill="#bb3f6f"/>
<rect x="405.22" y="1151.92" width="17.27" height="17.26" fill="#bb4677"/>
<rect x="422.18" y="1151.92" width="17.27" height="17.26" fill="#bb5787"/>
<rect x="439.15" y="1151.92" width="17.27" height="17.26" fill="#bb5182"/>
<rect x="456.12" y="1151.92" width="17.27" height="17.26" fill="#bb4777"/>
<rect x="473.08" y="1151.92" width="17.27" height="17.26" fill="#bb3e6e"/>
<rect x="490.05" y="1151.92" width="17.27" height="17.26" fill="#bb3464"/>
<rect x="507.01" y="1151.92" width="17.27" height="17.26" fill="#bb2959"/>
<rect x="523.98" y="1151.92" width="17.27" height="17.26" fill="#bb2152"/>
<rect x="540.95" y="1151.92" width="17.27" height="17.26" fill="#bb1849"/>
<rect x="557.91" y="1151.92" width="17.27" height="17.26" fill="#bb1242"/>
<rect x="574.88" y="1151.92" width="17.27" height="17.26" fill="#bb1040"/>
<rect x="591.84" y="1151.92" width="17.27" height="17.26" fill="#bb1243"/>
<rect x="608.81" y="1151.92" width="17.27" height="17.26" fill="#bb1b4c"/>
<rect x="625.78" y="1151.92" width="17.27" height="17.26" fill="#bb3b6b"/>
<rect x="642.74" y="1151.92" width="17.27" height="17.26" fill="#bb3c6c"/>
<rect x="659.71" y="1151.92" width="17.27" height="17.26" fill="#bb3e6e"/>
<rect x="676.67" y="1151.92" width="17.27" height="17.26" fill="#bb5283"/>
<rect x="693.64" y="1151.92" width="17.27" height="17.26" fill="#bb6293"/>
<rect x="710.61" y="1151.92" width="17.27" height="17.26" fill="#bb6495"/>
<rect x="727.57" y="1151.92" width="17.27" height="17.26" fill="#bb6393"/>
<rect x="744.54" y="1151.92" width="17.27" height="17.26" fill="#bb6495"/>
<rect x="761.5" y="1151.92" width="34.23" height="17.26" fill="#bb6797"/>
<rect x="795.44" y="1151.92" width="17.27" height="17.26" fill="#bb6596"/>
<rect x="812.4" y="1151.92" width="17.27" height="17.26" fill="#bb5b8c"/>
<rect x="829.37" y="1151.92" width="17.27" height="17.26" fill="#bb5283"/>
<rect x="846.33" y="1151.92" width="17.27" height="17.26" fill="#bb5282"/>
<rect x="863.3" y="1151.92" width="17.27" height="17.26" fill="#bb4979"/>
<rect x="880.27" y="1151.92" width="17.27" height="17.26" fill="#bb497a"/>
<rect x="897.23" y="1151.92" width="17.27" height="17.26" fill="#bb4576"/>
<rect x="914.2" y="1151.92" width="17.27" height="17.26" fill="#bb3667"/>
<rect x="931.16" y="1151.92" width="17.27" height="17.26" fill="#bb2a5b"/>
<rect x="948.13" y="1151.92" width="17.27" height="17.26" fill="#bb2252"/>
<rect x="965.1" y="1151.92" width="17.27" height="17.26" fill="#bb2152"/>
<rect x="982.06" y="1151.92" width="17.27" height="17.26" fill="#bb2758"/>
<rect x="999.03" y="1151.92" width="17.27" height="17.26" fill="#bb2e5e"/>
<rect x="15.0" y="1168.88" width="17.27" height="17.26" fill="#bb0839"/>
<rect x="31.97" y="1168.88" width="17.27" height="17.26" fill="#bb0435"/>
<rect x="48.93" y="1168.88" width="17.27" height="17.26" fill="#bb0132"/>
<rect x="65.9" y="1168.88" width="17.27" height="17.26" fill="#bb0131"/>
<rect x="82.86" y="1168.88" width="17.27" height="17.26" fill="#bb0132"/>
<rect x="99.83" y="1168.88" width="17.27" height="17.26" fill="#bb0434"/>
<rect x="116.8" y="1168.88" width="17.27" height="17.26" fill="#bb0738"/>
<rect x="133.76" y="1168.88" width="17.27" height="17.26" fill="#bb0a3a"/>
<rect x="150.73" y="1168.88" width="17.27" height="17.26" fill="#bb0e3f"/>
<rect x="167.69" y="1168.88" width="17.27" height="17.26" fill="#bb1646"/>
<rect x="184.66" y="1168.88" width="17.27" height="17.26" fill="#bb1d4d"/>
<rect x="201.63" y="1168.88" width="17.27" height="17.26" fill="#bb1f4f"/>
<rect x="218.59" y="1168.88" width="17.27" height="17.26" fill="#bb1e4f"/>
<rect x="235.56" y="1168.88" width="17.27" height="17.26" fill="#bb1f4f"/>
<rect x="252.52" y="1168.88" width="85.13" height="17.26" fill="#bb1f50"/>
<rect x="337.35" y="1168.88" width="17.27" height="17.26" fill="#bb2252"/>
<rect x="354.32" y="1168.88" width="17.27" height="17.26" fill="#bb2959"/>
<rect x="371.29" y="1168.88" width="17.27" height="17.26" fill="#bb3162"/>
<rect x="388.25" y="1168.88" width="17.27" height="17.26" fill="#bb3869"/>
<rect x="405.22" y="1168.88" width="17.27" height="17.26" fill="#bb3c6d"/>
<rect x="422.18" y="1168.88" width="17.27" height="17.26" fill="#bb3d6e"/>
<rect x="439.15" y="1168.88" width="17.27" height="17.26" fill="#bb3f6f"/>
<rect x="456.12" y="1168.88" width="17.27" height="17.26" fill="#bb3364"/>
<rect x="473.08" y="1168.88" width="17.27" height="17.26" fill="#bb3060"/>
<rect x="490.05" y="1168.88" width="17.27" height="17.26" fill="#bb2959"/>
<rect x="507.01" y="1168.88" width="17.27" height="17.26" fill="#bb2051"/>
<rect x="523.98" y="1168.88" width="17.27" height="17.26" fill="#bb194a"/>
<rect x="540.95" y="1168.88" width="17.27" height="17.26" fill="#bb1445"/>
<rect x="557.91" y="1168.88" width="17.27" height="17.26" fill="#bb1243"/>
<rect x="574.88" y="1168.88" width="17.27" height="17.26" fill="#bb1344"/>
<rect x="591.84" y="1168.88" width="17.27" height="17.26" fill="#bb1646"/>
<rect x="608.81" y="1168.88" width="17.27" height="17.26" fill="#bb1a4b"/>
<rect x="625.78" y="1168.88" width="17.27" height="17.26" fill="#bb2656"/>
<rect x="642.74" y="1168.88" width="17.27" height="17.26" fill="#bb295a"/>
<rect x="659.71" y="1168.88" width="17.27" height="17.26" fill="#bb2c5d"/>
<rect x="676.67" y="1168.88" width="17.27" height="17.26" fill="#bb3c6c"/>
<rect x="693.64" y="1168.88" width="17.27" height="17.26" fill="#bb4273"/>
<rect x="710.61" y="1168.88" width="17.27" height="17.26" fill="#bb4474"/>
<rect x="727.57" y="1168.88" width="17.27" height="17.26" fill="#bb5283"/>
<rect x="744.54" y="1168.88" width="17.27" height="17.26" fill="#bb4474"/>
<rect x="761.5" y="1168.88" width="34.23" height="17.26" fill="#bb4172"/>
<rect x="795.44" y="1168.88" width="17.27" height="17.26" fill="#bb4374"/>
<rect x="812.4" y="1168.88" width="34.23" height="17.26" fill="#bb4677"/>
<rect x="846.33" y="1168.88" width="17.27" height="17.26" fill="#bb4474"/>
<rect x="863.3" y="1168.88" width="17.27" height="17.26" fill="#bb4070"/>
<rect x="880.27" y="1168.88" width="34.23" height="17.26" fill="#bb4071"/>
<rect x="914.2" y="1168.88" width="17.27" height="17.26" fill="#bb3667"/>
<rect x="931.16" y="1168.88" width="17.27" height="17.26" fill="#bb295a"/>
<rect x="948.13" y="1168.88" width="34.23" height="17.26" fill="#bb2252"/>
<rect x="982.06" y="1168.88" width="17.27" height="17.26" fill="#bb295a"/>
<rect x="999.03" y="1168.88" width="17.27" height="17.26" fill="#bb3061"/>
<rect x="15.0" y="1185.84" width="17.27" height="17.26" fill="#bb0e3f"/>
<rect x="31.97" y="1185.84" width="17.27" height="17.26" fill="#bb0b3b"/>
<rect x="48.93" y="1185.84" width="17.27" height="17.26" fill="#bb0738"/>
<rect x="65.9" y="1185.84" width="17.27" height="17.26" fill="#bb0636"/>
<rect x="82.86" y="1185.84" width="17.27" height="17.26" fill="#bb0738"/>
<rect x="99.83" y="1185.84" width="17.27" height="17.26" fill="#bb0a3b"/>
<rect x="116.8" y="1185.84" width="17.27" height="17.26" fill="#bb0d3d"/>
<rect x="133.76" y="1185.84" width="17.27" height="17.26" fill="#bb0f3f"/>
<rect x="150.73" y="1185.84" width="17.27" height="17.26" fill="#bb1243"/>
<rect x="167.69" y="1185.84" width="17.27" height="17.26" fill="#bb1849"/>
<rect x="184.66" y="1185.84" width="17.27" height="17.26" fill="#bb1d4d"/>
<rect x="201.63" y="1185.84" width="17.27" height="17.26" fill="#bb1c4d"/>
<rect x="218.59" y="1185.84" width="17.27" height="17.26" fill="#bb1a4b"/>
<rect x="235.56" y="1185.84" width="17.27" height="17.26" fill="#bb1b4c"/>
<rect x="252.52" y="1185.84" width="85.13" height="17.26" fill="#bb1d4d"/>
<rect x="337.35" y="1185.84" width="17.27" height="17.26" fill="#bb2050"/>
<rect x="354.32" y="1185.84" width="17.27" height="17.26" fill="#bb2757"/>
<rect x="371.29" y="1185.84" width="34.23" height="17.26" fill="#bb2c5d"/>
<rect x="405.22" y="1185.84" width="17.27" height="17.26" fill="#bb2455"/>
<rect x="422.18" y="1185.84" width="17.27" height="17.26" fill="#bb2a5b"/>
<rect x="439.15" y="1185.84" width="34.23" height="17.26" fill="#bb2151"/>
<rect x="473.08" y="1185.84" width="17.27" height="17.26" fill="#bb2152"/>
<rect x="490.05" y="1185.84" width="17.27" height="17.26" fill="#bb1e4f"/>
<rect x="507.01" y="1185.84" width="17.27" height="17.26" fill="#bb1848"/>
<rect x="523.98" y="1185.84" width="17.27" height="17.26" fill="#bb1142"/>
<rect x="540.95" y="1185.84" width="17.27" height="17.26" fill="#bb1040"/>
<rect x="557.91" y="1185.84" width="17.27" height="17.26" fill="#bb1444"/>
<rect x="574.88" y="1185.84" width="17.27" height="17.26" fill="#bb1849"/>
<rect x="591.84" y="1185.84" width="17.27" height="17.26" fill="#bb1b4c"/>
<rect x="608.81" y="1185.84" width="51.2" height="17.26" fill="#bb1d4d"/>
<rect x="659.71" y="1185.84" width="17.27" height="17.26" fill="#bb1f50"/>
<rect x="676.67" y="1185.84" width="17.27" height="17.26" fill="#bb2b5b"/>
<rect x="693.64" y="1185.84" width="17.27" height="17.26" fill="#bb3667"/>
<rect x="710.61" y="1185.84" width="17.27" height="17.26" fill="#bb3a6a"/>
<rect x="727.57" y="1185.84" width="17.27" height="17.26" fill="#bb3e6e"/>
<rect x="744.54" y="1185.84" width="17.27" height="17.26" fill="#bb3a6a"/>
<rect x="761.5" y="1185.84" width="68.16" height="17.26" fill="#bb3969"/>
<rect x="829.37" y="1185.84" width="17.27" height="17.26" fill="#bb3869"/>
<rect x="846.33" y="1185.84" width="17.27" height="17.26" fill="#bb3667"/>
<rect x="863.3" y="1185.84" width="17.27" height="17.26" fill="#bb3465"/>
<rect x="880.27" y="1185.84" width="17.27" height="17.26" fill="#bb3768"/>
<rect x="897.23" y="1185.84" width="17.27" height="17.26" fill="#bb3d6e"/>
<rect x="914.2" y="1185.84" width="17.27" height="17.26" fill="#bb3364"/>
<rect x="931.16" y="1185.84" width="17.27" height="17.26" fill="#bb2757"/>
<rect x="948.13" y="1185.84" width="17.27" height="17.26" fill="#bb1f50"/>
<rect x="965.1" y="1185.84" width="17.27" height="17.26" fill="#bb2050"/>
<rect x="982.06" y="1185.84" width="17.27" height="17.26" fill="#bb2959"/>
<rect x="999.03" y="1185.84" width="17.27" height="17.26" fill="#bb3061"/>
<rect x="15.0" y="1202.8" width="17.27" height="17.26" fill="#bb194a"/>
<rect x="31.97" y="1202.8" width="17.27" height="17.26" fill="#bb1243"/>
<rect x="48.93" y="1202.8" width="17.27" height="17.26" fill="#bb1142"/>
<rect x="65.9" y="1202.8" width="17.27" height="17.26" fill="#bb1444"/>
<rect x="82.86" y="1202.8" width="17.27" height="17.26" fill="#bb1646"/>
<rect x="99.83" y="1202.8" width="17.27" height="17.26" fill="#bb1748"/>
<rect x="116.8" y="1202.8" width="17.27" height="17.26" fill="#bb1848"/>
<rect x="133.76" y="1202.8" width="17.27" height="17.26" fill="#bb1849"/>
<rect x="150.73" y="1202.8" width="17.27" height="17.26" fill="#bb1b4b"/>
<rect x="167.69" y="1202.8" width="17.27" height="17.26" fill="#bb1e4f"/>
<rect x="184.66" y="1202.8" width="17.27" height="17.26" fill="#bb1d4e"/>
<rect x="201.63" y="1202.8" width="17.27" height="17.26" fill="#bb1949"/>
<rect x="218.59" y="1202.8" width="34.23" height="17.26" fill="#bb1647"/>
<rect x="252.52" y="1202.8" width="17.27" height="17.26" fill="#bb1546"/>
<rect x="269.49" y="1202.8" width="34.23" height="17.26" fill="#bb1344"/>
<rect x="303.42" y="1202.8" width="17.27" height="17.26" fill="#bb1546"/>
<rect x="320.39" y="1202.8" width="17.27" height="17.26" fill="#bb1748"/>
<rect x="337.35" y="1202.8" width="17.27" height="17.26" fill="#bb1c4d"/>
<rect x="354.32" y="1202.8" width="17.27" height="17.26" fill="#bb2556"/>
<rect x="371.29" y="1202.8" width="17.27" height="17.26" fill="#bb295a"/>
<rect x="388.25" y="1202.8" width="17.27" height="17.26" fill="#bb2757"/>
<rect x="405.22" y="1202.8" width="17.27" height="17.26" fill="#bb2455"/>
<rect x="422.18" y="1202.8" width="17.27" height="17.26" fill="#bb2253"/>
<rect x="439.15" y="1202.8" width="17.27" height="17.26" fill="#bb1b4c"/>
<rect x="456.12" y="1202.8" width="17.27" height="17.26" fill="#bb1646"/>
<rect x="473.08" y="1202.8" width="34.23" height="17.26" fill="#bb1546"/>
<rect x="507.01" y="1202.8" width="17.27" height="17.26" fill="#bb1243"/>
<rect x="523.98" y="1202.8" width="34.23" height="17.26" fill="#bb0d3e"/>
<rect x="557.91" y="1202.8" width="17.27" height="17.26" fill="#bb1445"/>
<rect x="574.88" y="1202.8" width="17.27" height="17.26" fill="#bb1b4c"/>
<rect x="591.84" y="1202.8" width="34.23" height="17.26" fill="#bb1f4f"/>
<rect x="625.78" y="1202.8" width="17.27" height="17.26" fill="#bb1d4e"/>
<rect x="642.74" y="1202.8" width="17.27" height="17.26" fill="#bb1d4d"/>
<rect x="659.71" y="1202.8" width="17.27" height="17.26" fill="#bb2050"/>
<rect x="676.67" y="1202.8" width="17.27" height="17.26" fill="#bb2959"/>
<rect x="693.64" y="1202.8" width="17.27" height="17.26" fill="#bb3162"/>
<rect x="710.61" y="1202.8" width="17.27" height="17.26" fill="#bb3667"/>
<rect x="727.57" y="1202.8" width="17.27" height="17.26" fill="#bb3969"/>
<rect x="744.54" y="1202.8" width="17.27" height="17.26" fill="#bb3667"/>
<rect x="761.5" y="1202.8" width="68.16" height="17.26" fill="#bb3464"/>
<rect x="829.37" y="1202.8" width="17.27" height="17.26" fill="#bb3262"/>
<rect x="846.33" y="1202.8" width="17.27" height="17.26" fill="#bb2d5e"/>
<rect x="863.3" y="1202.8" width="34.23" height="17.26" fill="#bb2a5b"/>
<rect x="897.23" y="1202.8" width="17.27" height="17.26" fill="#bb2e5f"/>
<rect x="914.2" y="1202.8" width="17.27" height="17.26" fill="#bb2859"/>
<rect x="931.16" y="1202.8" width="17.27" height="17.26" fill="#bb2152"/>
<rect x="948.13" y="1202.8" width="17.27" height="17.26" fill="#bb1a4b"/>
<rect x="965.1" y="1202.8" width="17.27" height="17.26" fill="#bb1c4d"/>
<rect x="982.06" y="1202.8" width="17.27" height="17.26" fill="#bb2758"/>
<rect x="999.03" y="1202.8" width="17.27" height="17.26" fill="#bb3061"/>
<rect x="15.0" y="1219.76" width="17.27" height="17.26" fill="#bb3f70"/>
<rect x="31.97" y="1219.76" width="17.27" height="17.26" fill="#bb3a6a"/>
<rect x="48.93" y="1219.76" width="17.27" height="17.26" fill="#bb3969"/>
<rect x="65.9" y="1219.76" width="17.27" height="17.26" fill="#bb2455"/>
<rect x="82.86" y="1219.76" width="68.16" height="17.26" fill="#bb2353"/>
<rect x="150.73" y="1219.76" width="17.27" height="17.26" fill="#bb2556"/>
<rect x="167.69" y="1219.76" width="17.27" height="17.26" fill="#bb2859"/>
<rect x="184.66" y="1219.76" width="17.27" height="17.26" fill="#bb2253"/>
<rect x="201.63" y="1219.76" width="17.27" height="17.26" fill="#bb1a4a"/>
<rect x="218.59" y="1219.76" width="17.27" height="17.26" fill="#bb1647"/>
<rect x="235.56" y="1219.76" width="17.27" height="17.26" fill="#bb1344"/>
<rect x="252.52" y="1219.76" width="17.27" height="17.26" fill="#bb0e3f"/>
<rect x="269.49" y="1219.76" width="34.23" height="17.26" fill="#bb0a3a"/>
<rect x="303.42" y="1219.76" width="17.27" height="17.26" fill="#bb0d3e"/>
<rect x="320.39" y="1219.76" width="17.27" height="17.26" fill="#bb1142"/>
<rect x="337.35" y="1219.76" width="17.27" height="17.26" fill="#bb1748"/>
<rect x="354.32" y="1219.76" width="17.27" height="17.26" fill="#bb2253"/>
<rect x="371.29" y="1219.76" width="34.23" height="17.26" fill="#bb2757"/>
<rect x="405.22" y="1219.76" width="17.27" height="17.26" fill="#bb2656"/>
<rect x="422.18" y="1219.76" width="17.27" height="17.26" fill="#bb2354"/>
<rect x="439.15" y="1219.76" width="17.27" height="17.26" fill="#bb1a4b"/>
<rect x="456.12" y="1219.76" width="17.27" height="17.26" fill="#bb1242"/>
<rect x="473.08" y="1219.76" width="17.27" height="17.26" fill="#bb1040"/>
<rect x="490.05" y="1219.76" width="34.23" height="17.26" fill="#bb1142"/>
<rect x="523.98" y="1219.76" width="17.27" height="17.26" fill="#bb0d3e"/>
<rect x="540.95" y="1219.76" width="17.27" height="17.26" fill="#bb0e3f"/>
<rect x="557.91" y="1219.76" width="17.27" height="17.26" fill="#bb1748"/>
<rect x="574.88" y="1219.76" width="17.27" height="17.26" fill="#bb1f50"/>
<rect x="591.84" y="1219.76" width="68.16" height="17.26" fill="#bb2252"/>
<rect x="659.71" y="1219.76" width="17.27" height="17.26" fill="#bb2454"/>
<rect x="676.67" y="1219.76" width="17.27" height="17.26" fill="#bb295a"/>
<rect x="693.64" y="1219.76" width="17.27" height="17.26" fill="#bb2e5f"/>
<rect x="710.61" y="1219.76" width="17.27" height="17.26" fill="#bb3162"/>
<rect x="727.57" y="1219.76" width="17.27" height="17.26" fill="#bb3969"/>
<rect x="744.54" y="1219.76" width="17.27" height="17.26" fill="#bb3061"/>
<rect x="761.5" y="1219.76" width="51.2" height="17.26" fill="#bb2e5f"/>
<rect x="812.4" y="1219.76" width="17.27" height="17.26" fill="#bb2f60"/>
<rect x="829.37" y="1219.76" width="17.27" height="17.26" fill="#bb2e5f"/>
<rect x="846.33" y="1219.76" width="17.27" height="17.26" fill="#bb295a"/>
<rect x="863.3" y="1219.76" width="17.27" height="17.26" fill="#bb2454"/>
<rect x="880.27" y="1219.76" width="34.23" height="17.26" fill="#bb2253"/>
<rect x="914.2" y="1219.76" width="17.27" height="17.26" fill="#bb2050"/>
<rect x="931.16" y="1219.76" width="17.27" height="17.26" fill="#bb1b4c"/>
<rect x="948.13" y="1219.76" width="17.27" height="17.26" fill="#bb1748"/>
<rect x="965.1" y="1219.76" width="17.27" height="17.26" fill="#bb1a4b"/>
<rect x="982.06" y="1219.76" width="17.27" height="17.26" fill="#bb2757"/>
<rect x="999.03" y="1219.76" width="17.27" height="17.26" fill="#bb3061"/>
<rect x="15.0" y="1236.72" width="17.27" height="17.26" fill="#bb4576"/>
<rect x="31.97" y="1236.72" width="17.27" height="17.26" fill="#bb4575"/>
<rect x="48.93" y="1236.72" width="17.27" height="17.26" fill="#bb4474"/>
<rect x="65.9" y="1236.72" width="17.27" height="17.26" fill="#bb4676"/>
<rect x="82.86" y="1236.72" width="85.13" height="17.26" fill="#bb4879"/>
<rect x="167.69" y="1236.72" width="17.27" height="17.26" fill="#bb3a6a"/>
<rect x="184.66" y="1236.72" width="17.27" height="17.26" fill="#bb3363"/>
<rect x="201.63" y="1236.72" width="17.27" height="17.26" fill="#bb2455"/>
<rect x="218.59" y="1236.72" width="17.27" height="17.26" fill="#bb1a4a"/>
<rect x="235.56" y="1236.72" width="17.27" height="17.26" fill="#bb1546"/>
<rect x="252.52" y="1236.72" width="17.27" height="17.26" fill="#bb0f40"/>
<rect x="269.49" y="1236.72" width="17.27" height="17.26" fill="#bb0b3c"/>
<rect x="286.46" y="1236.72" width="34.23" height="17.26" fill="#bb0b3b"/>
<rect x="320.39" y="1236.72" width="17.27" height="17.26" fill="#bb0b3c"/>
<rect x="337.35" y="1236.72" width="17.27" height="17.26" fill="#bb0e3e"/>
<rect x="354.32" y="1236.72" width="17.27" height="17.26" fill="#bb1748"/>
<rect x="371.29" y="1236.72" width="17.27" height="17.26" fill="#bb2050"/>
<rect x="388.25" y="1236.72" width="17.27" height="17.26" fill="#bb2657"/>
<rect x="405.22" y="1236.72" width="17.27" height="17.26" fill="#bb295a"/>
<rect x="422.18" y="1236.72" width="17.27" height="17.26" fill="#bb2a5b"/>
<rect x="439.15" y="1236.72" width="17.27" height="17.26" fill="#bb1d4d"/>
<rect x="456.12" y="1236.72" width="17.27" height="17.26" fill="#bb1445"/>
<rect x="473.08" y="1236.72" width="17.27" height="17.26" fill="#bb1344"/>
<rect x="490.05" y="1236.72" width="34.23" height="17.26" fill="#bb1748"/>
<rect x="523.98" y="1236.72" width="17.27" height="17.26" fill="#bb1142"/>
<rect x="540.95" y="1236.72" width="17.27" height="17.26" fill="#bb1243"/>
<rect x="557.91" y="1236.72" width="17.27" height="17.26" fill="#bb1d4e"/>
<rect x="574.88" y="1236.72" width="17.27" height="17.26" fill="#bb2556"/>
<rect x="591.84" y="1236.72" width="17.27" height="17.26" fill="#bb2757"/>
<rect x="608.81" y="1236.72" width="17.27" height="17.26" fill="#bb2758"/>
<rect x="625.78" y="1236.72" width="17.27" height="17.26" fill="#bb2959"/>
<rect x="642.74" y="1236.72" width="17.27" height="17.26" fill="#bb2a5b"/>
<rect x="659.71" y="1236.72" width="17.27" height="17.26" fill="#bb2b5c"/>
<rect x="676.67" y="1236.72" width="17.27" height="17.26" fill="#bb2c5d"/>
<rect x="693.64" y="1236.72" width="17.27" height="17.26" fill="#bb2a5b"/>
<rect x="710.61" y="1236.72" width="17.27" height="17.26" fill="#bb2555"/>
<rect x="727.57" y="1236.72" width="17.27" height="17.26" fill="#bb2051"/>
<rect x="744.54" y="1236.72" width="17.27" height="17.26" fill="#bb2151"/>
<rect x="761.5" y="1236.72" width="34.23" height="17.26" fill="#bb2252"/>
<rect x="795.44" y="1236.72" width="17.27" height="17.26" fill="#bb2253"/>
<rect x="812.4" y="1236.72" width="17.27" height="17.26" fill="#bb2656"/>
<rect x="829.37" y="1236.72" width="17.27" height="17.26" fill="#bb2959"/>
<rect x="846.33" y="1236.72" width="17.27" height="17.26" fill="#bb2656"/>
<rect x="863.3" y="1236.72" width="17.27" height="17.26" fill="#bb1f50"/>
<rect x="880.27" y="1236.72" width="17.27" height="17.26" fill="#bb1c4d"/>
<rect x="897.23" y="1236.72" width="17.27" height="17.26" fill="#bb194a"/>
<rect x="914.2" y="1236.72" width="17.27" height="17.26" fill="#bb1647"/>
<rect x="931.16" y="1236.72" width="17.27" height="17.26" fill="#bb1445"/>
<rect x="948.13" y="1236.72" width="17.27" height="17.26" fill="#bb1344"/>
<rect x="965.1" y="1236.72" width="17.27" height="17.26" fill="#bb1848"/>
<rect x="982.06" y="1236.72" width="17.27" height="17.26" fill="#bb2757"/>
<rect x="999.03" y="1236.72" width="17.27" height="17.26" fill="#bb2f60"/>
<rect x="15.0" y="1253.68" width="17.27" height="17.26" fill="#bb4d7e"/>
<rect x="31.97" y="1253.68" width="17.27" height="17.26" fill="#bb5283"/>
<rect x="48.93" y="1253.68" width="17.27" height="17.26" fill="#ba6697"/>
<rect x="65.9" y="1253.68" width="17.27" height="17.26" fill="#aa5697"/>
<rect x="82.86" y="1253.68" width="17.27" height="17.26" fill="#8b3797"/>
<rect x="99.83" y="1253.68" width="17.27" height="17.26" fill="#923e97"/>
<rect x="116.8" y="1253.68" width="17.27" height="17.26" fill="#9e4a97"/>
<rect x="133.76" y="1253.68" width="17.27" height="17.26" fill="#a85397"/>
<rect x="150.73" y="1253.68" width="17.27" height="17.26" fill="#b45f97"/>
<rect x="167.69" y="1253.68" width="17.27" height="17.26" fill="#bb5c8c"/>
<rect x="184.66" y="1253.68" width="17.27" height="17.26" fill="#bb4777"/>
<rect x="201.63" y="1253.68" width="17.27" height="17.26" fill="#bb3263"/>
<rect x="218.59" y="1253.68" width="17.27" height="17.26" fill="#bb2151"/>
<rect x="235.56" y="1253.68" width="17.27" height="17.26" fill="#bb1a4b"/>
<rect x="252.52" y="1253.68" width="17.27" height="17.26" fill="#bb1546"/>
<rect x="269.49" y="1253.68" width="17.27" height="17.26" fill="#bb1243"/>
<rect x="286.46" y="1253.68" width="17.27" height="17.26" fill="#bb1141"/>
<rect x="303.42" y="1253.68" width="17.27" height="17.26" fill="#bb0b3c"/>
<rect x="320.39" y="1253.68" width="17.27" height="17.26" fill="#bb0839"/>
<rect x="337.35" y="1253.68" width="17.27" height="17.26" fill="#bb0a3b"/>
<rect x="354.32" y="1253.68" width="17.27" height="17.26" fill="#bb0f40"/>
<rect x="371.29" y="1253.68" width="17.27" height="17.26" fill="#bb1949"/>
<rect x="388.25" y="1253.68" width="17.27" height="17.26" fill="#bb2354"/>
<rect x="405.22" y="1253.68" width="17.27" height="17.26" fill="#bb2a5b"/>
<rect x="422.18" y="1253.68" width="17.27" height="17.26" fill="#bb3263"/>
<rect x="439.15" y="1253.68" width="17.27" height="17.26" fill="#bb3667"/>
<rect x="456.12" y="1253.68" width="17.27" height="17.26" fill="#bb3566"/>
<rect x="473.08" y="1253.68" width="17.27" height="17.26" fill="#bb3061"/>
<rect x="490.05" y="1253.68" width="17.27" height="17.26" fill="#bb2656"/>
<rect x="507.01" y="1253.68" width="17.27" height="17.26" fill="#bb2455"/>
<rect x="523.98" y="1253.68" width="17.27" height="17.26" fill="#bb1e4f"/>
<rect x="540.95" y="1253.68" width="17.27" height="17.26" fill="#bb1d4e"/>
<rect x="557.91" y="1253.68" width="17.27" height="17.26" fill="#bb2555"/>
<rect x="574.88" y="1253.68" width="17.27" height="17.26" fill="#bb2859"/>
<rect x="591.84" y="1253.68" width="17.27" height="17.26" fill="#bb295a"/>
<rect x="608.81" y="1253.68" width="17.27" height="17.26" fill="#bb2b5b"/>
<rect x="625.78" y="1253.68" width="17.27" height="17.26" fill="#bb2d5e"/>
<rect x="642.74" y="1253.68" width="17.27" height="17.26" fill="#bb3060"/>
<rect x="659.71" y="1253.68" width="17.27" height="17.26" fill="#bb3162"/>
<rect x="676.67" y="1253.68" width="17.27" height="17.26" fill="#bb2e5f"/>
<rect x="693.64" y="1253.68" width="17.27" height="17.26" fill="#bb2859"/>
<rect x="710.61" y="1253.68" width="17.27" height="17.26" fill="#bb2051"/>
<rect x="727.57" y="1253.68" width="17.27" height="17.26" fill="#bb1b4b"/>
<rect x="744.54" y="1253.68" width="17.27" height="17.26" fill="#bb1849"/>
<rect x="761.5" y="1253.68" width="34.23" height="17.26" fill="#bb1848"/>
<rect x="795.44" y="1253.68" width="17.27" height="17.26" fill="#bb194a"/>
<rect x="812.4" y="1253.68" width="17.27" height="17.26" fill="#bb1f50"/>
<rect x="829.37" y="1253.68" width="17.27" height="17.26" fill="#bb2454"/>
<rect x="846.33" y="1253.68" width="17.27" height="17.26" fill="#bb2051"/>
<rect x="863.3" y="1253.68" width="17.27" height="17.26" fill="#bb1a4b"/>
<rect x="880.27" y="1253.68" width="17.27" height="17.26" fill="#bb1646"/>
<rect x="897.23" y="1253.68" width="17.27" height="17.26" fill="#bb1142"/>
<rect x="914.2" y="1253.68" width="17.27" height="17.26" fill="#bb0e3f"/>
<rect x="931.16" y="1253.68" width="34.23" height="17.26" fill="#bb0d3e"/>
<rect x="965.1" y="1253.68" width="17.27" height="17.26" fill="#bb1142"/>
<rect x="982.06" y="1253.68" width="17.27" height="17.26" fill="#bb2051"/>
<rect x="999.03" y="1253.68" width="17.27" height="17.26" fill="#bb2c5d"/>
<rect x="15.0" y="1270.64" width="17.27" height="17.26" fill="#bb5686"/>
<rect x="31.97" y="1270.64" width="17.27" height="17.26" fill="#bb5e8f"/>
<rect x="48.93" y="1270.64" width="17.27" height="17.26" fill="#b15c97"/>
<rect x="65.9" y="1270.64" width="17.27" height="17.26" fill="#a24d97"/>
<rect x="82.86" y="1270.64" width="17.27" height="17.26" fill="#853197"/>
<rect x="99.83" y="1270.64" width="17.27" height="17.26" fill="#943f97"/>
<rect x="116.8" y="1270.64" width="17.27" height="17.26" fill="#a14c97"/>
<rect x="133.76" y="1270.64" width="17.27" height="17.26" fill="#a95497"/>
<rect x="150.73" y="1270.64" width="17.27" height="17.26" fill="#b35e97"/>
<rect x="167.69" y="1270.64" width="17.27" height="17.26" fill="#bb6191"/>
<rect x="184.66" y="1270.64" width="17.27" height="17.26" fill="#bb5484"/>
<rect x="201.63" y="1270.64" width="17.27" height="17.26" fill="#bb4071"/>
<rect x="218.59" y="1270.64" width="17.27" height="17.26" fill="#bb2354"/>
<rect x="235.56" y="1270.64" width="17.27" height="17.26" fill="#bb1f50"/>
<rect x="252.52" y="1270.64" width="17.27" height="17.26" fill="#bb194a"/>
<rect x="269.49" y="1270.64" width="17.27" height="17.26" fill="#bb1646"/>
<rect x="286.46" y="1270.64" width="17.27" height="17.26" fill="#bb1243"/>
<rect x="303.42" y="1270.64" width="17.27" height="17.26" fill="#bb0d3d"/>
<rect x="320.39" y="1270.64" width="17.27" height="17.26" fill="#bb0939"/>
<rect x="337.35" y="1270.64" width="17.27" height="17.26" fill="#bb0839"/>
<rect x="354.32" y="1270.64" width="17.27" height="17.26" fill="#bb0b3c"/>
<rect x="371.29" y="1270.64" width="17.27" height="17.26" fill="#bb1546"/>
<rect x="388.25" y="1270.64" width="17.27" height="17.26" fill="#bb1f4f"/>
<rect x="405.22" y="1270.64" width="17.27" height="17.26" fill="#bb2353"/>
<rect x="422.18" y="1270.64" width="17.27" height="17.26" fill="#bb295a"/>
<rect x="439.15" y="1270.64" width="68.16" height="17.26" fill="#bb2c5d"/>
<rect x="507.01" y="1270.64" width="17.27" height="17.26" fill="#bb2b5c"/>
<rect x="523.98" y="1270.64" width="17.27" height="17.26" fill="#bb2859"/>
<rect x="540.95" y="1270.64" width="34.23" height="17.26" fill="#bb2454"/>
<rect x="574.88" y="1270.64" width="17.27" height="17.26" fill="#bb2758"/>
<rect x="591.84" y="1270.64" width="17.27" height="17.26" fill="#bb295a"/>
<rect x="608.81" y="1270.64" width="17.27" height="17.26" fill="#bb2a5b"/>
<rect x="625.78" y="1270.64" width="17.27" height="17.26" fill="#bb2b5c"/>
<rect x="642.74" y="1270.64" width="17.27" height="17.26" fill="#bb2d5d"/>
<rect x="659.71" y="1270.64" width="17.27" height="17.26" fill="#bb2d5e"/>
<rect x="676.67" y="1270.64" width="17.27" height="17.26" fill="#bb2c5d"/>
<rect x="693.64" y="1270.64" width="17.27" height="17.26" fill="#bb2758"/>
<rect x="710.61" y="1270.64" width="17.27" height="17.26" fill="#bb2152"/>
<rect x="727.57" y="1270.64" width="17.27" height="17.26" fill="#bb1b4c"/>
<rect x="744.54" y="1270.64" width="17.27" height="17.26" fill="#bb1647"/>
<rect x="761.5" y="1270.64" width="17.27" height="17.26" fill="#bb1344"/>
<rect x="778.47" y="1270.64" width="17.27" height="17.26" fill="#bb1243"/>
<rect x="795.44" y="1270.64" width="17.27" height="17.26" fill="#bb1445"/>
<rect x="812.4" y="1270.64" width="17.27" height="17.26" fill="#bb194a"/>
<rect x="829.37" y="1270.64" width="34.23" height="17.26" fill="#bb1d4e"/>
<rect x="863.3" y="1270.64" width="17.27" height="17.26" fill="#bb1849"/>
<rect x="880.27" y="1270.64" width="17.27" height="17.26" fill="#bb1445"/>
<rect x="897.23" y="1270.64" width="17.27" height="17.26" fill="#bb0f40"/>
<rect x="914.2" y="1270.64" width="17.27" height="17.26" fill="#bb0b3c"/>
<rect x="931.16" y="1270.64" width="17.27" height="17.26" fill="#bb0a3b"/>
<rect x="948.13" y="1270.64" width="17.27" height="17.26" fill="#bb0939"/>
<rect x="965.1" y="1270.64" width="17.27" height="17.26" fill="#bb0d3e"/>
<rect x="982.06" y="1270.64" width="17.27" height="17.26" fill="#bb1c4d"/>
<rect x="999.03" y="1270.64" width="17.27" height="17.26" fill="#bb2556"/>
<rect x="15.0" y="1287.6" width="17.27" height="17.26" fill="#bb5c8d"/>
<rect x="31.97" y="1287.6" width="17.27" height="17.26" fill="#bb6495"/>
<rect x="48.93" y="1287.6" width="17.27" height="17.26" fill="#af5b97"/>
<rect x="65.9" y="1287.6" width="17.27" height="17.26" fill="#a34f97"/>
<rect x="82.86" y="1287.6" width="17.27" height="17.26" fill="#812c97"/>
<rect x="99.83" y="1287.6" width="17.27" height="17.26" fill="#9e4997"/>
<rect x="116.8" y="1287.6" width="17.27" height="17.26" fill="#a34f97"/>
<rect x="133.76" y="1287.6" width="17.27" height="17.26" fill="#a95597"/>
<rect x="150.73" y="1287.6" width="17.27" height="17.26" fill="#b25d97"/>
<rect x="167.69" y="1287.6" width="17.27" height="17.26" fill="#bb6696"/>
<rect x="184.66" y="1287.6" width="17.27" height="17.26" fill="#bb6192"/>
<rect x="201.63" y="1287.6" width="17.27" height="17.26" fill="#bb4777"/>
<rect x="218.59" y="1287.6" width="17.27" height="17.26" fill="#bb2859"/>
<rect x="235.56" y="1287.6" width="17.27" height="17.26" fill="#bb2354"/>
<rect x="252.52" y="1287.6" width="17.27" height="17.26" fill="#bb1d4d"/>
<rect x="269.49" y="1287.6" width="17.27" height="17.26" fill="#bb1747"/>
<rect x="286.46" y="1287.6" width="17.27" height="17.26" fill="#bb1243"/>
<rect x="303.42" y="1287.6" width="17.27" height="17.26" fill="#bb0d3e"/>
<rect x="320.39" y="1287.6" width="17.27" height="17.26" fill="#bb093a"/>
<rect x="337.35" y="1287.6" width="17.27" height="17.26" fill="#bb0636"/>
<rect x="354.32" y="1287.6" width="17.27" height="17.26" fill="#bb0839"/>
<rect x="371.29" y="1287.6" width="17.27" height="17.26" fill="#bb1344"/>
<rect x="388.25" y="1287.6" width="17.27" height="17.26" fill="#bb1d4d"/>
<rect x="405.22" y="1287.6" width="17.27" height="17.26" fill="#bb2051"/>
<rect x="422.18" y="1287.6" width="17.27" height="17.26" fill="#bb2252"/>
<rect x="439.15" y="1287.6" width="17.27" height="17.26" fill="#bb2353"/>
<rect x="456.12" y="1287.6" width="17.27" height="17.26" fill="#bb2455"/>
<rect x="473.08" y="1287.6" width="17.27" height="17.26" fill="#bb295a"/>
<rect x="490.05" y="1287.6" width="17.27" height="17.26" fill="#bb2e5f"/>
<rect x="507.01" y="1287.6" width="17.27" height="17.26" fill="#bb3061"/>
<rect x="523.98" y="1287.6" width="17.27" height="17.26" fill="#bb2e5e"/>
<rect x="540.95" y="1287.6" width="17.27" height="17.26" fill="#bb2757"/>
<rect x="557.91" y="1287.6" width="17.27" height="17.26" fill="#bb2354"/>
<rect x="574.88" y="1287.6" width="17.27" height="17.26" fill="#bb2757"/>
<rect x="591.84" y="1287.6" width="102.1" height="17.26" fill="#bb295a"/>
<rect x="693.64" y="1287.6" width="17.27" height="17.26" fill="#bb2757"/>
<rect x="710.61" y="1287.6" width="17.27" height="17.26" fill="#bb2252"/>
<rect x="727.57" y="1287.6" width="17.27" height="17.26" fill="#bb1d4d"/>
<rect x="744.54" y="1287.6" width="17.27" height="17.26" fill="#bb1646"/>
<rect x="761.5" y="1287.6" width="17.27" height="17.26" fill="#bb1040"/>
<rect x="778.47" y="1287.6" width="17.27" height="17.26" fill="#bb0e3f"/>
<rect x="795.44" y="1287.6" width="17.27" height="17.26" fill="#bb0f40"/>
<rect x="812.4" y="1287.6" width="17.27" height="17.26" fill="#bb1243"/>
<rect x="829.37" y="1287.6" width="17.27" height="17.26" fill="#bb1747"/>
<rect x="846.33" y="1287.6" width="17.27" height="17.26" fill="#bb1849"/>
<rect x="863.3" y="1287.6" width="17.27" height="17.26" fill="#bb2b5b"/>
<rect x="880.27" y="1287.6" width="17.27" height="17.26" fill="#bb1d4d"/>
<rect x="897.23" y="1287.6" width="17.27" height="17.26" fill="#bb1243"/>
<rect x="914.2" y="1287.6" width="17.27" height="17.26" fill="#bb0d3d"/>
<rect x="931.16" y="1287.6" width="17.27" height="17.26" fill="#bb093a"/>
<rect x="948.13" y="1287.6" width="17.27" height="17.26" fill="#bb0636"/>
<rect x="965.1" y="1287.6" width="17.27" height="17.26" fill="#bb0738"/>
<rect x="982.06" y="1287.6" width="17.27" height="17.26" fill="#bb1646"/>
<rect x="999.03" y="1287.6" width="17.27" height="17.26" fill="#bb1f50"/>
</g>
<g fill="#000">
<circle cx="23.4" cy="208.5" r="1.5"/>
<circle cx="40.4" cy="208.5" r="1.5"/>
<circle cx="57.4" cy="208.5" r="1.5"/>
<circle cx="74.4" cy="206.3" r="1.5"/>
<circle cx="91.4" cy="203.4" r="1.5"/>
<circle cx="103.3" cy="197.3" r="1.5"/>
<circle cx="108.4" cy="192.5" r="1.5"/>
<circle cx="124.6" cy="180.4" r="1.5"/>
<circle cx="125.6" cy="180.4" r="1.5"/>
<circle cx="142.4" cy="175.3" r="1.5"/>
<circle cx="159.4" cy="171.4" r="1.5"/>
<circle cx="176.4" cy="174.3" r="1.5"/>
<circle cx="193.4" cy="178.3" r="1.5"/>
<circle cx="206.4" cy="180.4" r="1.5"/>
<circle cx="210.4" cy="182.3" r="1.5"/>
<circle cx="227.4" cy="191.4" r="1.5"/>
<circle cx="244.4" cy="188.3" r="1.5"/>
<circle cx="261.4" cy="185.3" r="1.5"/>
<circle cx="278.3" cy="190.4" r="1.5"/>
<circle cx="295.2" cy="196.3" r="1.5"/>
<circle cx="296.7" cy="197.3" r="1.5"/>
<circle cx="312.4" cy="208.3" r="1.5"/>
<circle cx="319.3" cy="214.2" r="1.5"/>
<circle cx="329.3" cy="224.3" r="1.5"/>
<circle cx="346.2" cy="230.3" r="1.5"/>
<circle cx="348.6" cy="231.4" r="1.5"/>
<circle cx="363.4" cy="235.3" r="1.5"/>
<circle cx="380.5" cy="240.2" r="1.5"/>
<circle cx="397.4" cy="247.2" r="1.5"/>
<circle cx="403.4" cy="248.4" r="1.5"/>
<circle cx="414.3" cy="250.4" r="1.5"/>
<circle cx="431.4" cy="256.4" r="1.5"/>
<circle cx="448.2" cy="249.6" r="1.5"/>
<circle cx="449.6" cy="248.4" r="1.5"/>
<circle cx="465.4" cy="240.3" r="1.5"/>
<circle cx="476.5" cy="231.3" r="1.5"/>
<circle cx="482.4" cy="227.2" r="1.5"/>
<circle cx="499.4" cy="217.3" r="1.5"/>
<circle cx="502.4" cy="214.3" r="1.5"/>
<circle cx="515.4" cy="206.3" r="1.5"/>
<circle cx="530.3" cy="197.3" r="1.5"/>
<circle cx="532.4" cy="196.6" r="1.5"/>
<circle cx="545.4" cy="197.3" r="1.5"/>
<circle cx="549.4" cy="198.3" r="1.5"/>
<circle cx="566.4" cy="197.3" r="1.5"/>
<circle cx="583.4" cy="200.5" r="1.5"/>
<circle cx="600.4" cy="201.4" r="1.5"/>
<circle cx="617.4" cy="208.5" r="1.5"/>
<circle cx="628.5" cy="214.3" r="1.5"/>
<circle cx="634.4" cy="221.4" r="1.5"/>
<circle cx="651.2" cy="231.3" r="1.5"/>
<circle cx="652.6" cy="231.3" r="1.5"/>
<circle cx="668.4" cy="239.6" r="1.5"/>
<circle cx="685.3" cy="248.4" r="1.5"/>
<circle cx="686.7" cy="248.4" r="1.5"/>
<circle cx="702.4" cy="262.4" r="1.5"/>
<circle cx="719.4" cy="263.2" r="1.5"/>
<circle cx="736.4" cy="265.4" r="1.5"/>
<circle cx="753.4" cy="263.2" r="1.5"/>
<circle cx="770.4" cy="261.5" r="1.5"/>
<circle cx="787.4" cy="261.5" r="1.5"/>
<circle cx="804.4" cy="262.4" r="1.5"/>
<circle cx="821.6" cy="256.4" r="1.5"/>
<circle cx="838.3" cy="250.5" r="1.5"/>
<circle cx="846.4" cy="248.3" r="1.5"/>
<circle cx="855.3" cy="246.4" r="1.5"/>
<circle cx="872.3" cy="240.2" r="1.5"/>
<circle cx="882.3" cy="231.3" r="1.5"/>
<circle cx="884.4" cy="214.3" r="1.5"/>
<circle cx="885.5" cy="197.4" r="1.5"/>
<circle cx="886.4" cy="180.4" r="1.5"/>
<circle cx="888.3" cy="163.6" r="1.5"/>
<circle cx="889.4" cy="146.6" r="1.5"/>
<circle cx="889.4" cy="147.9" r="1.5"/>
<circle cx="894.4" cy="129.4" r="1.5"/>
<circle cx="889.4" cy="122.5" r="1.5"/>
<circle cx="884.4" cy="112.4" r="1.5"/>
<circle cx="872.4" cy="95.4" r="1.5"/>
<circle cx="877.4" cy="78.4" r="1.5"/>
<circle cx="884.4" cy="61.4" r="1.5"/>
<circle cx="23.4" cy="655.9" r="1.5"/>
<circle cx="40.4" cy="655.9" r="1.5"/>
<circle cx="57.4" cy="655.9" r="1.5"/>
<circle cx="74.4" cy="653.7" r="1.5"/>
<circle cx="91.4" cy="650.8" r="1.5"/>
<circle cx="103.3" cy="644.7" r="1.5"/>
<circle cx="108.4" cy="639.9" r="1.5"/>
<circle cx="124.6" cy="627.8" r="1.5"/>
<circle cx="125.6" cy="627.8" r="1.5"/>
<circle cx="142.4" cy="622.7" r="1.5"/>
<circle cx="159.4" cy="618.8" r="1.5"/>
<circle cx="176.4" cy="621.7" r="1.5"/>
<circle cx="193.4" cy="625.7" r="1.5"/>
<circle cx="206.4" cy="627.8" r="1.5"/>
<circle cx="210.4" cy="629.7" r="1.5"/>
<circle cx="227.4" cy="638.8" r="1.5"/>
<circle cx="244.4" cy="635.7" r="1.5"/>
<circle cx="261.4" cy="632.7" r="1.5"/>
<circle cx="278.3" cy="637.8" r="1.5"/>
<circle cx="295.2" cy="643.7" r="1.5"/>
<circle cx="296.7" cy="644.7" r="1.5"/>
<circle cx="312.4" cy="655.7" r="1.5"/>
<circle cx="319.3" cy="661.6" r="1.5"/>
<circle cx="329.3" cy="671.7" r="1.5"/>
<circle cx="346.2" cy="677.7" r="1.5"/>
<circle cx="348.6" cy="678.8" r="1.5"/>
<circle cx="363.4" cy="682.7" r="1.5"/>
<circle cx="380.5" cy="687.6" r="1.5"/>
<circle cx="397.4" cy="694.6" r="1.5"/>
<circle cx="403.4" cy="695.8" r="1.5"/>
<circle cx="414.3" cy="697.8" r="1.5"/>
<circle cx="431.4" cy="703.8" r="1.5"/>
<circle cx="448.2" cy="697.0" r="1.5"/>
<circle cx="449.6" cy="695.8" r="1.5"/>
<circle cx="465.4" cy="687.7" r="1.5"/>
<circle cx="476.5" cy="678.7" r="1.5"/>
<circle cx="482.4" cy="674.6" r="1.5"/>
<circle cx="499.4" cy="664.7" r="1.5"/>
<circle cx="502.4" cy="661.7" r="1.5"/>
<circle cx="515.4" cy="653.7" r="1.5"/>
<circle cx="530.3" cy="644.7" r="1.5"/>
<circle cx="532.4" cy="644.0" r="1.5"/>
<circle cx="545.4" cy="644.7" r="1.5"/>
<circle cx="549.4" cy="645.7" r="1.5"/>
<circle cx="566.4" cy="644.7" r="1.5"/>
<circle cx="583.4" cy="647.9" r="1.5"/>
<circle cx="600.4" cy="648.8" r="1.5"/>
<circle cx="617.4" cy="655.9" r="1.5"/>
<circle cx="628.5" cy="661.7" r="1.5"/>
<circle cx="634.4" cy="668.8" r="1.5"/>
<circle cx="651.2" cy="678.7" r="1.5"/>
<circle cx="652.6" cy="678.7" r="1.5"/>
<circle cx="668.4" cy="687.0" r="1.5"/>
<circle cx="685.3" cy="695.8" r="1.5"/>
<circle cx="686.7" cy="695.8" r="1.5"/>
<circle cx="702.4" cy="709.8" r="1.5"/>
<circle cx="719.4" cy="710.6" r="1.5"/>
<circle cx="736.4" cy="712.8" r="1.5"/>
<circle cx="753.4" cy="710.6" r="1.5"/>
<circle cx="770.4" cy="708.9" r="1.5"/>
<circle cx="787.4" cy="708.9" r="1.5"/>
<circle cx="804.4" cy="709.8" r="1.5"/>
<circle cx="821.6" cy="703.8" r="1.5"/>
<circle cx="838.3" cy="697.9" r="1.5"/>
<circle cx="846.4" cy="695.7" r="1.5"/>
<circle cx="855.3" cy="693.8" r="1.5"/>
<circle cx="872.3" cy="687.6" r="1.5"/>
<circle cx="882.3" cy="678.7" r="1.5"/>
<circle cx="884.4" cy="661.7" r="1.5"/>
<circle cx="885.5" cy="644.8" r="1.5"/>
<circle cx="886.4" cy="627.8" r="1.5"/>
<circle cx="888.3" cy="611.0" r="1.5"/>
<circle cx="889.4" cy="594.0" r="1.5"/>
<circle cx="889.4" cy="595.3" r="1.5"/>
<circle cx="894.4" cy="576.8" r="1.5"/>
<circle cx="889.4" cy="569.9" r="1.5"/>
<circle cx="884.4" cy="559.8" r="1.5"/>
<circle cx="872.4" cy="542.8" r="1.5"/>
<circle cx="877.4" cy="525.8" r="1.5"/>
<circle cx="884.4" cy="508.8" r="1.5"/>
<circle cx="23.4" cy="1103.9" r="1.5"/>
<circle cx="40.4" cy="1103.9" r="1.5"/>
<circle cx="57.4" cy="1103.9" r="1.5"/>
<circle cx="74.4" cy="1101.7" r="1.5"/>
<circle cx="91.4" cy="1098.8" r="1.5"/>
<circle cx="103.3" cy="1092.7" r="1.5"/>
<circle cx="108.4" cy="1087.9" r="1.5"/>
<circle cx="124.6" cy="1075.8" r="1.5"/>
<circle cx="125.6" cy="1075.8" r="1.5"/>
<circle cx="142.4" cy="1070.7" r="1.5"/>
<circle cx="159.4" cy="1066.8" r="1.5"/>
<circle cx="176.4" cy="1069.7" r="1.5"/>
<circle cx="193.4" cy="1073.7" r="1.5"/>
<circle cx="206.4" cy="1075.8" r="1.5"/>
<circle cx="210.4" cy="1077.7" r="1.5"/>
<circle cx="227.4" cy="1086.8" r="1.5"/>
<circle cx="244.4" cy="1083.7" r="1.5"/>
<circle cx="261.4" cy="1080.7" r="1.5"/>
<circle cx="278.3" cy="1085.8" r="1.5"/>
<circle cx="295.2" cy="1091.7" r="1.5"/>
<circle cx="296.7" cy="1092.7" r="1.5"/>
<circle cx="312.4" cy="1103.7" r="1.5"/>
<circle cx="319.3" cy="1109.5" r="1.5"/>
<circle cx="329.3" cy="1119.7" r="1.5"/>
<circle cx="346.2" cy="1125.7" r="1.5"/>
<circle cx="348.6" cy="1126.8" r="1.5"/>
<circle cx="363.4" cy="1130.7" r="1.5"/>
<circle cx="380.5" cy="1135.5" r="1.5"/>
<circle cx="397.4" cy="1142.5" r="1.5"/>
<circle cx="403.4" cy="1143.8" r="1.5"/>
<circle cx="414.3" cy="1145.8" r="1.5"/>
<circle cx="431.4" cy="1151.8" r="1.5"/>
<circle cx="448.2" cy="1145.0" r="1.5"/>
<circle cx="449.6" cy="1143.8" r="1.5"/>
<circle cx="465.4" cy="1135.7" r="1.5"/>
<circle cx="476.5" cy="1126.7" r="1.5"/>
<circle cx="482.4" cy="1122.5" r="1.5"/>
<circle cx="499.4" cy="1112.7" r="1.5"/>
<circle cx="502.4" cy="1109.7" r="1.5"/>
<circle cx="515.4" cy="1101.7" r="1.5"/>
<circle cx="530.3" cy="1092.7" r="1.5"/>
<circle cx="532.4" cy="1092.0" r="1.5"/>
<circle cx="545.4" cy="1092.7" r="1.5"/>
<circle cx="549.4" cy="1093.7" r="1.5"/>
<circle cx="566.4" cy="1092.7" r="1.5"/>
<circle cx="583.4" cy="1095.9" r="1.5"/>
<circle cx="600.4" cy="1096.8" r="1.5"/>
<circle cx="617.4" cy="1103.9" r="1.5"/>
<circle cx="628.5" cy="1109.7" r="1.5"/>
<circle cx="634.4" cy="1116.8" r="1.5"/>
<circle cx="651.2" cy="1126.7" r="1.5"/>
<circle cx="652.6" cy="1126.7" r="1.5"/>
<circle cx="668.4" cy="1135.0" r="1.5"/>
<circle cx="685.3" cy="1143.8" r="1.5"/>
<circle cx="686.7" cy="1143.8" r="1.5"/>
<circle cx="702.4" cy="1157.8" r="1.5"/>
<circle cx="719.4" cy="1158.5" r="1.5"/>
<circle cx="736.4" cy="1160.8" r="1.5"/>
<circle cx="753.4" cy="1158.5" r="1.5"/>
<circle cx="770.4" cy="1156.9" r="1.5"/>
<circle cx="787.4" cy="1156.9" r="1.5"/>
<circle cx="804.4" cy="1157.8" r="1.5"/>
<circle cx="821.6" cy="1151.8" r="1.5"/>
<circle cx="838.3" cy="1145.9" r="1.5"/>
<circle cx="846.4" cy="1143.7" r="1.5"/>
<circle cx="855.3" cy="1141.8" r="1.5"/>
<circle cx="872.3" cy="1135.5" r="1.5"/>
<circle cx="882.3" cy="1126.7" r="1.5"/>
<circle cx="884.4" cy="1109.7" r="1.5"/>
<circle cx="885.5" cy="1092.8" r="1.5"/>
<circle cx="886.4" cy="1075.8" r="1.5"/>
<circle cx="888.3" cy="1059.0" r="1.5"/>
<circle cx="889.4" cy="1042.0" r="1.5"/>
<circle cx="889.4" cy="1043.2" r="1.5"/>
<circle cx="894.4" cy="1024.8" r="1.5"/>
<circle cx="889.4" cy="1017.9" r="1.5"/>
<circle cx="884.4" cy="1007.8" r="1.5"/>
<circle cx="872.4" cy="990.8" r="1.5"/>
<circle cx="877.4" cy="973.8" r="1.5"/>
<circle cx="884.4" cy="956.8" r="1.5"/>
</g>
</svg>
<div class="title" style="top:10.1px">sar1718</div>
<div class="title" style="top:457.7px">2003-04-01-09-54-51</div>
<div class="title" style="top:906.1px">L7</div>
<div class="legend"></div>
<span class="sw" style="top:706.9px;background:#ff8d3c"></span><span class="lb" style="top:701.3px">sand</span>
<span class="sw" style="top:737.0px;background:#ccffff"></span><span class="lb" style="top:731.5px">whitewater</span>
<span class="sw" style="top:767.9px;background:#005bff"></span><span class="lb" style="top:761.7px">water</span>
<span class="sw" style="top:805px;height:3px;width:44.2px;background:#000"></span><span class="lb" style="top:791.9px">shoreline</span>
<span class="sw" style="top:828px;height:16.8px;background:#9f3232;border:2.2px solid #800f14"></span><span class="lb" style="top:822.1px">reference shoreline buffer</span>
</body></html>
